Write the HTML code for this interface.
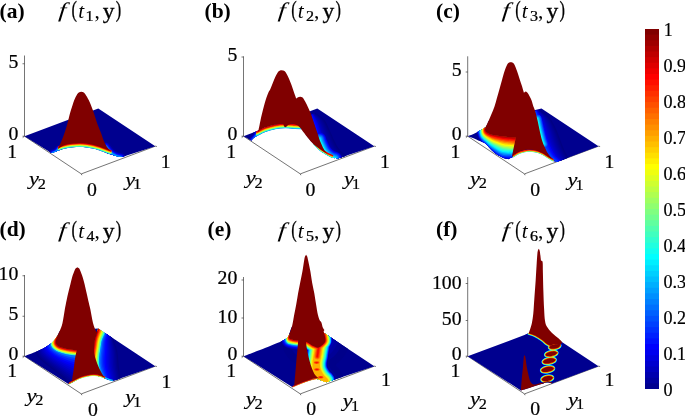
<!DOCTYPE html>
<html><head><meta charset="utf-8"><title>figure</title>
<style>
html,body{margin:0;padding:0;background:#fff;}
svg{display:block;font-family:"Liberation Serif","DejaVu Serif",serif;fill:#000;}
.b{font-weight:bold;}
.i{font-style:italic;}
</style></head><body>
<svg width="685" height="417" viewBox="0 0 685 417">
<rect width="685" height="417" fill="#fff"/>
<rect x="645" y="29.000" width="14" height="360.000" fill="#800000"/>
<rect x="645" y="34.625" width="14" height="354.375" fill="#8f0000"/>
<rect x="645" y="40.250" width="14" height="348.750" fill="#9f0000"/>
<rect x="645" y="45.875" width="14" height="343.125" fill="#af0000"/>
<rect x="645" y="51.500" width="14" height="337.500" fill="#bf0000"/>
<rect x="645" y="57.125" width="14" height="331.875" fill="#cf0000"/>
<rect x="645" y="62.750" width="14" height="326.250" fill="#df0000"/>
<rect x="645" y="68.375" width="14" height="320.625" fill="#ef0000"/>
<rect x="645" y="74.000" width="14" height="315.000" fill="#ff0000"/>
<rect x="645" y="79.625" width="14" height="309.375" fill="#ff1000"/>
<rect x="645" y="85.250" width="14" height="303.750" fill="#ff2000"/>
<rect x="645" y="90.875" width="14" height="298.125" fill="#ff3000"/>
<rect x="645" y="96.500" width="14" height="292.500" fill="#ff4000"/>
<rect x="645" y="102.125" width="14" height="286.875" fill="#ff5000"/>
<rect x="645" y="107.750" width="14" height="281.250" fill="#ff6000"/>
<rect x="645" y="113.375" width="14" height="275.625" fill="#ff7000"/>
<rect x="645" y="119.000" width="14" height="270.000" fill="#ff8000"/>
<rect x="645" y="124.625" width="14" height="264.375" fill="#ff8f00"/>
<rect x="645" y="130.250" width="14" height="258.750" fill="#ff9f00"/>
<rect x="645" y="135.875" width="14" height="253.125" fill="#ffaf00"/>
<rect x="645" y="141.500" width="14" height="247.500" fill="#ffbf00"/>
<rect x="645" y="147.125" width="14" height="241.875" fill="#ffcf00"/>
<rect x="645" y="152.750" width="14" height="236.250" fill="#ffdf00"/>
<rect x="645" y="158.375" width="14" height="230.625" fill="#ffef00"/>
<rect x="645" y="164.000" width="14" height="225.000" fill="#ffff00"/>
<rect x="645" y="169.625" width="14" height="219.375" fill="#efff10"/>
<rect x="645" y="175.250" width="14" height="213.750" fill="#dfff20"/>
<rect x="645" y="180.875" width="14" height="208.125" fill="#cfff30"/>
<rect x="645" y="186.500" width="14" height="202.500" fill="#bfff40"/>
<rect x="645" y="192.125" width="14" height="196.875" fill="#afff50"/>
<rect x="645" y="197.750" width="14" height="191.250" fill="#9fff60"/>
<rect x="645" y="203.375" width="14" height="185.625" fill="#8fff70"/>
<rect x="645" y="209.000" width="14" height="180.000" fill="#80ff80"/>
<rect x="645" y="214.625" width="14" height="174.375" fill="#70ff8f"/>
<rect x="645" y="220.250" width="14" height="168.750" fill="#60ff9f"/>
<rect x="645" y="225.875" width="14" height="163.125" fill="#50ffaf"/>
<rect x="645" y="231.500" width="14" height="157.500" fill="#40ffbf"/>
<rect x="645" y="237.125" width="14" height="151.875" fill="#30ffcf"/>
<rect x="645" y="242.750" width="14" height="146.250" fill="#20ffdf"/>
<rect x="645" y="248.375" width="14" height="140.625" fill="#10ffef"/>
<rect x="645" y="254.000" width="14" height="135.000" fill="#00ffff"/>
<rect x="645" y="259.625" width="14" height="129.375" fill="#00efff"/>
<rect x="645" y="265.250" width="14" height="123.750" fill="#00dfff"/>
<rect x="645" y="270.875" width="14" height="118.125" fill="#00cfff"/>
<rect x="645" y="276.500" width="14" height="112.500" fill="#00bfff"/>
<rect x="645" y="282.125" width="14" height="106.875" fill="#00afff"/>
<rect x="645" y="287.750" width="14" height="101.250" fill="#009fff"/>
<rect x="645" y="293.375" width="14" height="95.625" fill="#008fff"/>
<rect x="645" y="299.000" width="14" height="90.000" fill="#0080ff"/>
<rect x="645" y="304.625" width="14" height="84.375" fill="#0070ff"/>
<rect x="645" y="310.250" width="14" height="78.750" fill="#0060ff"/>
<rect x="645" y="315.875" width="14" height="73.125" fill="#0050ff"/>
<rect x="645" y="321.500" width="14" height="67.500" fill="#0040ff"/>
<rect x="645" y="327.125" width="14" height="61.875" fill="#0030ff"/>
<rect x="645" y="332.750" width="14" height="56.250" fill="#0020ff"/>
<rect x="645" y="338.375" width="14" height="50.625" fill="#0010ff"/>
<rect x="645" y="344.000" width="14" height="45.000" fill="#0000ff"/>
<rect x="645" y="349.625" width="14" height="39.375" fill="#0000ef"/>
<rect x="645" y="355.250" width="14" height="33.750" fill="#0000df"/>
<rect x="645" y="360.875" width="14" height="28.125" fill="#0000cf"/>
<rect x="645" y="366.500" width="14" height="22.500" fill="#0000bf"/>
<rect x="645" y="372.125" width="14" height="16.875" fill="#0000af"/>
<rect x="645" y="377.750" width="14" height="11.250" fill="#00009f"/>
<rect x="645" y="383.375" width="14" height="5.625" fill="#00008f"/>
<text x="663.50" y="396.00" font-size="18.10" text-anchor="start"  stroke="#000" stroke-width="0.2">0</text>
<text x="663.50" y="360.00" font-size="18.10" text-anchor="start"  stroke="#000" stroke-width="0.2">0.1</text>
<text x="663.50" y="324.00" font-size="18.10" text-anchor="start"  stroke="#000" stroke-width="0.2">0.2</text>
<text x="663.50" y="288.00" font-size="18.10" text-anchor="start"  stroke="#000" stroke-width="0.2">0.3</text>
<text x="663.50" y="252.00" font-size="18.10" text-anchor="start"  stroke="#000" stroke-width="0.2">0.4</text>
<text x="663.50" y="216.00" font-size="18.10" text-anchor="start"  stroke="#000" stroke-width="0.2">0.5</text>
<text x="663.50" y="180.00" font-size="18.10" text-anchor="start"  stroke="#000" stroke-width="0.2">0.6</text>
<text x="663.50" y="144.00" font-size="18.10" text-anchor="start"  stroke="#000" stroke-width="0.2">0.7</text>
<text x="663.50" y="108.00" font-size="18.10" text-anchor="start"  stroke="#000" stroke-width="0.2">0.8</text>
<text x="663.50" y="72.00" font-size="18.10" text-anchor="start"  stroke="#000" stroke-width="0.2">0.9</text>
<text x="663.80" y="36.00" font-size="18.10" text-anchor="start"  stroke="#000" stroke-width="0.2">1</text>
<text x="-0.50" y="17.80" font-size="21.50" text-anchor="start" style="font-weight:bold" >(a)</text>
<g font-size="21.3">
<text transform="translate(58.20,17.10) skewX(-5) scale(1.26,0.98)" font-style="italic">f</text>
<text transform="translate(71.60,16.80) scale(0.78,1.11)" font-size="21" stroke="#000" stroke-width="0.25">(</text>
<text x="78.20" y="17.80" font-style="italic">t</text>
<text transform="translate(85.40,20.50) scale(1.15,1)" font-size="14" stroke="#000" stroke-width="0.25">1</text>
<text x="94.50" y="17.80">,</text>
<text transform="translate(102.80,17.80) scale(1.12,0.97)" font-size="21" stroke="#000" stroke-width="0.3">y</text>
<text transform="translate(115.80,16.80) scale(0.78,1.11)" font-size="21" stroke="#000" stroke-width="0.25">)</text>
</g>
<text x="204.50" y="17.80" font-size="21.50" text-anchor="start" style="font-weight:bold" >(b)</text>
<g font-size="21.3">
<text transform="translate(277.80,17.10) skewX(-5) scale(1.26,0.98)" font-style="italic">f</text>
<text transform="translate(291.20,16.80) scale(0.78,1.11)" font-size="21" stroke="#000" stroke-width="0.25">(</text>
<text x="297.80" y="17.80" font-style="italic">t</text>
<text transform="translate(306.00,20.50) scale(1.15,1)" font-size="14" stroke="#000" stroke-width="0.25">2</text>
<text x="314.10" y="17.80">,</text>
<text transform="translate(322.40,17.80) scale(1.12,0.97)" font-size="21" stroke="#000" stroke-width="0.3">y</text>
<text transform="translate(335.40,16.80) scale(0.78,1.11)" font-size="21" stroke="#000" stroke-width="0.25">)</text>
</g>
<text x="436.00" y="17.80" font-size="21.50" text-anchor="start" style="font-weight:bold" >(c)</text>
<g font-size="21.3">
<text transform="translate(501.80,17.10) skewX(-5) scale(1.26,0.98)" font-style="italic">f</text>
<text transform="translate(515.20,16.80) scale(0.78,1.11)" font-size="21" stroke="#000" stroke-width="0.25">(</text>
<text x="521.80" y="17.80" font-style="italic">t</text>
<text transform="translate(530.00,20.50) scale(1.15,1)" font-size="14" stroke="#000" stroke-width="0.25">3</text>
<text x="538.10" y="17.80">,</text>
<text transform="translate(546.40,17.80) scale(1.12,0.97)" font-size="21" stroke="#000" stroke-width="0.3">y</text>
<text transform="translate(559.40,16.80) scale(0.78,1.11)" font-size="21" stroke="#000" stroke-width="0.25">)</text>
</g>
<text x="-0.50" y="236.10" font-size="21.50" text-anchor="start" style="font-weight:bold" >(d)</text>
<g font-size="21.3">
<text transform="translate(58.20,237.10) skewX(-5) scale(1.26,0.98)" font-style="italic">f</text>
<text transform="translate(71.60,236.80) scale(0.78,1.11)" font-size="21" stroke="#000" stroke-width="0.25">(</text>
<text x="78.20" y="237.80" font-style="italic">t</text>
<text transform="translate(86.40,240.50) scale(1.15,1)" font-size="14" stroke="#000" stroke-width="0.25">4</text>
<text x="94.50" y="237.80">,</text>
<text transform="translate(102.80,237.80) scale(1.12,0.97)" font-size="21" stroke="#000" stroke-width="0.3">y</text>
<text transform="translate(115.80,236.80) scale(0.78,1.11)" font-size="21" stroke="#000" stroke-width="0.25">)</text>
</g>
<text x="207.50" y="236.10" font-size="21.50" text-anchor="start" style="font-weight:bold" >(e)</text>
<g font-size="21.3">
<text transform="translate(277.80,237.10) skewX(-5) scale(1.26,0.98)" font-style="italic">f</text>
<text transform="translate(291.20,236.80) scale(0.78,1.11)" font-size="21" stroke="#000" stroke-width="0.25">(</text>
<text x="297.80" y="237.80" font-style="italic">t</text>
<text transform="translate(306.00,240.50) scale(1.15,1)" font-size="14" stroke="#000" stroke-width="0.25">5</text>
<text x="314.10" y="237.80">,</text>
<text transform="translate(322.40,237.80) scale(1.12,0.97)" font-size="21" stroke="#000" stroke-width="0.3">y</text>
<text transform="translate(335.40,236.80) scale(0.78,1.11)" font-size="21" stroke="#000" stroke-width="0.25">)</text>
</g>
<text x="436.00" y="236.10" font-size="21.50" text-anchor="start" style="font-weight:bold" >(f)</text>
<g font-size="21.3">
<text transform="translate(501.80,237.10) skewX(-5) scale(1.26,0.98)" font-style="italic">f</text>
<text transform="translate(515.20,236.80) scale(0.78,1.11)" font-size="21" stroke="#000" stroke-width="0.25">(</text>
<text x="521.80" y="237.80" font-style="italic">t</text>
<text transform="translate(530.00,240.50) scale(1.15,1)" font-size="14" stroke="#000" stroke-width="0.25">6</text>
<text x="538.10" y="237.80">,</text>
<text transform="translate(546.40,237.80) scale(1.12,0.97)" font-size="21" stroke="#000" stroke-width="0.3">y</text>
<text transform="translate(559.40,236.80) scale(0.78,1.11)" font-size="21" stroke="#000" stroke-width="0.25">)</text>
</g>
<g stroke="#3a3a3a" stroke-width="0.7" fill="none">
<path d="M24.50 136.20L81.30 173.90L155.30 146.20"/>
<path d="M24.50 136.20L24.50 55.50"/>
<path d="M24.50 63.75h-2"/>
<path d="M24.50 136.20h-2"/>
<path d="M24.50 136.20l-1.8 1.4"/>
<path d="M81.30 173.90l0.6 1.3"/>
<path d="M155.30 146.20l1.6 0.3"/>
</g>
<text transform="translate(18.30,68.00) scale(1.08,1)" font-size="18.3" text-anchor="end" stroke="#000" stroke-width="0.2">5</text>
<text transform="translate(18.30,140.30) scale(1.08,1)" font-size="18.3" text-anchor="end" stroke="#000" stroke-width="0.2">0</text>
<text transform="translate(17.10,157.60) scale(1.08,1)" font-size="18.3" text-anchor="end" stroke="#000" stroke-width="0.2">1</text>
<text transform="translate(29.10,185.00) scale(1.18,1)" font-size="19" font-style="italic" stroke="#000" stroke-width="0.15">y</text>
<text transform="translate(37.80,188.50) scale(1.08,1)" font-size="15" stroke="#000" stroke-width="0.2">2</text>
<text transform="translate(86.90,196.20) scale(1.08,1)" font-size="18.3" text-anchor="start" stroke="#000" stroke-width="0.2">0</text>
<text transform="translate(125.20,185.80) scale(1.18,1)" font-size="19" font-style="italic" stroke="#000" stroke-width="0.15">y</text>
<text transform="translate(133.30,189.30) scale(1.08,1)" font-size="15" stroke="#000" stroke-width="0.2">1</text>
<text transform="translate(160.80,167.70) scale(1.08,1)" font-size="18.3" text-anchor="start" stroke="#000" stroke-width="0.2">1</text>
<clipPath id="ca"><path d="M24.50 136.20L98.30 108.60L98.30 108.60L155.30 146.20L155.30 146.20L122.00 157.00L122.00 157.00C121.17 156.87 118.77 156.60 117.00 156.20C115.23 155.80 113.38 155.23 111.40 154.60C109.42 153.97 107.33 153.18 105.10 152.40C102.87 151.62 100.08 150.55 98.00 149.90C95.92 149.25 94.60 148.92 92.60 148.50C90.60 148.08 88.10 147.65 86.00 147.40C83.90 147.15 82.33 147.00 80.00 147.00C77.67 147.00 74.67 147.10 72.00 147.40C69.33 147.70 66.33 148.23 64.00 148.80C61.67 149.37 59.67 150.23 58.00 150.80C56.33 151.37 55.10 151.85 54.00 152.20C52.90 152.55 51.83 152.78 51.40 152.90L51.40 152.90L24.50 136.20Z"/></clipPath>
<path d="M24.50 136.20L98.30 108.60L98.30 108.60L155.30 146.20L155.30 146.20L122.00 157.00L122.00 157.00C121.17 156.87 118.77 156.60 117.00 156.20C115.23 155.80 113.38 155.23 111.40 154.60C109.42 153.97 107.33 153.18 105.10 152.40C102.87 151.62 100.08 150.55 98.00 149.90C95.92 149.25 94.60 148.92 92.60 148.50C90.60 148.08 88.10 147.65 86.00 147.40C83.90 147.15 82.33 147.00 80.00 147.00C77.67 147.00 74.67 147.10 72.00 147.40C69.33 147.70 66.33 148.23 64.00 148.80C61.67 149.37 59.67 150.23 58.00 150.80C56.33 151.37 55.10 151.85 54.00 152.20C52.90 152.55 51.83 152.78 51.40 152.90L51.40 152.90L24.50 136.20Z" fill="#00008f"/>
<g fill="none" stroke-linejoin="round" stroke-linecap="round" clip-path="url(#ca)" >
<path d="M58.50 148.50C58.08 148.97 57.00 150.58 56.00 151.30C55.00 152.02 53.08 152.55 52.50 152.80" stroke="#000094" stroke-width="8.00"/>
<path d="M58.50 148.50C58.08 148.97 57.00 150.58 56.00 151.30C55.00 152.02 53.08 152.55 52.50 152.80" stroke="#0000b6" stroke-width="5.67"/>
<path d="M58.50 148.50C58.08 148.97 57.00 150.58 56.00 151.30C55.00 152.02 53.08 152.55 52.50 152.80" stroke="#0000d8" stroke-width="4.42"/>
<path d="M58.50 148.50C58.08 148.97 57.00 150.58 56.00 151.30C55.00 152.02 53.08 152.55 52.50 152.80" stroke="#0000fa" stroke-width="3.54"/>
<path d="M58.50 148.50C58.08 148.97 57.00 150.58 56.00 151.30C55.00 152.02 53.08 152.55 52.50 152.80" stroke="#001dff" stroke-width="2.83"/>
<path d="M58.50 148.50C58.08 148.97 57.00 150.58 56.00 151.30C55.00 152.02 53.08 152.55 52.50 152.80" stroke="#003fff" stroke-width="2.23"/>
<path d="M58.50 148.50C58.08 148.97 57.00 150.58 56.00 151.30C55.00 152.02 53.08 152.55 52.50 152.80" stroke="#0061ff" stroke-width="1.70"/>
<path d="M58.50 148.50C58.08 148.97 57.00 150.58 56.00 151.30C55.00 152.02 53.08 152.55 52.50 152.80" stroke="#0083ff" stroke-width="1.21"/>
<path d="M58.50 148.50C58.08 148.97 57.00 150.58 56.00 151.30C55.00 152.02 53.08 152.55 52.50 152.80" stroke="#00a5ff" stroke-width="0.73"/>
<path d="M58.50 148.50C58.08 148.97 57.00 150.58 56.00 151.30C55.00 152.02 53.08 152.55 52.50 152.80" stroke="#00c7ff" stroke-width="0.21"/>
</g>
<g fill="none" stroke-linejoin="round" stroke-linecap="round" clip-path="url(#ca)" >
<path d="M106.00 146.50C106.80 147.50 109.13 150.95 110.80 152.50C112.47 154.05 114.30 155.02 116.00 155.80C117.70 156.58 120.17 156.97 121.00 157.20" stroke="#000094" stroke-width="11.00"/>
<path d="M106.00 146.50C106.80 147.50 109.13 150.95 110.80 152.50C112.47 154.05 114.30 155.02 116.00 155.80C117.70 156.58 120.17 156.97 121.00 157.20" stroke="#0000b6" stroke-width="7.79"/>
<path d="M106.00 146.50C106.80 147.50 109.13 150.95 110.80 152.50C112.47 154.05 114.30 155.02 116.00 155.80C117.70 156.58 120.17 156.97 121.00 157.20" stroke="#0000d8" stroke-width="6.08"/>
<path d="M106.00 146.50C106.80 147.50 109.13 150.95 110.80 152.50C112.47 154.05 114.30 155.02 116.00 155.80C117.70 156.58 120.17 156.97 121.00 157.20" stroke="#0000fa" stroke-width="4.87"/>
<path d="M106.00 146.50C106.80 147.50 109.13 150.95 110.80 152.50C112.47 154.05 114.30 155.02 116.00 155.80C117.70 156.58 120.17 156.97 121.00 157.20" stroke="#001dff" stroke-width="3.90"/>
<path d="M106.00 146.50C106.80 147.50 109.13 150.95 110.80 152.50C112.47 154.05 114.30 155.02 116.00 155.80C117.70 156.58 120.17 156.97 121.00 157.20" stroke="#003fff" stroke-width="3.07"/>
<path d="M106.00 146.50C106.80 147.50 109.13 150.95 110.80 152.50C112.47 154.05 114.30 155.02 116.00 155.80C117.70 156.58 120.17 156.97 121.00 157.20" stroke="#0061ff" stroke-width="2.34"/>
<path d="M106.00 146.50C106.80 147.50 109.13 150.95 110.80 152.50C112.47 154.05 114.30 155.02 116.00 155.80C117.70 156.58 120.17 156.97 121.00 157.20" stroke="#0083ff" stroke-width="1.66"/>
<path d="M106.00 146.50C106.80 147.50 109.13 150.95 110.80 152.50C112.47 154.05 114.30 155.02 116.00 155.80C117.70 156.58 120.17 156.97 121.00 157.20" stroke="#00a5ff" stroke-width="1.00"/>
<path d="M106.00 146.50C106.80 147.50 109.13 150.95 110.80 152.50C112.47 154.05 114.30 155.02 116.00 155.80C117.70 156.58 120.17 156.97 121.00 157.20" stroke="#00c7ff" stroke-width="0.29"/>
</g>
<g fill="none" clip-path="url(#ca)">
<path d="M111.40 154.60C110.35 154.23 107.33 153.18 105.10 152.40C102.87 151.62 100.08 150.55 98.00 149.90C95.92 149.25 94.60 148.92 92.60 148.50C90.60 148.08 88.10 147.65 86.00 147.40C83.90 147.15 82.33 147.00 80.00 147.00C77.67 147.00 74.67 147.10 72.00 147.40C69.33 147.70 66.33 148.23 64.00 148.80C61.67 149.37 59.00 150.47 58.00 150.80" transform="translate(0,-0.30)" stroke="#00c7ff" stroke-width="1.30"/>
<path d="M111.40 154.60C110.35 154.23 107.33 153.18 105.10 152.40C102.87 151.62 100.08 150.55 98.00 149.90C95.92 149.25 94.60 148.92 92.60 148.50C90.60 148.08 88.10 147.65 86.00 147.40C83.90 147.15 82.33 147.00 80.00 147.00C77.67 147.00 74.67 147.10 72.00 147.40C69.33 147.70 66.33 148.23 64.00 148.80C61.67 149.37 59.00 150.47 58.00 150.80" transform="translate(0,-0.90)" stroke="#2effd1" stroke-width="1.30"/>
<path d="M111.40 154.60C110.35 154.23 107.33 153.18 105.10 152.40C102.87 151.62 100.08 150.55 98.00 149.90C95.92 149.25 94.60 148.92 92.60 148.50C90.60 148.08 88.10 147.65 86.00 147.40C83.90 147.15 82.33 147.00 80.00 147.00C77.67 147.00 74.67 147.10 72.00 147.40C69.33 147.70 66.33 148.23 64.00 148.80C61.67 149.37 59.00 150.47 58.00 150.80" transform="translate(0,-1.50)" stroke="#80ff80" stroke-width="1.30"/>
<path d="M111.40 154.60C110.35 154.23 107.33 153.18 105.10 152.40C102.87 151.62 100.08 150.55 98.00 149.90C95.92 149.25 94.60 148.92 92.60 148.50C90.60 148.08 88.10 147.65 86.00 147.40C83.90 147.15 82.33 147.00 80.00 147.00C77.67 147.00 74.67 147.10 72.00 147.40C69.33 147.70 66.33 148.23 64.00 148.80C61.67 149.37 59.00 150.47 58.00 150.80" transform="translate(0,-2.10)" stroke="#e5ff1a" stroke-width="1.30"/>
<path d="M111.40 154.60C110.35 154.23 107.33 153.18 105.10 152.40C102.87 151.62 100.08 150.55 98.00 149.90C95.92 149.25 94.60 148.92 92.60 148.50C90.60 148.08 88.10 147.65 86.00 147.40C83.90 147.15 82.33 147.00 80.00 147.00C77.67 147.00 74.67 147.10 72.00 147.40C69.33 147.70 66.33 148.23 64.00 148.80C61.67 149.37 59.00 150.47 58.00 150.80" transform="translate(0,-2.70)" stroke="#ffb300" stroke-width="1.30"/>
<path d="M111.40 154.60C110.35 154.23 107.33 153.18 105.10 152.40C102.87 151.62 100.08 150.55 98.00 149.90C95.92 149.25 94.60 148.92 92.60 148.50C90.60 148.08 88.10 147.65 86.00 147.40C83.90 147.15 82.33 147.00 80.00 147.00C77.67 147.00 74.67 147.10 72.00 147.40C69.33 147.70 66.33 148.23 64.00 148.80C61.67 149.37 59.00 150.47 58.00 150.80" transform="translate(0,-3.30)" stroke="#ff3800" stroke-width="1.30"/>
<path d="M111.40 154.60C110.35 154.23 107.33 153.18 105.10 152.40C102.87 151.62 100.08 150.55 98.00 149.90C95.92 149.25 94.60 148.92 92.60 148.50C90.60 148.08 88.10 147.65 86.00 147.40C83.90 147.15 82.33 147.00 80.00 147.00C77.67 147.00 74.67 147.10 72.00 147.40C69.33 147.70 66.33 148.23 64.00 148.80C61.67 149.37 59.00 150.47 58.00 150.80" transform="translate(0,-3.80)" stroke="#e50000" stroke-width="1.30"/>
</g>
<path d="M57.70 149.30C58.32 147.97 60.27 144.02 61.40 141.30C62.53 138.58 63.55 135.77 64.50 133.00C65.45 130.23 66.45 126.90 67.10 124.70C67.75 122.50 67.98 121.45 68.40 119.80C68.82 118.15 69.16 116.47 69.60 114.80C70.04 113.13 70.55 111.45 71.05 109.80C71.55 108.15 72.06 106.55 72.60 104.90C73.14 103.25 73.60 101.57 74.30 99.90C75.00 98.23 76.05 96.12 76.80 94.90C77.55 93.68 78.05 93.13 78.80 92.60C79.55 92.07 80.47 91.70 81.30 91.70C82.13 91.70 83.06 92.07 83.80 92.60C84.54 93.13 84.93 93.68 85.75 94.90C86.57 96.12 87.84 98.23 88.70 99.90C89.56 101.57 90.23 103.25 90.90 104.90C91.57 106.55 92.12 108.15 92.70 109.80C93.28 111.45 93.85 113.13 94.40 114.80C94.95 116.47 95.45 118.15 96.00 119.80C96.55 121.45 96.82 122.37 97.70 124.70C98.58 127.03 100.27 131.03 101.30 133.80C102.33 136.57 102.95 139.10 103.90 141.30C104.85 143.50 105.85 145.32 107.00 147.00C108.15 148.68 110.17 150.67 110.80 151.40L110.80 151.40C109.85 150.97 107.23 149.67 105.10 148.80C102.97 147.93 100.08 146.88 98.00 146.20C95.92 145.52 94.60 145.13 92.60 144.70C90.60 144.27 88.10 143.85 86.00 143.60C83.90 143.35 82.33 143.18 80.00 143.20C77.67 143.22 74.67 143.35 72.00 143.70C69.33 144.05 66.38 144.37 64.00 145.30C61.62 146.23 58.75 148.63 57.70 149.30Z" fill="#800000"/>
<g stroke="#3a3a3a" stroke-width="0.7" fill="none">
<path d="M243.50 136.20L300.30 173.90L374.30 146.20"/>
<path d="M243.50 136.20L243.50 56.30"/>
<path d="M243.50 57.00h-2"/>
<path d="M243.50 136.20h-2"/>
<path d="M243.50 136.20l-1.8 1.4"/>
<path d="M300.30 173.90l0.6 1.3"/>
<path d="M374.30 146.20l1.6 0.3"/>
</g>
<text transform="translate(237.30,60.60) scale(1.08,1)" font-size="18.3" text-anchor="end" stroke="#000" stroke-width="0.2">5</text>
<text transform="translate(237.30,140.30) scale(1.08,1)" font-size="18.3" text-anchor="end" stroke="#000" stroke-width="0.2">0</text>
<text transform="translate(236.10,157.60) scale(1.08,1)" font-size="18.3" text-anchor="end" stroke="#000" stroke-width="0.2">1</text>
<text transform="translate(245.70,184.30) scale(1.18,1)" font-size="19" font-style="italic" stroke="#000" stroke-width="0.15">y</text>
<text transform="translate(254.40,187.80) scale(1.08,1)" font-size="15" stroke="#000" stroke-width="0.2">2</text>
<text transform="translate(305.60,196.00) scale(1.08,1)" font-size="18.3" text-anchor="start" stroke="#000" stroke-width="0.2">0</text>
<text transform="translate(343.90,185.30) scale(1.18,1)" font-size="19" font-style="italic" stroke="#000" stroke-width="0.15">y</text>
<text transform="translate(352.00,188.80) scale(1.08,1)" font-size="15" stroke="#000" stroke-width="0.2">1</text>
<text transform="translate(380.10,167.50) scale(1.08,1)" font-size="18.3" text-anchor="start" stroke="#000" stroke-width="0.2">1</text>
<clipPath id="cb"><path d="M243.50 136.20L317.30 108.60L317.30 108.60L374.30 146.20L374.30 146.20L337.70 158.40L337.70 158.40C336.92 158.30 334.25 158.10 333.00 157.80C331.75 157.50 331.37 157.18 330.20 156.60C329.03 156.02 327.68 155.33 326.00 154.30C324.32 153.27 322.13 152.07 320.10 150.40C318.07 148.73 315.88 146.53 313.80 144.30C311.72 142.07 309.65 139.55 307.60 137.00C305.55 134.45 303.57 130.38 301.50 129.00C299.43 127.62 297.92 128.85 295.20 128.70C292.48 128.55 288.53 128.03 285.20 128.10C281.87 128.17 278.55 128.47 275.20 129.10C271.85 129.73 268.25 130.72 265.10 131.90C261.95 133.08 258.32 135.08 256.30 136.20C254.28 137.32 253.83 137.87 253.00 138.60C252.17 139.33 251.58 140.27 251.30 140.60L251.30 140.60L243.50 136.20Z"/></clipPath>
<path d="M243.50 136.20L317.30 108.60L317.30 108.60L374.30 146.20L374.30 146.20L337.70 158.40L337.70 158.40C336.92 158.30 334.25 158.10 333.00 157.80C331.75 157.50 331.37 157.18 330.20 156.60C329.03 156.02 327.68 155.33 326.00 154.30C324.32 153.27 322.13 152.07 320.10 150.40C318.07 148.73 315.88 146.53 313.80 144.30C311.72 142.07 309.65 139.55 307.60 137.00C305.55 134.45 303.57 130.38 301.50 129.00C299.43 127.62 297.92 128.85 295.20 128.70C292.48 128.55 288.53 128.03 285.20 128.10C281.87 128.17 278.55 128.47 275.20 129.10C271.85 129.73 268.25 130.72 265.10 131.90C261.95 133.08 258.32 135.08 256.30 136.20C254.28 137.32 253.83 137.87 253.00 138.60C252.17 139.33 251.58 140.27 251.30 140.60L251.30 140.60L243.50 136.20Z" fill="#00008f"/>
<g clip-path="url(#cb)">
<path d="M313.00 114.00C313.75 115.25 316.07 118.37 317.50 121.50C318.93 124.63 320.38 129.48 321.60 132.80C322.82 136.12 323.57 138.60 324.80 141.40C326.03 144.20 327.47 147.40 329.00 149.60C330.53 151.80 332.00 153.20 334.00 154.60C336.00 156.00 339.83 157.43 341.00 158.00L349.00 157.00C348.00 156.33 344.83 154.58 343.00 153.00C341.17 151.42 339.50 149.67 338.00 147.50C336.50 145.33 335.33 142.75 334.00 140.00C332.67 137.25 331.67 134.42 330.00 131.00C328.33 127.58 326.50 122.50 324.00 119.50C321.50 116.50 316.50 114.08 315.00 113.00Z" fill="#000082"/>
<path d="M313.00 114.00C313.75 115.25 316.07 118.37 317.50 121.50C318.93 124.63 320.38 129.48 321.60 132.80C322.82 136.12 323.57 138.60 324.80 141.40C326.03 144.20 327.47 147.40 329.00 149.60C330.53 151.80 332.00 153.20 334.00 154.60C336.00 156.00 339.83 157.43 341.00 158.00L348.20 157.10C347.18 156.44 343.95 154.73 342.10 153.16C340.25 151.60 338.60 149.88 337.10 147.71C335.60 145.54 334.40 142.89 333.08 140.14C331.76 137.38 330.78 134.59 329.16 131.18C327.54 127.77 325.74 122.71 323.35 119.70C320.96 116.69 316.23 114.20 314.80 113.10Z" fill="#000087"/>
<path d="M313.00 114.00C313.75 115.25 316.07 118.37 317.50 121.50C318.93 124.63 320.38 129.48 321.60 132.80C322.82 136.12 323.57 138.60 324.80 141.40C326.03 144.20 327.47 147.40 329.00 149.60C330.53 151.80 332.00 153.20 334.00 154.60C336.00 156.00 339.83 157.43 341.00 158.00L347.40 157.20C346.37 156.55 343.07 154.87 341.20 153.32C339.33 151.77 337.71 150.09 336.20 147.92C334.69 145.75 333.47 143.04 332.16 140.28C330.85 137.52 329.90 134.76 328.32 131.36C326.74 127.96 324.99 122.93 322.70 119.90C320.41 116.87 315.95 114.32 314.60 113.20Z" fill="#00008d"/>
<path d="M313.00 114.00C313.75 115.25 316.07 118.37 317.50 121.50C318.93 124.63 320.38 129.48 321.60 132.80C322.82 136.12 323.57 138.60 324.80 141.40C326.03 144.20 327.47 147.40 329.00 149.60C330.53 151.80 332.00 153.20 334.00 154.60C336.00 156.00 339.83 157.43 341.00 158.00L346.60 157.30C345.55 156.66 342.18 155.01 340.30 153.48C338.42 151.95 336.81 150.31 335.30 148.13C333.79 145.95 332.54 143.19 331.24 140.42C329.94 137.66 329.01 134.93 327.48 131.54C325.95 128.15 324.23 123.14 322.05 120.10C319.87 117.06 315.68 114.43 314.40 113.30Z" fill="#000092"/>
<path d="M313.00 114.00C313.75 115.25 316.07 118.37 317.50 121.50C318.93 124.63 320.38 129.48 321.60 132.80C322.82 136.12 323.57 138.60 324.80 141.40C326.03 144.20 327.47 147.40 329.00 149.60C330.53 151.80 332.00 153.20 334.00 154.60C336.00 156.00 339.83 157.43 341.00 158.00L345.80 157.40C344.73 156.77 341.30 155.15 339.40 153.64C337.50 152.13 335.91 150.52 334.40 148.34C332.89 146.16 331.61 143.33 330.32 140.56C329.03 137.79 328.13 135.10 326.64 131.72C325.15 128.34 323.47 123.35 321.40 120.30C319.33 117.25 315.40 114.55 314.20 113.40Z" fill="#000098"/>
<path d="M313.00 114.00C313.75 115.25 316.07 118.37 317.50 121.50C318.93 124.63 320.38 129.48 321.60 132.80C322.82 136.12 323.57 138.60 324.80 141.40C326.03 144.20 327.47 147.40 329.00 149.60C330.53 151.80 332.00 153.20 334.00 154.60C336.00 156.00 339.83 157.43 341.00 158.00L345.00 157.50C343.92 156.88 340.42 155.29 338.50 153.80C336.58 152.31 335.02 150.73 333.50 148.55C331.98 146.37 330.68 143.47 329.40 140.70C328.12 137.92 327.24 135.27 325.80 131.90C324.36 128.53 322.72 123.57 320.75 120.50C318.78 117.43 315.12 114.67 314.00 113.50Z" fill="#00009e"/>
<path d="M313.00 114.00C313.75 115.25 316.07 118.37 317.50 121.50C318.93 124.63 320.38 129.48 321.60 132.80C322.82 136.12 323.57 138.60 324.80 141.40C326.03 144.20 327.47 147.40 329.00 149.60C330.53 151.80 332.00 153.20 334.00 154.60C336.00 156.00 339.83 157.43 341.00 158.00L344.20 157.60C343.10 156.99 339.53 155.43 337.60 153.96C335.67 152.49 334.12 150.95 332.60 148.76C331.08 146.57 329.75 143.62 328.48 140.84C327.21 138.06 326.36 135.44 324.96 132.08C323.56 128.72 321.96 123.78 320.10 120.70C318.24 117.62 314.85 114.78 313.80 113.60Z" fill="#0000a5"/>
<path d="M313.00 114.00C313.75 115.25 316.07 118.37 317.50 121.50C318.93 124.63 320.38 129.48 321.60 132.80C322.82 136.12 323.57 138.60 324.80 141.40C326.03 144.20 327.47 147.40 329.00 149.60C330.53 151.80 332.00 153.20 334.00 154.60C336.00 156.00 339.83 157.43 341.00 158.00L343.40 157.70C342.28 157.10 338.65 155.57 336.70 154.12C334.75 152.66 333.22 151.16 331.70 148.97C330.18 146.78 328.82 143.77 327.56 140.98C326.30 138.20 325.47 135.61 324.12 132.26C322.77 128.91 321.20 123.99 319.45 120.90C317.70 117.81 314.58 114.90 313.60 113.70Z" fill="#0000ac"/>
<path d="M313.00 114.00C313.75 115.25 316.07 118.37 317.50 121.50C318.93 124.63 320.38 129.48 321.60 132.80C322.82 136.12 323.57 138.60 324.80 141.40C326.03 144.20 327.47 147.40 329.00 149.60C330.53 151.80 332.00 153.20 334.00 154.60C336.00 156.00 339.83 157.43 341.00 158.00L342.60 157.80C341.47 157.21 337.77 155.72 335.80 154.28C333.83 152.84 332.33 151.37 330.80 149.18C329.27 146.99 327.89 143.91 326.64 141.12C325.39 138.33 324.59 135.78 323.28 132.44C321.97 129.10 320.45 124.21 318.80 121.10C317.15 117.99 314.30 115.02 313.40 113.80Z" fill="#0000b4"/>
<path d="M313.00 114.00C313.75 115.25 316.07 118.37 317.50 121.50C318.93 124.63 320.38 129.48 321.60 132.80C322.82 136.12 323.57 138.60 324.80 141.40C326.03 144.20 327.47 147.40 329.00 149.60C330.53 151.80 332.00 153.20 334.00 154.60C336.00 156.00 339.83 157.43 341.00 158.00L341.80 157.90C340.65 157.32 336.88 155.86 334.90 154.44C332.92 153.02 331.43 151.59 329.90 149.39C328.37 147.19 326.96 144.05 325.72 141.26C324.48 138.47 323.70 135.95 322.44 132.62C321.18 129.29 319.69 124.42 318.15 121.30C316.61 118.18 314.02 115.13 313.20 113.90Z" fill="#0000be"/>
</g>
<g clip-path="url(#cb)">
<path d="M311.30 115.00C311.72 116.25 312.75 119.37 313.80 122.50C314.85 125.63 316.45 130.45 317.60 133.80C318.75 137.15 319.45 139.67 320.70 142.60C321.95 145.53 323.52 149.10 325.10 151.40C326.68 153.70 328.10 155.20 330.20 156.40C332.30 157.60 336.45 158.23 337.70 158.60L341.00 158.00C339.83 157.43 336.00 156.00 334.00 154.60C332.00 153.20 330.53 151.80 329.00 149.60C327.47 147.40 326.03 144.20 324.80 141.40C323.57 138.60 322.82 136.12 321.60 132.80C320.38 129.48 318.93 124.63 317.50 121.50C316.07 118.37 313.75 115.25 313.00 114.00Z" fill="#0000d1"/>
<path d="M311.30 115.00C311.72 116.25 312.75 119.37 313.80 122.50C314.85 125.63 316.45 130.45 317.60 133.80C318.75 137.15 319.45 139.67 320.70 142.60C321.95 145.53 323.52 149.10 325.10 151.40C326.68 153.70 328.10 155.20 330.20 156.40C332.30 157.60 336.45 158.23 337.70 158.60L340.59 158.07C339.41 157.53 335.54 156.20 333.52 154.83C331.51 153.45 330.05 152.04 328.51 149.83C326.97 147.61 325.52 144.37 324.29 141.55C323.05 138.73 322.31 136.25 321.10 132.93C319.89 129.60 318.42 124.76 317.04 121.62C315.65 118.49 313.50 115.38 312.79 114.12Z" fill="#0000da"/>
<path d="M311.30 115.00C311.72 116.25 312.75 119.37 313.80 122.50C314.85 125.63 316.45 130.45 317.60 133.80C318.75 137.15 319.45 139.67 320.70 142.60C321.95 145.53 323.52 149.10 325.10 151.40C326.68 153.70 328.10 155.20 330.20 156.40C332.30 157.60 336.45 158.23 337.70 158.60L340.18 158.15C338.99 157.63 335.08 156.40 333.05 155.05C331.02 153.70 329.57 152.27 328.02 150.05C326.48 147.82 325.01 144.53 323.78 141.70C322.54 138.87 321.80 136.38 320.60 133.05C319.40 129.73 317.91 124.88 316.57 121.75C315.24 118.62 313.24 115.50 312.57 114.25Z" fill="#0000e4"/>
<path d="M311.30 115.00C311.72 116.25 312.75 119.37 313.80 122.50C314.85 125.63 316.45 130.45 317.60 133.80C318.75 137.15 319.45 139.67 320.70 142.60C321.95 145.53 323.52 149.10 325.10 151.40C326.68 153.70 328.10 155.20 330.20 156.40C332.30 157.60 336.45 158.23 337.70 158.60L339.76 158.22C338.56 157.73 334.61 156.60 332.57 155.28C330.54 153.95 329.09 152.51 327.54 150.28C325.99 148.04 324.50 144.70 323.26 141.85C322.02 139.00 321.29 136.50 320.10 133.18C318.91 129.85 317.40 125.01 316.11 121.88C314.82 118.74 312.99 115.62 312.36 114.38Z" fill="#0000ed"/>
<path d="M311.30 115.00C311.72 116.25 312.75 119.37 313.80 122.50C314.85 125.63 316.45 130.45 317.60 133.80C318.75 137.15 319.45 139.67 320.70 142.60C321.95 145.53 323.52 149.10 325.10 151.40C326.68 153.70 328.10 155.20 330.20 156.40C332.30 157.60 336.45 158.23 337.70 158.60L339.35 158.30C338.14 157.83 334.15 156.80 332.10 155.50C330.05 154.20 328.61 152.75 327.05 150.50C325.49 148.25 323.99 144.87 322.75 142.00C321.51 139.13 320.78 136.63 319.60 133.30C318.42 129.97 316.89 125.13 315.65 122.00C314.41 118.87 312.73 115.75 312.15 114.50Z" fill="#0000f7"/>
<path d="M311.30 115.00C311.72 116.25 312.75 119.37 313.80 122.50C314.85 125.63 316.45 130.45 317.60 133.80C318.75 137.15 319.45 139.67 320.70 142.60C321.95 145.53 323.52 149.10 325.10 151.40C326.68 153.70 328.10 155.20 330.20 156.40C332.30 157.60 336.45 158.23 337.70 158.60L338.94 158.38C337.72 157.93 333.69 157.00 331.62 155.72C329.56 154.45 328.13 152.99 326.56 150.72C325.00 148.46 323.48 145.03 322.24 142.15C320.99 139.27 320.28 136.76 319.10 133.43C317.93 130.09 316.38 125.26 315.19 122.12C313.99 118.99 312.48 115.88 311.94 114.62Z" fill="#0002ff"/>
<path d="M311.30 115.00C311.72 116.25 312.75 119.37 313.80 122.50C314.85 125.63 316.45 130.45 317.60 133.80C318.75 137.15 319.45 139.67 320.70 142.60C321.95 145.53 323.52 149.10 325.10 151.40C326.68 153.70 328.10 155.20 330.20 156.40C332.30 157.60 336.45 158.23 337.70 158.60L338.52 158.45C337.30 158.03 333.22 157.20 331.15 155.95C329.07 154.70 327.65 153.23 326.08 150.95C324.50 148.68 322.97 145.20 321.72 142.30C320.48 139.40 319.77 136.89 318.60 133.55C317.43 130.21 315.87 125.38 314.73 122.25C313.58 119.12 312.23 116.00 311.73 114.75Z" fill="#000bff"/>
<path d="M311.30 115.00C311.72 116.25 312.75 119.37 313.80 122.50C314.85 125.63 316.45 130.45 317.60 133.80C318.75 137.15 319.45 139.67 320.70 142.60C321.95 145.53 323.52 149.10 325.10 151.40C326.68 153.70 328.10 155.20 330.20 156.40C332.30 157.60 336.45 158.23 337.70 158.60L338.11 158.53C336.87 158.13 332.76 157.40 330.68 156.17C328.59 154.95 327.16 153.46 325.59 151.17C324.01 148.89 322.46 145.37 321.21 142.45C319.96 139.53 319.26 137.02 318.10 133.68C316.94 130.33 315.36 125.51 314.26 122.38C313.16 119.24 311.97 116.12 311.51 114.88Z" fill="#0015ff"/>
</g>
<g fill="none" stroke-linejoin="round" stroke-linecap="round" clip-path="url(#cb)" >
<path d="M319.50 139.00C319.70 139.60 319.77 140.53 320.70 142.60C321.63 144.67 323.52 149.10 325.10 151.40C326.68 153.70 328.55 155.25 330.20 156.40C331.85 157.55 334.20 157.98 335.00 158.30" stroke="#0000e6" stroke-width="13.00"/>
<path d="M319.50 139.00C319.70 139.60 319.77 140.53 320.70 142.60C321.63 144.67 323.52 149.10 325.10 151.40C326.68 153.70 328.55 155.25 330.20 156.40C331.85 157.55 334.20 157.98 335.00 158.30" stroke="#0009ff" stroke-width="11.60"/>
<path d="M319.50 139.00C319.70 139.60 319.77 140.53 320.70 142.60C321.63 144.67 323.52 149.10 325.10 151.40C326.68 153.70 328.55 155.25 330.20 156.40C331.85 157.55 334.20 157.98 335.00 158.30" stroke="#002bff" stroke-width="10.20"/>
<path d="M319.50 139.00C319.70 139.60 319.77 140.53 320.70 142.60C321.63 144.67 323.52 149.10 325.10 151.40C326.68 153.70 328.55 155.25 330.20 156.40C331.85 157.55 334.20 157.98 335.00 158.30" stroke="#004dff" stroke-width="8.80"/>
<path d="M319.50 139.00C319.70 139.60 319.77 140.53 320.70 142.60C321.63 144.67 323.52 149.10 325.10 151.40C326.68 153.70 328.55 155.25 330.20 156.40C331.85 157.55 334.20 157.98 335.00 158.30" stroke="#006fff" stroke-width="7.40"/>
<path d="M319.50 139.00C319.70 139.60 319.77 140.53 320.70 142.60C321.63 144.67 323.52 149.10 325.10 151.40C326.68 153.70 328.55 155.25 330.20 156.40C331.85 157.55 334.20 157.98 335.00 158.30" stroke="#0091ff" stroke-width="5.99"/>
<path d="M319.50 139.00C319.70 139.60 319.77 140.53 320.70 142.60C321.63 144.67 323.52 149.10 325.10 151.40C326.68 153.70 328.55 155.25 330.20 156.40C331.85 157.55 334.20 157.98 335.00 158.30" stroke="#00b3ff" stroke-width="4.59"/>
<path d="M319.50 139.00C319.70 139.60 319.77 140.53 320.70 142.60C321.63 144.67 323.52 149.10 325.10 151.40C326.68 153.70 328.55 155.25 330.20 156.40C331.85 157.55 334.20 157.98 335.00 158.30" stroke="#00d5ff" stroke-width="3.19"/>
<path d="M319.50 139.00C319.70 139.60 319.77 140.53 320.70 142.60C321.63 144.67 323.52 149.10 325.10 151.40C326.68 153.70 328.55 155.25 330.20 156.40C331.85 157.55 334.20 157.98 335.00 158.30" stroke="#00f7ff" stroke-width="1.79"/>
<path d="M319.50 139.00C319.70 139.60 319.77 140.53 320.70 142.60C321.63 144.67 323.52 149.10 325.10 151.40C326.68 153.70 328.55 155.25 330.20 156.40C331.85 157.55 334.20 157.98 335.00 158.30" stroke="#1affe5" stroke-width="0.39"/>
</g>
<g fill="none" stroke-linejoin="round" stroke-linecap="round" clip-path="url(#cb)" >
<path d="M257.50 132.50C257.17 133.12 256.33 135.02 255.50 136.20C254.67 137.38 253.00 139.03 252.50 139.60" stroke="#000094" stroke-width="8.00"/>
<path d="M257.50 132.50C257.17 133.12 256.33 135.02 255.50 136.20C254.67 137.38 253.00 139.03 252.50 139.60" stroke="#0000bd" stroke-width="5.31"/>
<path d="M257.50 132.50C257.17 133.12 256.33 135.02 255.50 136.20C254.67 137.38 253.00 139.03 252.50 139.60" stroke="#0000e5" stroke-width="3.94"/>
<path d="M257.50 132.50C257.17 133.12 256.33 135.02 255.50 136.20C254.67 137.38 253.00 139.03 252.50 139.60" stroke="#000fff" stroke-width="2.97"/>
<path d="M257.50 132.50C257.17 133.12 256.33 135.02 255.50 136.20C254.67 137.38 253.00 139.03 252.50 139.60" stroke="#0038ff" stroke-width="2.19"/>
<path d="M257.50 132.50C257.17 133.12 256.33 135.02 255.50 136.20C254.67 137.38 253.00 139.03 252.50 139.60" stroke="#0061ff" stroke-width="1.51"/>
<path d="M257.50 132.50C257.17 133.12 256.33 135.02 255.50 136.20C254.67 137.38 253.00 139.03 252.50 139.60" stroke="#008aff" stroke-width="0.88"/>
<path d="M257.50 132.50C257.17 133.12 256.33 135.02 255.50 136.20C254.67 137.38 253.00 139.03 252.50 139.60" stroke="#00b2ff" stroke-width="0.22"/>
</g>
<g fill="none">
<path d="M301.50 129.00C300.45 128.95 297.92 128.85 295.20 128.70C292.48 128.55 288.53 128.03 285.20 128.10C281.87 128.17 278.55 128.47 275.20 129.10C271.85 129.73 268.25 130.72 265.10 131.90C261.95 133.08 257.77 135.48 256.30 136.20" transform="translate(0,-0.40)" stroke="#00b2ff" stroke-width="1.30"/>
<path d="M301.50 129.00C300.45 128.95 297.92 128.85 295.20 128.70C292.48 128.55 288.53 128.03 285.20 128.10C281.87 128.17 278.55 128.47 275.20 129.10C271.85 129.73 268.25 130.72 265.10 131.90C261.95 133.08 257.77 135.48 256.30 136.20" transform="translate(0,-1.00)" stroke="#1affe5" stroke-width="1.30"/>
<path d="M301.50 129.00C300.45 128.95 297.92 128.85 295.20 128.70C292.48 128.55 288.53 128.03 285.20 128.10C281.87 128.17 278.55 128.47 275.20 129.10C271.85 129.73 268.25 130.72 265.10 131.90C261.95 133.08 257.77 135.48 256.30 136.20" transform="translate(0,-1.60)" stroke="#80ff80" stroke-width="1.30"/>
<path d="M301.50 129.00C300.45 128.95 297.92 128.85 295.20 128.70C292.48 128.55 288.53 128.03 285.20 128.10C281.87 128.17 278.55 128.47 275.20 129.10C271.85 129.73 268.25 130.72 265.10 131.90C261.95 133.08 257.77 135.48 256.30 136.20" transform="translate(0,-2.20)" stroke="#e5ff1a" stroke-width="1.30"/>
<path d="M301.50 129.00C300.45 128.95 297.92 128.85 295.20 128.70C292.48 128.55 288.53 128.03 285.20 128.10C281.87 128.17 278.55 128.47 275.20 129.10C271.85 129.73 268.25 130.72 265.10 131.90C261.95 133.08 257.77 135.48 256.30 136.20" transform="translate(0,-2.80)" stroke="#ffb300" stroke-width="1.30"/>
<path d="M301.50 129.00C300.45 128.95 297.92 128.85 295.20 128.70C292.48 128.55 288.53 128.03 285.20 128.10C281.87 128.17 278.55 128.47 275.20 129.10C271.85 129.73 268.25 130.72 265.10 131.90C261.95 133.08 257.77 135.48 256.30 136.20" transform="translate(0,-3.40)" stroke="#ff4c00" stroke-width="1.30"/>
<path d="M301.50 129.00C300.45 128.95 297.92 128.85 295.20 128.70C292.48 128.55 288.53 128.03 285.20 128.10C281.87 128.17 278.55 128.47 275.20 129.10C271.85 129.73 268.25 130.72 265.10 131.90C261.95 133.08 257.77 135.48 256.30 136.20" transform="translate(0,-4.00)" stroke="#e50000" stroke-width="1.30"/>
</g>
<g fill="none">
<path d="M333.00 157.80C332.53 157.60 331.37 157.18 330.20 156.60C329.03 156.02 327.68 155.33 326.00 154.30C324.32 153.27 322.13 152.07 320.10 150.40C318.07 148.73 314.85 145.32 313.80 144.30" transform="translate(0,-0.20)" stroke="#00e5ff" stroke-width="1.20"/>
<path d="M333.00 157.80C332.53 157.60 331.37 157.18 330.20 156.60C329.03 156.02 327.68 155.33 326.00 154.30C324.32 153.27 322.13 152.07 320.10 150.40C318.07 148.73 314.85 145.32 313.80 144.30" transform="translate(0,-0.70)" stroke="#80ff80" stroke-width="1.20"/>
<path d="M333.00 157.80C332.53 157.60 331.37 157.18 330.20 156.60C329.03 156.02 327.68 155.33 326.00 154.30C324.32 153.27 322.13 152.07 320.10 150.40C318.07 148.73 314.85 145.32 313.80 144.30" transform="translate(0,-1.20)" stroke="#ffe500" stroke-width="1.20"/>
<path d="M333.00 157.80C332.53 157.60 331.37 157.18 330.20 156.60C329.03 156.02 327.68 155.33 326.00 154.30C324.32 153.27 322.13 152.07 320.10 150.40C318.07 148.73 314.85 145.32 313.80 144.30" transform="translate(0,-1.70)" stroke="#ff4c00" stroke-width="1.20"/>
<path d="M333.00 157.80C332.53 157.60 331.37 157.18 330.20 156.60C329.03 156.02 327.68 155.33 326.00 154.30C324.32 153.27 322.13 152.07 320.10 150.40C318.07 148.73 314.85 145.32 313.80 144.30" transform="translate(0,-2.10)" stroke="#e50000" stroke-width="1.20"/>
</g>
<path d="M258.00 131.80C258.08 131.50 258.22 131.25 258.50 130.00C258.78 128.75 259.25 126.47 259.70 124.30C260.15 122.13 260.68 119.30 261.20 117.00C261.72 114.70 262.25 112.68 262.80 110.50C263.35 108.32 263.90 106.03 264.50 103.90C265.10 101.77 265.78 99.53 266.40 97.70C267.02 95.87 267.62 94.17 268.20 92.90C268.78 91.63 269.62 90.57 269.90 90.10L269.90 90.10C270.25 89.27 271.23 86.98 272.00 85.10C272.77 83.22 273.55 80.88 274.50 78.80C275.45 76.72 276.85 73.93 277.70 72.60C278.55 71.27 278.93 71.20 279.60 70.80C280.27 70.40 281.35 70.30 281.70 70.20L281.70 70.20C282.07 70.30 283.22 70.40 283.90 70.80C284.58 71.20 284.95 71.27 285.80 72.60C286.65 73.93 288.05 76.72 289.00 78.80C289.95 80.88 290.72 83.00 291.50 85.10C292.28 87.20 292.97 89.30 293.70 91.40C294.43 93.50 295.50 96.50 295.90 97.70C296.30 98.90 296.07 98.45 296.10 98.60L296.10 98.60C296.35 98.40 296.90 97.72 297.60 97.40C298.30 97.08 299.48 96.67 300.30 96.70C301.12 96.73 301.88 97.13 302.50 97.60C303.12 98.07 303.33 98.45 304.00 99.50C304.67 100.55 305.70 102.32 306.50 103.90C307.30 105.48 308.00 107.15 308.80 109.00C309.60 110.85 310.47 112.75 311.30 115.00C312.13 117.25 312.75 119.37 313.80 122.50C314.85 125.63 316.45 130.45 317.60 133.80C318.75 137.15 319.45 139.67 320.70 142.60C321.95 145.53 323.52 149.10 325.10 151.40C326.68 153.70 329.35 155.57 330.20 156.40L330.20 156.40C329.35 155.78 326.78 153.95 325.10 152.70C323.42 151.45 321.98 150.27 320.10 148.90C318.22 147.53 315.88 146.38 313.80 144.50C311.72 142.62 309.58 140.00 307.60 137.60C305.62 135.20 302.92 131.48 301.90 130.10C300.88 128.72 301.57 129.43 301.50 129.30L301.50 129.30C300.88 128.68 299.27 126.53 297.80 125.60C296.33 124.67 294.28 123.82 292.70 123.70C291.12 123.58 289.45 124.33 288.30 124.90C287.15 125.47 286.48 126.82 285.80 127.10C285.12 127.38 284.62 127.07 284.20 126.60C283.78 126.13 283.77 124.78 283.30 124.30C282.83 123.82 282.97 123.60 281.40 123.70C279.83 123.80 276.62 124.27 273.90 124.90C271.18 125.53 267.33 126.70 265.10 127.50C262.87 128.30 261.68 128.98 260.50 129.70C259.32 130.42 258.42 131.45 258.00 131.80Z" fill="#800000"/>
<g stroke="#3a3a3a" stroke-width="0.7" fill="none">
<path d="M467.70 136.20L524.50 173.90L598.50 146.20"/>
<path d="M467.70 136.20L467.70 56.30"/>
<path d="M467.70 72.00h-2"/>
<path d="M467.70 136.20h-2"/>
<path d="M467.70 136.20l-1.8 1.4"/>
<path d="M524.50 173.90l0.6 1.3"/>
<path d="M598.50 146.20l1.6 0.3"/>
</g>
<text transform="translate(461.50,76.20) scale(1.08,1)" font-size="18.3" text-anchor="end" stroke="#000" stroke-width="0.2">5</text>
<text transform="translate(461.50,140.30) scale(1.08,1)" font-size="18.3" text-anchor="end" stroke="#000" stroke-width="0.2">0</text>
<text transform="translate(460.30,157.60) scale(1.08,1)" font-size="18.3" text-anchor="end" stroke="#000" stroke-width="0.2">1</text>
<text transform="translate(470.10,184.80) scale(1.18,1)" font-size="19" font-style="italic" stroke="#000" stroke-width="0.15">y</text>
<text transform="translate(478.80,188.30) scale(1.08,1)" font-size="15" stroke="#000" stroke-width="0.2">2</text>
<text transform="translate(530.20,196.00) scale(1.08,1)" font-size="18.3" text-anchor="start" stroke="#000" stroke-width="0.2">0</text>
<text transform="translate(567.50,186.10) scale(1.18,1)" font-size="19" font-style="italic" stroke="#000" stroke-width="0.15">y</text>
<text transform="translate(575.60,189.60) scale(1.08,1)" font-size="15" stroke="#000" stroke-width="0.2">1</text>
<text transform="translate(604.40,167.60) scale(1.08,1)" font-size="18.3" text-anchor="start" stroke="#000" stroke-width="0.2">1</text>
<clipPath id="cc"><path d="M467.70 136.20C468.67 135.83 471.53 134.90 473.50 134.00C475.47 133.10 477.47 131.97 479.50 130.80C481.53 129.63 484.20 128.63 485.70 127.00C487.20 125.37 488.03 122.00 488.50 121.00L488.50 121.00L541.50 108.60L541.50 108.60L598.50 146.20L598.50 146.20L556.50 161.90L556.50 161.90C556.00 161.78 554.50 161.58 553.50 161.20C552.50 160.82 551.62 160.25 550.50 159.60C549.38 158.95 548.18 158.15 546.80 157.30C545.42 156.45 544.05 155.35 542.20 154.50C540.35 153.65 538.12 152.70 535.70 152.20C533.28 151.70 530.38 151.28 527.70 151.50C525.02 151.72 522.05 152.55 519.60 153.50C517.15 154.45 514.38 156.52 513.00 157.20C511.62 157.88 511.58 157.53 511.30 157.60L511.30 157.60L508.30 159.20L508.30 159.20C507.75 159.10 506.15 158.97 505.00 158.60C503.85 158.23 502.90 157.77 501.40 157.00C499.90 156.23 497.67 155.17 496.00 154.00C494.33 152.83 492.73 151.30 491.40 150.00C490.07 148.70 489.07 147.33 488.00 146.20C486.93 145.07 486.53 144.12 485.00 143.20C483.47 142.28 480.80 141.55 478.80 140.70C476.80 139.85 474.85 138.85 473.00 138.10C471.15 137.35 468.58 136.52 467.70 136.20Z"/></clipPath>
<path d="M467.70 136.20C468.67 135.83 471.53 134.90 473.50 134.00C475.47 133.10 477.47 131.97 479.50 130.80C481.53 129.63 484.20 128.63 485.70 127.00C487.20 125.37 488.03 122.00 488.50 121.00L488.50 121.00L541.50 108.60L541.50 108.60L598.50 146.20L598.50 146.20L556.50 161.90L556.50 161.90C556.00 161.78 554.50 161.58 553.50 161.20C552.50 160.82 551.62 160.25 550.50 159.60C549.38 158.95 548.18 158.15 546.80 157.30C545.42 156.45 544.05 155.35 542.20 154.50C540.35 153.65 538.12 152.70 535.70 152.20C533.28 151.70 530.38 151.28 527.70 151.50C525.02 151.72 522.05 152.55 519.60 153.50C517.15 154.45 514.38 156.52 513.00 157.20C511.62 157.88 511.58 157.53 511.30 157.60L511.30 157.60L508.30 159.20L508.30 159.20C507.75 159.10 506.15 158.97 505.00 158.60C503.85 158.23 502.90 157.77 501.40 157.00C499.90 156.23 497.67 155.17 496.00 154.00C494.33 152.83 492.73 151.30 491.40 150.00C490.07 148.70 489.07 147.33 488.00 146.20C486.93 145.07 486.53 144.12 485.00 143.20C483.47 142.28 480.80 141.55 478.80 140.70C476.80 139.85 474.85 138.85 473.00 138.10C471.15 137.35 468.58 136.52 467.70 136.20Z" fill="#00008f"/>
<g clip-path="url(#cc)">
<path d="M485.70 127.00C485.58 127.50 484.87 129.12 485.00 130.00C485.13 130.88 485.83 131.67 486.50 132.30C487.17 132.93 487.92 133.35 489.00 133.80C490.08 134.25 491.55 134.68 493.00 135.00C494.45 135.32 495.53 135.42 497.70 135.70C499.87 135.98 502.98 136.38 506.00 136.70C509.02 137.02 514.17 137.45 515.80 137.60L511.30 160.50C509.58 160.33 503.97 160.58 501.00 159.50C498.03 158.42 495.58 155.67 493.50 154.00C491.42 152.33 490.00 151.03 488.50 149.50C487.00 147.97 485.65 146.05 484.50 144.80C483.35 143.55 482.55 143.08 481.60 142.00C480.65 140.92 479.65 140.08 478.80 138.30C477.95 136.52 476.88 132.47 476.50 131.30Z" fill="#0000af"/>
<path d="M485.70 127.00C485.58 127.50 484.87 129.12 485.00 130.00C485.13 130.88 485.83 131.67 486.50 132.30C487.17 132.93 487.92 133.35 489.00 133.80C490.08 134.25 491.55 134.68 493.00 135.00C494.45 135.32 495.53 135.42 497.70 135.70C499.87 135.98 502.98 136.38 506.00 136.70C509.02 137.02 514.17 137.45 515.80 137.60L511.55 159.23C509.84 159.06 504.25 159.27 501.28 158.23C498.31 157.19 495.82 154.57 493.73 152.98C491.65 151.39 490.25 150.16 488.75 148.69C487.25 147.23 485.90 145.39 484.75 144.19C483.60 142.98 482.81 142.52 481.87 141.46C480.94 140.40 479.95 139.57 479.14 137.84C478.33 136.11 477.37 132.19 477.01 131.06Z" fill="#0000e5"/>
<path d="M485.70 127.00C485.58 127.50 484.87 129.12 485.00 130.00C485.13 130.88 485.83 131.67 486.50 132.30C487.17 132.93 487.92 133.35 489.00 133.80C490.08 134.25 491.55 134.68 493.00 135.00C494.45 135.32 495.53 135.42 497.70 135.70C499.87 135.98 502.98 136.38 506.00 136.70C509.02 137.02 514.17 137.45 515.80 137.60L511.80 157.96C510.09 157.79 504.53 157.96 501.56 156.97C498.58 155.97 496.06 153.48 493.97 151.97C491.87 150.45 490.49 149.29 489.00 147.89C487.51 146.49 486.14 144.74 485.00 143.58C483.86 142.42 483.06 141.96 482.14 140.92C481.23 139.89 480.26 139.06 479.49 137.38C478.72 135.69 477.85 131.91 477.52 130.82Z" fill="#001bff"/>
<path d="M485.70 127.00C485.58 127.50 484.87 129.12 485.00 130.00C485.13 130.88 485.83 131.67 486.50 132.30C487.17 132.93 487.92 133.35 489.00 133.80C490.08 134.25 491.55 134.68 493.00 135.00C494.45 135.32 495.53 135.42 497.70 135.70C499.87 135.98 502.98 136.38 506.00 136.70C509.02 137.02 514.17 137.45 515.80 137.60L512.05 156.68C510.35 156.52 504.81 156.66 501.83 155.70C498.86 154.74 496.30 152.39 494.20 150.95C492.10 149.51 490.74 148.41 489.25 147.08C487.76 145.75 486.39 144.08 485.25 142.97C484.11 141.85 483.32 141.39 482.42 140.38C481.51 139.38 480.56 138.55 479.83 136.92C479.10 135.28 478.33 131.64 478.03 130.58Z" fill="#0051ff"/>
<path d="M485.70 127.00C485.58 127.50 484.87 129.12 485.00 130.00C485.13 130.88 485.83 131.67 486.50 132.30C487.17 132.93 487.92 133.35 489.00 133.80C490.08 134.25 491.55 134.68 493.00 135.00C494.45 135.32 495.53 135.42 497.70 135.70C499.87 135.98 502.98 136.38 506.00 136.70C509.02 137.02 514.17 137.45 515.80 137.60L512.30 155.41C510.60 155.25 505.09 155.35 502.11 154.43C499.13 153.52 496.54 151.29 494.43 149.93C492.33 148.57 490.99 147.54 489.50 146.28C488.01 145.01 486.64 143.43 485.50 142.36C484.36 141.28 483.58 140.83 482.69 139.84C481.80 138.86 480.87 138.04 480.18 136.46C479.49 134.87 478.82 131.36 478.54 130.34Z" fill="#0087ff"/>
<path d="M485.70 127.00C485.58 127.50 484.87 129.12 485.00 130.00C485.13 130.88 485.83 131.67 486.50 132.30C487.17 132.93 487.92 133.35 489.00 133.80C490.08 134.25 491.55 134.68 493.00 135.00C494.45 135.32 495.53 135.42 497.70 135.70C499.87 135.98 502.98 136.38 506.00 136.70C509.02 137.02 514.17 137.45 515.80 137.60L512.55 154.14C510.86 153.98 505.37 154.04 502.39 153.17C499.41 152.30 496.77 150.20 494.67 148.92C492.56 147.63 491.24 146.67 489.75 145.47C488.26 144.28 486.88 142.77 485.75 141.74C484.62 140.72 483.83 140.26 482.96 139.31C482.09 138.35 481.17 137.53 480.52 135.99C479.87 134.46 479.30 131.09 479.06 130.11Z" fill="#00bdff"/>
<path d="M485.70 127.00C485.58 127.50 484.87 129.12 485.00 130.00C485.13 130.88 485.83 131.67 486.50 132.30C487.17 132.93 487.92 133.35 489.00 133.80C490.08 134.25 491.55 134.68 493.00 135.00C494.45 135.32 495.53 135.42 497.70 135.70C499.87 135.98 502.98 136.38 506.00 136.70C509.02 137.02 514.17 137.45 515.80 137.60L512.80 152.87C511.11 152.71 505.65 152.73 502.67 151.90C499.68 151.07 497.01 149.11 494.90 147.90C492.79 146.69 491.48 145.79 490.00 144.67C488.52 143.54 487.13 142.12 486.00 141.13C484.87 140.15 484.09 139.70 483.23 138.77C482.38 137.83 481.48 137.02 480.87 135.53C480.26 134.05 479.78 130.81 479.57 129.87Z" fill="#00f3ff"/>
<path d="M485.70 127.00C485.58 127.50 484.87 129.12 485.00 130.00C485.13 130.88 485.83 131.67 486.50 132.30C487.17 132.93 487.92 133.35 489.00 133.80C490.08 134.25 491.55 134.68 493.00 135.00C494.45 135.32 495.53 135.42 497.70 135.70C499.87 135.98 502.98 136.38 506.00 136.70C509.02 137.02 514.17 137.45 515.80 137.60L513.05 151.59C511.37 151.43 505.93 151.42 502.94 150.63C499.96 149.85 497.25 148.01 495.13 146.88C493.02 145.75 491.73 144.92 490.25 143.86C488.77 142.80 487.37 141.46 486.25 140.52C485.13 139.58 484.35 139.14 483.51 138.23C482.67 137.32 481.78 136.51 481.21 135.07C480.64 133.64 480.27 130.54 480.08 129.63Z" fill="#2affd5"/>
<path d="M485.70 127.00C485.58 127.50 484.87 129.12 485.00 130.00C485.13 130.88 485.83 131.67 486.50 132.30C487.17 132.93 487.92 133.35 489.00 133.80C490.08 134.25 491.55 134.68 493.00 135.00C494.45 135.32 495.53 135.42 497.70 135.70C499.87 135.98 502.98 136.38 506.00 136.70C509.02 137.02 514.17 137.45 515.80 137.60L513.30 150.32C511.62 150.16 506.21 150.11 503.22 149.37C500.23 148.62 497.49 146.92 495.37 145.87C493.25 144.81 491.98 144.05 490.50 143.06C489.02 142.06 487.62 140.81 486.50 139.91C485.38 139.02 484.60 138.57 483.78 137.69C482.95 136.81 482.09 135.99 481.56 134.61C481.02 133.23 480.75 130.26 480.59 129.39Z" fill="#5fffa0"/>
<path d="M485.70 127.00C485.58 127.50 484.87 129.12 485.00 130.00C485.13 130.88 485.83 131.67 486.50 132.30C487.17 132.93 487.92 133.35 489.00 133.80C490.08 134.25 491.55 134.68 493.00 135.00C494.45 135.32 495.53 135.42 497.70 135.70C499.87 135.98 502.98 136.38 506.00 136.70C509.02 137.02 514.17 137.45 515.80 137.60L513.55 149.05C511.87 148.89 506.49 148.80 503.50 148.10C500.51 147.40 497.73 145.82 495.60 144.85C493.48 143.88 492.23 143.18 490.75 142.25C489.27 141.32 487.87 140.15 486.75 139.30C485.63 138.45 484.86 138.01 484.05 137.15C483.24 136.29 482.39 135.48 481.90 134.15C481.41 132.82 481.23 129.98 481.10 129.15Z" fill="#95ff6a"/>
<path d="M485.70 127.00C485.58 127.50 484.87 129.12 485.00 130.00C485.13 130.88 485.83 131.67 486.50 132.30C487.17 132.93 487.92 133.35 489.00 133.80C490.08 134.25 491.55 134.68 493.00 135.00C494.45 135.32 495.53 135.42 497.70 135.70C499.87 135.98 502.98 136.38 506.00 136.70C509.02 137.02 514.17 137.45 515.80 137.60L513.80 147.78C512.13 147.62 506.77 147.49 503.78 146.83C500.78 146.18 497.96 144.73 495.83 143.83C493.70 142.94 492.47 142.30 491.00 141.44C489.53 140.59 488.11 139.49 487.00 138.69C485.89 137.88 485.11 137.44 484.32 136.61C483.53 135.78 482.70 134.97 482.24 133.69C481.79 132.41 481.72 129.71 481.61 128.91Z" fill="#cbff34"/>
<path d="M485.70 127.00C485.58 127.50 484.87 129.12 485.00 130.00C485.13 130.88 485.83 131.67 486.50 132.30C487.17 132.93 487.92 133.35 489.00 133.80C490.08 134.25 491.55 134.68 493.00 135.00C494.45 135.32 495.53 135.42 497.70 135.70C499.87 135.98 502.98 136.38 506.00 136.70C509.02 137.02 514.17 137.45 515.80 137.60L514.05 146.51C512.38 146.35 507.05 146.18 504.06 145.57C501.06 144.95 498.20 143.64 496.07 142.82C493.93 142.00 492.72 141.43 491.25 140.64C489.78 139.85 488.36 138.84 487.25 138.08C486.14 137.32 485.37 136.88 484.59 136.07C483.82 135.26 483.00 134.46 482.59 133.23C482.18 131.99 482.20 129.43 482.12 128.67Z" fill="#fffd00"/>
<path d="M485.70 127.00C485.58 127.50 484.87 129.12 485.00 130.00C485.13 130.88 485.83 131.67 486.50 132.30C487.17 132.93 487.92 133.35 489.00 133.80C490.08 134.25 491.55 134.68 493.00 135.00C494.45 135.32 495.53 135.42 497.70 135.70C499.87 135.98 502.98 136.38 506.00 136.70C509.02 137.02 514.17 137.45 515.80 137.60L514.30 145.23C512.64 145.08 507.33 144.87 504.33 144.30C501.33 143.73 498.44 142.54 496.30 141.80C494.16 141.06 492.97 140.56 491.50 139.83C490.03 139.11 488.61 138.18 487.50 137.47C486.39 136.75 485.63 136.32 484.87 135.53C484.11 134.75 483.31 133.95 482.93 132.77C482.56 131.58 482.68 129.16 482.63 128.43Z" fill="#ffc700"/>
<path d="M485.70 127.00C485.58 127.50 484.87 129.12 485.00 130.00C485.13 130.88 485.83 131.67 486.50 132.30C487.17 132.93 487.92 133.35 489.00 133.80C490.08 134.25 491.55 134.68 493.00 135.00C494.45 135.32 495.53 135.42 497.70 135.70C499.87 135.98 502.98 136.38 506.00 136.70C509.02 137.02 514.17 137.45 515.80 137.60L514.55 143.96C512.89 143.81 507.61 143.56 504.61 143.03C501.61 142.50 498.68 141.45 496.53 140.78C494.39 140.12 493.21 139.68 491.75 139.03C490.29 138.37 488.85 137.53 487.75 136.86C486.65 136.18 485.88 135.75 485.14 134.99C484.39 134.24 483.61 133.44 483.28 132.31C482.95 131.17 483.17 128.88 483.14 128.19Z" fill="#ff9100"/>
<path d="M485.70 127.00C485.58 127.50 484.87 129.12 485.00 130.00C485.13 130.88 485.83 131.67 486.50 132.30C487.17 132.93 487.92 133.35 489.00 133.80C490.08 134.25 491.55 134.68 493.00 135.00C494.45 135.32 495.53 135.42 497.70 135.70C499.87 135.98 502.98 136.38 506.00 136.70C509.02 137.02 514.17 137.45 515.80 137.60L514.80 142.69C513.15 142.54 507.89 142.25 504.89 141.77C501.88 141.28 498.91 140.36 496.77 139.77C494.62 139.18 493.46 138.81 492.00 138.22C490.54 137.64 489.10 136.87 488.00 136.24C486.90 135.62 486.14 135.19 485.41 134.46C484.68 133.72 483.91 132.93 483.62 131.84C483.33 130.76 483.65 128.60 483.66 127.96Z" fill="#ff5c00"/>
<path d="M485.70 127.00C485.58 127.50 484.87 129.12 485.00 130.00C485.13 130.88 485.83 131.67 486.50 132.30C487.17 132.93 487.92 133.35 489.00 133.80C490.08 134.25 491.55 134.68 493.00 135.00C494.45 135.32 495.53 135.42 497.70 135.70C499.87 135.98 502.98 136.38 506.00 136.70C509.02 137.02 514.17 137.45 515.80 137.60L515.05 141.42C513.40 141.26 508.18 140.94 505.17 140.50C502.16 140.06 499.15 139.26 497.00 138.75C494.85 138.24 493.71 137.94 492.25 137.42C490.79 136.90 489.34 136.22 488.25 135.63C487.16 135.05 486.40 134.63 485.68 133.92C484.97 133.21 484.22 132.42 483.97 131.38C483.71 130.35 484.13 128.33 484.17 127.72Z" fill="#ff2600"/>
<path d="M485.70 127.00C485.58 127.50 484.87 129.12 485.00 130.00C485.13 130.88 485.83 131.67 486.50 132.30C487.17 132.93 487.92 133.35 489.00 133.80C490.08 134.25 491.55 134.68 493.00 135.00C494.45 135.32 495.53 135.42 497.70 135.70C499.87 135.98 502.98 136.38 506.00 136.70C509.02 137.02 514.17 137.45 515.80 137.60L515.30 140.14C513.66 139.99 508.46 139.64 505.44 139.23C502.43 138.83 499.39 138.17 497.23 137.73C495.08 137.30 493.96 137.06 492.50 136.61C491.04 136.16 489.59 135.56 488.50 135.02C487.41 134.48 486.65 134.06 485.96 133.38C485.26 132.69 484.52 131.91 484.31 130.92C484.10 129.94 484.62 128.05 484.68 127.48Z" fill="#ef0000"/>
<path d="M485.70 127.00C485.58 127.50 484.87 129.12 485.00 130.00C485.13 130.88 485.83 131.67 486.50 132.30C487.17 132.93 487.92 133.35 489.00 133.80C490.08 134.25 491.55 134.68 493.00 135.00C494.45 135.32 495.53 135.42 497.70 135.70C499.87 135.98 502.98 136.38 506.00 136.70C509.02 137.02 514.17 137.45 515.80 137.60L515.55 138.87C513.91 138.72 508.74 138.33 505.72 137.97C502.71 137.61 499.63 137.08 497.47 136.72C495.30 136.36 494.20 136.19 492.75 135.81C491.30 135.42 489.84 134.91 488.75 134.41C487.66 133.92 486.91 133.50 486.23 132.84C485.55 132.18 484.83 131.39 484.66 130.46C484.48 129.53 485.10 127.78 485.19 127.24Z" fill="#b90000"/>
</g>
<g clip-path="url(#cc)">
<path d="M537.00 110.50C537.83 111.92 540.58 115.75 542.00 119.00C543.42 122.25 544.50 126.58 545.50 130.00C546.50 133.42 547.17 136.83 548.00 139.50C548.83 142.17 549.58 143.92 550.50 146.00C551.42 148.08 552.50 150.25 553.50 152.00C554.50 153.75 555.50 155.25 556.50 156.50C557.50 157.75 558.58 158.62 559.50 159.50C560.42 160.38 561.58 161.42 562.00 161.80L572.00 163.00C571.75 162.67 571.08 161.83 570.50 161.00C569.92 160.17 569.25 159.25 568.50 158.00C567.75 156.75 566.92 155.33 566.00 153.50C565.08 151.67 564.00 149.42 563.00 147.00C562.00 144.58 561.17 142.00 560.00 139.00C558.83 136.00 557.83 132.67 556.00 129.00C554.17 125.33 551.83 120.17 549.00 117.00C546.17 113.83 540.67 111.17 539.00 110.00Z" fill="#000083"/>
<path d="M537.00 110.50C537.83 111.92 540.58 115.75 542.00 119.00C543.42 122.25 544.50 126.58 545.50 130.00C546.50 133.42 547.17 136.83 548.00 139.50C548.83 142.17 549.58 143.92 550.50 146.00C551.42 148.08 552.50 150.25 553.50 152.00C554.50 153.75 555.50 155.25 556.50 156.50C557.50 157.75 558.58 158.62 559.50 159.50C560.42 160.38 561.58 161.42 562.00 161.80L571.00 162.88C570.73 162.54 570.02 161.69 569.40 160.85C568.78 160.01 568.08 159.10 567.30 157.85C566.53 156.60 565.67 155.18 564.75 153.35C563.83 151.52 562.74 149.28 561.75 146.90C560.76 144.52 559.93 142.02 558.80 139.05C557.67 136.08 556.70 132.74 554.95 129.10C553.20 125.46 550.99 120.37 548.30 117.20C545.61 114.02 540.38 111.24 538.80 110.05Z" fill="#00008a"/>
<path d="M537.00 110.50C537.83 111.92 540.58 115.75 542.00 119.00C543.42 122.25 544.50 126.58 545.50 130.00C546.50 133.42 547.17 136.83 548.00 139.50C548.83 142.17 549.58 143.92 550.50 146.00C551.42 148.08 552.50 150.25 553.50 152.00C554.50 153.75 555.50 155.25 556.50 156.50C557.50 157.75 558.58 158.62 559.50 159.50C560.42 160.38 561.58 161.42 562.00 161.80L570.00 162.76C569.72 162.42 568.95 161.54 568.30 160.70C567.65 159.86 566.90 158.95 566.10 157.70C565.30 156.45 564.43 155.02 563.50 153.20C562.57 151.38 561.48 149.15 560.50 146.80C559.52 144.45 558.70 142.03 557.60 139.10C556.50 136.17 555.57 132.82 553.90 129.20C552.23 125.58 550.15 120.58 547.60 117.40C545.05 114.22 540.10 111.32 538.60 110.10Z" fill="#000092"/>
<path d="M537.00 110.50C537.83 111.92 540.58 115.75 542.00 119.00C543.42 122.25 544.50 126.58 545.50 130.00C546.50 133.42 547.17 136.83 548.00 139.50C548.83 142.17 549.58 143.92 550.50 146.00C551.42 148.08 552.50 150.25 553.50 152.00C554.50 153.75 555.50 155.25 556.50 156.50C557.50 157.75 558.58 158.62 559.50 159.50C560.42 160.38 561.58 161.42 562.00 161.80L569.00 162.64C568.70 162.29 567.88 161.40 567.20 160.55C566.52 159.70 565.73 158.80 564.90 157.55C564.07 156.30 563.19 154.86 562.25 153.05C561.31 151.24 560.23 149.02 559.25 146.70C558.27 144.38 557.47 142.05 556.40 139.15C555.33 136.25 554.43 132.89 552.85 129.30C551.27 125.71 549.31 120.79 546.90 117.60C544.49 114.41 539.82 111.39 538.40 110.15Z" fill="#00009a"/>
<path d="M537.00 110.50C537.83 111.92 540.58 115.75 542.00 119.00C543.42 122.25 544.50 126.58 545.50 130.00C546.50 133.42 547.17 136.83 548.00 139.50C548.83 142.17 549.58 143.92 550.50 146.00C551.42 148.08 552.50 150.25 553.50 152.00C554.50 153.75 555.50 155.25 556.50 156.50C557.50 157.75 558.58 158.62 559.50 159.50C560.42 160.38 561.58 161.42 562.00 161.80L568.00 162.52C567.68 162.17 566.82 161.25 566.10 160.40C565.38 159.55 564.55 158.65 563.70 157.40C562.85 156.15 561.95 154.70 561.00 152.90C560.05 151.10 558.97 148.88 558.00 146.60C557.03 144.32 556.23 142.07 555.20 139.20C554.17 136.33 553.30 132.97 551.80 129.40C550.30 125.83 548.47 121.00 546.20 117.80C543.93 114.60 539.53 111.47 538.20 110.20Z" fill="#0000a2"/>
<path d="M537.00 110.50C537.83 111.92 540.58 115.75 542.00 119.00C543.42 122.25 544.50 126.58 545.50 130.00C546.50 133.42 547.17 136.83 548.00 139.50C548.83 142.17 549.58 143.92 550.50 146.00C551.42 148.08 552.50 150.25 553.50 152.00C554.50 153.75 555.50 155.25 556.50 156.50C557.50 157.75 558.58 158.62 559.50 159.50C560.42 160.38 561.58 161.42 562.00 161.80L567.00 162.40C566.67 162.04 565.75 161.11 565.00 160.25C564.25 159.39 563.38 158.50 562.50 157.25C561.62 156.00 560.71 154.54 559.75 152.75C558.79 150.96 557.71 148.75 556.75 146.50C555.79 144.25 555.00 142.08 554.00 139.25C553.00 136.42 552.17 133.04 550.75 129.50C549.33 125.96 547.62 121.21 545.50 118.00C543.38 114.79 539.25 111.54 538.00 110.25Z" fill="#0000ab"/>
<path d="M537.00 110.50C537.83 111.92 540.58 115.75 542.00 119.00C543.42 122.25 544.50 126.58 545.50 130.00C546.50 133.42 547.17 136.83 548.00 139.50C548.83 142.17 549.58 143.92 550.50 146.00C551.42 148.08 552.50 150.25 553.50 152.00C554.50 153.75 555.50 155.25 556.50 156.50C557.50 157.75 558.58 158.62 559.50 159.50C560.42 160.38 561.58 161.42 562.00 161.80L566.00 162.28C565.65 161.92 564.68 160.96 563.90 160.10C563.12 159.24 562.20 158.35 561.30 157.10C560.40 155.85 559.47 154.38 558.50 152.60C557.53 150.82 556.45 148.62 555.50 146.40C554.55 144.18 553.77 142.10 552.80 139.30C551.83 136.50 551.03 133.12 549.70 129.60C548.37 126.08 546.78 121.42 544.80 118.20C542.82 114.98 538.97 111.62 537.80 110.30Z" fill="#0000b5"/>
<path d="M537.00 110.50C537.83 111.92 540.58 115.75 542.00 119.00C543.42 122.25 544.50 126.58 545.50 130.00C546.50 133.42 547.17 136.83 548.00 139.50C548.83 142.17 549.58 143.92 550.50 146.00C551.42 148.08 552.50 150.25 553.50 152.00C554.50 153.75 555.50 155.25 556.50 156.50C557.50 157.75 558.58 158.62 559.50 159.50C560.42 160.38 561.58 161.42 562.00 161.80L565.00 162.16C564.63 161.79 563.62 160.82 562.80 159.95C561.98 159.08 561.02 158.20 560.10 156.95C559.17 155.70 558.23 154.22 557.25 152.45C556.27 150.67 555.19 148.48 554.25 146.30C553.31 144.12 552.53 142.12 551.60 139.35C550.67 136.58 549.90 133.19 548.65 129.70C547.40 126.21 545.94 121.62 544.10 118.40C542.26 115.18 538.68 111.69 537.60 110.35Z" fill="#0000bf"/>
<path d="M537.00 110.50C537.83 111.92 540.58 115.75 542.00 119.00C543.42 122.25 544.50 126.58 545.50 130.00C546.50 133.42 547.17 136.83 548.00 139.50C548.83 142.17 549.58 143.92 550.50 146.00C551.42 148.08 552.50 150.25 553.50 152.00C554.50 153.75 555.50 155.25 556.50 156.50C557.50 157.75 558.58 158.62 559.50 159.50C560.42 160.38 561.58 161.42 562.00 161.80L564.00 162.04C563.62 161.67 562.55 160.67 561.70 159.80C560.85 158.93 559.85 158.05 558.90 156.80C557.95 155.55 556.98 154.07 556.00 152.30C555.02 150.53 553.93 148.35 553.00 146.20C552.07 144.05 551.30 142.13 550.40 139.40C549.50 136.67 548.77 133.27 547.60 129.80C546.43 126.33 545.10 121.83 543.40 118.60C541.70 115.37 538.40 111.77 537.40 110.40Z" fill="#0000ca"/>
<path d="M537.00 110.50C537.83 111.92 540.58 115.75 542.00 119.00C543.42 122.25 544.50 126.58 545.50 130.00C546.50 133.42 547.17 136.83 548.00 139.50C548.83 142.17 549.58 143.92 550.50 146.00C551.42 148.08 552.50 150.25 553.50 152.00C554.50 153.75 555.50 155.25 556.50 156.50C557.50 157.75 558.58 158.62 559.50 159.50C560.42 160.38 561.58 161.42 562.00 161.80L563.00 161.92C562.60 161.54 561.48 160.53 560.60 159.65C559.72 158.77 558.68 157.90 557.70 156.65C556.73 155.40 555.74 153.91 554.75 152.15C553.76 150.39 552.67 148.22 551.75 146.10C550.83 143.98 550.07 142.15 549.20 139.45C548.33 136.75 547.63 133.34 546.55 129.90C545.47 126.46 544.26 122.04 542.70 118.80C541.14 115.56 538.12 111.84 537.20 110.45Z" fill="#0000d9"/>
</g>
<g clip-path="url(#cc)">
<path d="M535.10 110.90C535.50 112.45 536.72 116.82 537.50 120.20C538.28 123.58 539.03 127.82 539.80 131.20C540.57 134.58 541.32 137.92 542.10 140.50C542.88 143.08 543.58 144.62 544.50 146.70C545.42 148.78 546.57 151.30 547.60 153.00C548.63 154.70 549.67 155.83 550.70 156.90C551.73 157.97 552.83 158.57 553.80 159.40C554.77 160.23 556.05 161.48 556.50 161.90L562.00 161.80C561.58 161.42 560.42 160.38 559.50 159.50C558.58 158.62 557.50 157.75 556.50 156.50C555.50 155.25 554.50 153.75 553.50 152.00C552.50 150.25 551.42 148.08 550.50 146.00C549.58 143.92 548.83 142.17 548.00 139.50C547.17 136.83 546.50 133.42 545.50 130.00C544.50 126.58 543.42 122.25 542.00 119.00C540.58 115.75 537.83 111.92 537.00 110.50Z" fill="#0000f1"/>
<path d="M535.10 110.90C535.50 112.45 536.72 116.82 537.50 120.20C538.28 123.58 539.03 127.82 539.80 131.20C540.57 134.58 541.32 137.92 542.10 140.50C542.88 143.08 543.58 144.62 544.50 146.70C545.42 148.78 546.57 151.30 547.60 153.00C548.63 154.70 549.67 155.83 550.70 156.90C551.73 157.97 552.83 158.57 553.80 159.40C554.77 160.23 556.05 161.48 556.50 161.90L561.31 161.81C560.89 161.43 559.71 160.36 558.79 159.49C557.86 158.61 556.78 157.78 555.77 156.55C554.77 155.32 553.77 153.87 552.76 152.12C551.76 150.38 550.67 148.17 549.75 146.09C548.83 144.00 548.09 142.28 547.26 139.62C546.44 136.97 545.76 133.56 544.79 130.15C543.82 126.74 542.77 122.42 541.44 119.15C540.10 115.88 537.54 111.98 536.76 110.55Z" fill="#0000fd"/>
<path d="M535.10 110.90C535.50 112.45 536.72 116.82 537.50 120.20C538.28 123.58 539.03 127.82 539.80 131.20C540.57 134.58 541.32 137.92 542.10 140.50C542.88 143.08 543.58 144.62 544.50 146.70C545.42 148.78 546.57 151.30 547.60 153.00C548.63 154.70 549.67 155.83 550.70 156.90C551.73 157.97 552.83 158.57 553.80 159.40C554.77 160.23 556.05 161.48 556.50 161.90L560.62 161.83C560.20 161.43 559.00 160.35 558.08 159.47C557.15 158.60 556.06 157.80 555.05 156.60C554.04 155.40 553.03 153.99 552.02 152.25C551.02 150.51 549.92 148.26 549.00 146.18C548.08 144.09 547.35 142.40 546.52 139.75C545.70 137.10 545.02 133.71 544.08 130.30C543.13 126.89 542.13 122.58 540.88 119.30C539.62 116.02 537.25 112.05 536.52 110.60Z" fill="#000aff"/>
<path d="M535.10 110.90C535.50 112.45 536.72 116.82 537.50 120.20C538.28 123.58 539.03 127.82 539.80 131.20C540.57 134.58 541.32 137.92 542.10 140.50C542.88 143.08 543.58 144.62 544.50 146.70C545.42 148.78 546.57 151.30 547.60 153.00C548.63 154.70 549.67 155.83 550.70 156.90C551.73 157.97 552.83 158.57 553.80 159.40C554.77 160.23 556.05 161.48 556.50 161.90L559.94 161.84C559.51 161.44 558.30 160.33 557.36 159.46C556.43 158.60 555.34 157.83 554.33 156.65C553.31 155.47 552.30 154.11 551.29 152.38C550.27 150.64 549.17 148.35 548.25 146.26C547.33 144.18 546.60 142.51 545.79 139.88C544.97 137.24 544.27 133.85 543.36 130.45C542.45 127.05 541.49 122.75 540.31 119.45C539.13 116.15 536.96 112.12 536.29 110.65Z" fill="#0016ff"/>
<path d="M535.10 110.90C535.50 112.45 536.72 116.82 537.50 120.20C538.28 123.58 539.03 127.82 539.80 131.20C540.57 134.58 541.32 137.92 542.10 140.50C542.88 143.08 543.58 144.62 544.50 146.70C545.42 148.78 546.57 151.30 547.60 153.00C548.63 154.70 549.67 155.83 550.70 156.90C551.73 157.97 552.83 158.57 553.80 159.40C554.77 160.23 556.05 161.48 556.50 161.90L559.25 161.85C558.82 161.45 557.59 160.31 556.65 159.45C555.71 158.59 554.62 157.86 553.60 156.70C552.58 155.54 551.57 154.22 550.55 152.50C549.53 150.78 548.42 148.43 547.50 146.35C546.58 144.27 545.86 142.62 545.05 140.00C544.24 137.38 543.53 134.00 542.65 130.60C541.77 127.20 540.85 122.92 539.75 119.60C538.65 116.28 536.67 112.18 536.05 110.70Z" fill="#0022ff"/>
<path d="M535.10 110.90C535.50 112.45 536.72 116.82 537.50 120.20C538.28 123.58 539.03 127.82 539.80 131.20C540.57 134.58 541.32 137.92 542.10 140.50C542.88 143.08 543.58 144.62 544.50 146.70C545.42 148.78 546.57 151.30 547.60 153.00C548.63 154.70 549.67 155.83 550.70 156.90C551.73 157.97 552.83 158.57 553.80 159.40C554.77 160.23 556.05 161.48 556.50 161.90L558.56 161.86C558.12 161.46 556.89 160.29 555.94 159.44C554.99 158.59 553.90 157.89 552.88 156.75C551.85 155.61 550.83 154.34 549.81 152.62C548.79 150.91 547.67 148.52 546.75 146.44C545.83 144.35 545.11 142.74 544.31 140.12C543.51 137.51 542.79 134.15 541.94 130.75C541.08 127.35 540.21 123.08 539.19 119.75C538.17 116.42 536.38 112.25 535.81 110.75Z" fill="#002eff"/>
<path d="M535.10 110.90C535.50 112.45 536.72 116.82 537.50 120.20C538.28 123.58 539.03 127.82 539.80 131.20C540.57 134.58 541.32 137.92 542.10 140.50C542.88 143.08 543.58 144.62 544.50 146.70C545.42 148.78 546.57 151.30 547.60 153.00C548.63 154.70 549.67 155.83 550.70 156.90C551.73 157.97 552.83 158.57 553.80 159.40C554.77 160.23 556.05 161.48 556.50 161.90L557.88 161.88C557.43 161.47 556.18 160.27 555.22 159.43C554.27 158.58 553.18 157.91 552.15 156.80C551.13 155.69 550.10 154.46 549.08 152.75C548.05 151.04 546.92 148.61 546.00 146.52C545.08 144.44 544.37 142.85 543.58 140.25C542.78 137.65 542.05 134.29 541.22 130.90C540.40 127.51 539.57 123.25 538.62 119.90C537.68 116.55 536.08 112.32 535.58 110.80Z" fill="#003aff"/>
<path d="M535.10 110.90C535.50 112.45 536.72 116.82 537.50 120.20C538.28 123.58 539.03 127.82 539.80 131.20C540.57 134.58 541.32 137.92 542.10 140.50C542.88 143.08 543.58 144.62 544.50 146.70C545.42 148.78 546.57 151.30 547.60 153.00C548.63 154.70 549.67 155.83 550.70 156.90C551.73 157.97 552.83 158.57 553.80 159.40C554.77 160.23 556.05 161.48 556.50 161.90L557.19 161.89C556.74 161.47 555.47 160.25 554.51 159.41C553.55 158.57 552.45 157.94 551.43 156.85C550.40 155.76 549.37 154.58 548.34 152.88C547.31 151.17 546.17 148.70 545.25 146.61C544.33 144.53 543.63 142.97 542.84 140.38C542.05 137.78 541.31 134.44 540.51 131.05C539.72 127.66 538.92 123.42 538.06 120.05C537.20 116.68 535.79 112.38 535.34 110.85Z" fill="#0046ff"/>
</g>
<g fill="none" stroke-linejoin="round" stroke-linecap="round" clip-path="url(#cc)" >
<path d="M537.20 119.00C537.63 121.03 538.98 127.62 539.80 131.20C540.62 134.78 541.52 138.37 542.10 140.50C542.68 142.63 543.10 143.42 543.30 144.00" stroke="#002eff" stroke-width="9.00"/>
<path d="M537.20 119.00C537.63 121.03 538.98 127.62 539.80 131.20C540.62 134.78 541.52 138.37 542.10 140.50C542.68 142.63 543.10 143.42 543.30 144.00" stroke="#0052ff" stroke-width="7.75"/>
<path d="M537.20 119.00C537.63 121.03 538.98 127.62 539.80 131.20C540.62 134.78 541.52 138.37 542.10 140.50C542.68 142.63 543.10 143.42 543.30 144.00" stroke="#0077ff" stroke-width="6.51"/>
<path d="M537.20 119.00C537.63 121.03 538.98 127.62 539.80 131.20C540.62 134.78 541.52 138.37 542.10 140.50C542.68 142.63 543.10 143.42 543.30 144.00" stroke="#009bff" stroke-width="5.26"/>
<path d="M537.20 119.00C537.63 121.03 538.98 127.62 539.80 131.20C540.62 134.78 541.52 138.37 542.10 140.50C542.68 142.63 543.10 143.42 543.30 144.00" stroke="#00c0ff" stroke-width="4.01"/>
<path d="M537.20 119.00C537.63 121.03 538.98 127.62 539.80 131.20C540.62 134.78 541.52 138.37 542.10 140.50C542.68 142.63 543.10 143.42 543.30 144.00" stroke="#00e4ff" stroke-width="2.76"/>
<path d="M537.20 119.00C537.63 121.03 538.98 127.62 539.80 131.20C540.62 134.78 541.52 138.37 542.10 140.50C542.68 142.63 543.10 143.42 543.30 144.00" stroke="#09fff6" stroke-width="1.52"/>
<path d="M537.20 119.00C537.63 121.03 538.98 127.62 539.80 131.20C540.62 134.78 541.52 138.37 542.10 140.50C542.68 142.63 543.10 143.42 543.30 144.00" stroke="#2effd1" stroke-width="0.27"/>
</g>
<g fill="none">
<path d="M513.00 157.20C514.10 156.58 517.15 154.45 519.60 153.50C522.05 152.55 525.02 151.72 527.70 151.50C530.38 151.28 533.28 151.70 535.70 152.20C538.12 152.70 540.35 153.65 542.20 154.50C544.05 155.35 545.42 156.45 546.80 157.30C548.18 158.15 549.38 158.95 550.50 159.60C551.62 160.25 553.00 160.93 553.50 161.20" transform="translate(0,-0.20)" stroke="#1affe5" stroke-width="1.10"/>
<path d="M513.00 157.20C514.10 156.58 517.15 154.45 519.60 153.50C522.05 152.55 525.02 151.72 527.70 151.50C530.38 151.28 533.28 151.70 535.70 152.20C538.12 152.70 540.35 153.65 542.20 154.50C544.05 155.35 545.42 156.45 546.80 157.30C548.18 158.15 549.38 158.95 550.50 159.60C551.62 160.25 553.00 160.93 553.50 161.20" transform="translate(0,-0.60)" stroke="#b3ff4c" stroke-width="1.10"/>
<path d="M513.00 157.20C514.10 156.58 517.15 154.45 519.60 153.50C522.05 152.55 525.02 151.72 527.70 151.50C530.38 151.28 533.28 151.70 535.70 152.20C538.12 152.70 540.35 153.65 542.20 154.50C544.05 155.35 545.42 156.45 546.80 157.30C548.18 158.15 549.38 158.95 550.50 159.60C551.62 160.25 553.00 160.93 553.50 161.20" transform="translate(0,-1.00)" stroke="#ffb300" stroke-width="1.10"/>
<path d="M513.00 157.20C514.10 156.58 517.15 154.45 519.60 153.50C522.05 152.55 525.02 151.72 527.70 151.50C530.38 151.28 533.28 151.70 535.70 152.20C538.12 152.70 540.35 153.65 542.20 154.50C544.05 155.35 545.42 156.45 546.80 157.30C548.18 158.15 549.38 158.95 550.50 159.60C551.62 160.25 553.00 160.93 553.50 161.20" transform="translate(0,-1.40)" stroke="#ff1a00" stroke-width="1.10"/>
</g>
<path d="M485.70 127.00C486.21 125.92 487.78 122.67 488.75 120.50C489.72 118.33 490.54 116.33 491.50 114.00C492.46 111.67 493.58 109.22 494.50 106.50C495.42 103.78 496.17 100.63 497.00 97.70C497.83 94.77 498.67 91.83 499.50 88.90C500.33 85.97 501.17 83.03 502.00 80.10C502.83 77.17 503.67 73.82 504.50 71.30C505.33 68.78 506.28 66.42 507.00 65.00C507.72 63.58 508.17 63.32 508.80 62.80C509.43 62.28 510.47 62.05 510.80 61.90L510.80 61.90C511.13 62.05 512.17 62.28 512.80 62.80C513.43 63.32 513.88 63.58 514.60 65.00C515.32 66.42 516.27 68.98 517.10 71.30C517.93 73.62 518.77 76.38 519.60 78.90C520.43 81.42 521.42 84.22 522.10 86.40C522.78 88.58 523.40 90.93 523.70 92.00C524.00 93.07 523.87 92.67 523.90 92.80L523.90 92.80C524.05 92.67 524.47 92.20 524.80 92.00C525.13 91.80 525.45 91.47 525.90 91.60C526.35 91.73 526.98 92.20 527.50 92.80C528.02 93.40 528.33 93.97 529.00 95.20C529.67 96.43 530.77 98.32 531.50 100.20C532.23 102.08 532.80 104.72 533.40 106.50C534.00 108.28 534.42 108.62 535.10 110.90C535.78 113.18 536.72 116.82 537.50 120.20C538.28 123.58 539.03 127.82 539.80 131.20C540.57 134.58 541.32 137.92 542.10 140.50C542.88 143.08 543.58 144.62 544.50 146.70C545.42 148.78 546.57 151.30 547.60 153.00C548.63 154.70 549.67 155.83 550.70 156.90C551.73 157.97 553.28 158.98 553.80 159.40L553.80 159.40C553.17 159.17 551.17 158.58 550.00 158.00C548.83 157.42 548.10 156.73 546.80 155.90C545.50 155.07 544.05 153.92 542.20 153.00C540.35 152.08 538.12 150.97 535.70 150.40C533.28 149.83 530.38 149.42 527.70 149.60C525.02 149.78 522.02 150.52 519.60 151.50C517.18 152.48 514.50 154.58 513.20 155.50C511.90 156.42 512.03 156.75 511.80 157.00L511.80 157.00L515.80 137.60L515.80 137.60C514.17 137.45 509.02 137.02 506.00 136.70C502.98 136.38 499.87 135.98 497.70 135.70C495.53 135.42 494.45 135.32 493.00 135.00C491.55 134.68 490.08 134.25 489.00 133.80C487.92 133.35 487.17 132.93 486.50 132.30C485.83 131.67 485.13 130.88 485.00 130.00C484.87 129.12 485.58 127.50 485.70 127.00Z" fill="#800000"/>
<g stroke="#3a3a3a" stroke-width="0.7" fill="none">
<path d="M24.50 356.20L81.30 393.90L155.30 366.20"/>
<path d="M24.50 356.20L24.50 275.00"/>
<path d="M24.50 275.75h-2"/>
<path d="M24.50 316.25h-2"/>
<path d="M24.50 356.20h-2"/>
<path d="M24.50 356.20l-1.8 1.4"/>
<path d="M81.30 393.90l0.6 1.3"/>
<path d="M155.30 366.20l1.6 0.3"/>
</g>
<text transform="translate(18.30,279.70) scale(1.08,1)" font-size="18.3" text-anchor="end" stroke="#000" stroke-width="0.2">10</text>
<text transform="translate(18.30,320.20) scale(1.08,1)" font-size="18.3" text-anchor="end" stroke="#000" stroke-width="0.2">5</text>
<text transform="translate(18.30,360.00) scale(1.08,1)" font-size="18.3" text-anchor="end" stroke="#000" stroke-width="0.2">0</text>
<text transform="translate(17.10,376.60) scale(1.08,1)" font-size="18.3" text-anchor="end" stroke="#000" stroke-width="0.2">1</text>
<text transform="translate(26.50,401.90) scale(1.18,1)" font-size="19" font-style="italic" stroke="#000" stroke-width="0.15">y</text>
<text transform="translate(35.20,405.40) scale(1.08,1)" font-size="15" stroke="#000" stroke-width="0.2">2</text>
<text transform="translate(87.90,415.50) scale(1.08,1)" font-size="18.3" text-anchor="start" stroke="#000" stroke-width="0.2">0</text>
<text transform="translate(125.20,403.30) scale(1.18,1)" font-size="19" font-style="italic" stroke="#000" stroke-width="0.15">y</text>
<text transform="translate(133.30,406.80) scale(1.08,1)" font-size="15" stroke="#000" stroke-width="0.2">1</text>
<text transform="translate(161.40,387.50) scale(1.08,1)" font-size="18.3" text-anchor="start" stroke="#000" stroke-width="0.2">1</text>
<clipPath id="cd"><path d="M24.50 356.20C27.02 355.22 36.00 351.85 39.60 350.30C43.20 348.75 44.22 348.00 46.10 346.90C47.98 345.80 49.57 344.77 50.90 343.70C52.23 342.63 53.17 341.57 54.10 340.50C55.03 339.43 55.57 338.90 56.50 337.30C57.43 335.70 59.17 331.97 59.70 330.90L59.70 330.90L98.30 328.60L98.30 328.60L155.30 366.20L155.30 366.20L112.80 380.90L112.80 380.90C112.38 380.80 111.57 380.72 110.30 380.30C109.03 379.88 106.88 379.03 105.20 378.40C103.52 377.77 102.08 376.98 100.20 376.50C98.32 376.02 95.98 375.53 93.90 375.50C91.82 375.47 90.00 375.82 87.70 376.30C85.40 376.78 82.62 377.42 80.10 378.40C77.58 379.38 74.48 381.22 72.60 382.20C70.72 383.18 69.43 383.95 68.80 384.30L68.80 384.30L24.50 356.20Z"/></clipPath>
<path d="M24.50 356.20C27.02 355.22 36.00 351.85 39.60 350.30C43.20 348.75 44.22 348.00 46.10 346.90C47.98 345.80 49.57 344.77 50.90 343.70C52.23 342.63 53.17 341.57 54.10 340.50C55.03 339.43 55.57 338.90 56.50 337.30C57.43 335.70 59.17 331.97 59.70 330.90L59.70 330.90L98.30 328.60L98.30 328.60L155.30 366.20L155.30 366.20L112.80 380.90L112.80 380.90C112.38 380.80 111.57 380.72 110.30 380.30C109.03 379.88 106.88 379.03 105.20 378.40C103.52 377.77 102.08 376.98 100.20 376.50C98.32 376.02 95.98 375.53 93.90 375.50C91.82 375.47 90.00 375.82 87.70 376.30C85.40 376.78 82.62 377.42 80.10 378.40C77.58 379.38 74.48 381.22 72.60 382.20C70.72 383.18 69.43 383.95 68.80 384.30L68.80 384.30L24.50 356.20Z" fill="#00008f"/>
<g clip-path="url(#cd)">
<path d="M51.00 339.40C51.00 340.40 50.33 343.63 51.00 345.40C51.67 347.17 53.20 348.73 55.00 350.00C56.80 351.27 59.42 352.20 61.80 353.00C64.18 353.80 66.80 354.33 69.30 354.80C71.80 355.27 75.55 355.63 76.80 355.80L73.00 387.00C71.83 386.00 68.67 383.33 66.00 381.00C63.33 378.67 60.17 375.67 57.00 373.00C53.83 370.33 50.17 367.67 47.00 365.00C43.83 362.33 40.17 359.83 38.00 357.00C35.83 354.17 34.67 349.50 34.00 348.00Z" fill="#000084"/>
<path d="M51.00 339.40C51.00 340.40 50.33 343.63 51.00 345.40C51.67 347.17 53.20 348.73 55.00 350.00C56.80 351.27 59.42 352.20 61.80 353.00C64.18 353.80 66.80 354.33 69.30 354.80C71.80 355.27 75.55 355.63 76.80 355.80L73.27 384.77C72.10 383.83 68.89 381.33 66.24 379.13C63.58 376.93 60.45 374.10 57.34 371.57C54.23 369.04 50.64 366.50 47.57 363.93C44.50 361.36 40.99 358.93 38.93 356.17C36.87 353.41 35.83 348.85 35.21 347.39Z" fill="#00008e"/>
<path d="M51.00 339.40C51.00 340.40 50.33 343.63 51.00 345.40C51.67 347.17 53.20 348.73 55.00 350.00C56.80 351.27 59.42 352.20 61.80 353.00C64.18 353.80 66.80 354.33 69.30 354.80C71.80 355.27 75.55 355.63 76.80 355.80L73.54 382.54C72.36 381.66 69.11 379.32 66.47 377.26C63.83 375.19 60.74 372.54 57.69 370.14C54.63 367.74 51.11 365.32 48.14 362.86C45.17 360.39 41.81 358.02 39.86 355.34C37.90 352.66 37.00 348.20 36.43 346.77Z" fill="#000098"/>
<path d="M51.00 339.40C51.00 340.40 50.33 343.63 51.00 345.40C51.67 347.17 53.20 348.73 55.00 350.00C56.80 351.27 59.42 352.20 61.80 353.00C64.18 353.80 66.80 354.33 69.30 354.80C71.80 355.27 75.55 355.63 76.80 355.80L73.81 380.31C72.63 379.49 69.34 377.32 66.71 375.39C64.08 373.45 61.03 370.98 58.03 368.71C55.03 366.45 51.59 364.15 48.71 361.79C45.84 359.42 42.63 357.12 40.79 354.51C38.94 351.91 38.17 347.55 37.64 346.16Z" fill="#0000a2"/>
<path d="M51.00 339.40C51.00 340.40 50.33 343.63 51.00 345.40C51.67 347.17 53.20 348.73 55.00 350.00C56.80 351.27 59.42 352.20 61.80 353.00C64.18 353.80 66.80 354.33 69.30 354.80C71.80 355.27 75.55 355.63 76.80 355.80L74.09 378.09C72.90 377.32 69.56 375.31 66.94 373.51C64.32 371.71 61.31 369.42 58.37 367.29C55.43 365.15 52.06 362.98 49.29 360.71C46.51 358.45 43.45 356.21 41.71 353.69C39.98 351.16 39.33 346.90 38.86 345.54Z" fill="#0000ae"/>
<path d="M51.00 339.40C51.00 340.40 50.33 343.63 51.00 345.40C51.67 347.17 53.20 348.73 55.00 350.00C56.80 351.27 59.42 352.20 61.80 353.00C64.18 353.80 66.80 354.33 69.30 354.80C71.80 355.27 75.55 355.63 76.80 355.80L74.36 375.86C73.16 375.15 69.79 373.31 67.18 371.64C64.57 369.98 61.60 367.86 58.71 365.86C55.83 363.86 52.54 361.81 49.86 359.64C47.18 357.48 44.27 355.31 42.64 352.86C41.01 350.40 40.50 346.25 40.07 344.93Z" fill="#0000ba"/>
<path d="M51.00 339.40C51.00 340.40 50.33 343.63 51.00 345.40C51.67 347.17 53.20 348.73 55.00 350.00C56.80 351.27 59.42 352.20 61.80 353.00C64.18 353.80 66.80 354.33 69.30 354.80C71.80 355.27 75.55 355.63 76.80 355.80L74.63 373.63C73.43 372.99 70.01 371.30 67.41 369.77C64.82 368.24 61.89 366.30 59.06 364.43C56.23 362.56 53.01 360.64 50.43 358.57C47.85 356.50 45.10 354.40 43.57 352.03C42.05 349.65 41.67 345.60 41.29 344.31Z" fill="#0000c7"/>
<path d="M51.00 339.40C51.00 340.40 50.33 343.63 51.00 345.40C51.67 347.17 53.20 348.73 55.00 350.00C56.80 351.27 59.42 352.20 61.80 353.00C64.18 353.80 66.80 354.33 69.30 354.80C71.80 355.27 75.55 355.63 76.80 355.80L74.90 371.40C73.69 370.82 70.23 369.30 67.65 367.90C65.07 366.50 62.17 364.73 59.40 363.00C56.62 361.27 53.48 359.47 51.00 357.50C48.52 355.53 45.92 353.50 44.50 351.20C43.08 348.90 42.83 344.95 42.50 343.70Z" fill="#0000d5"/>
<path d="M51.00 339.40C51.00 340.40 50.33 343.63 51.00 345.40C51.67 347.17 53.20 348.73 55.00 350.00C56.80 351.27 59.42 352.20 61.80 353.00C64.18 353.80 66.80 354.33 69.30 354.80C71.80 355.27 75.55 355.63 76.80 355.80L75.17 369.17C73.96 368.65 70.46 367.30 67.89 366.03C65.31 364.76 62.46 363.17 59.74 361.57C57.02 359.97 53.96 358.30 51.57 356.43C49.19 354.56 46.74 352.60 45.43 350.37C44.12 348.15 44.00 344.30 43.71 343.09Z" fill="#0000e4"/>
<path d="M51.00 339.40C51.00 340.40 50.33 343.63 51.00 345.40C51.67 347.17 53.20 348.73 55.00 350.00C56.80 351.27 59.42 352.20 61.80 353.00C64.18 353.80 66.80 354.33 69.30 354.80C71.80 355.27 75.55 355.63 76.80 355.80L75.44 366.94C74.22 366.48 70.68 365.29 68.12 364.16C65.56 363.02 62.75 361.61 60.09 360.14C57.42 358.68 54.43 357.12 52.14 355.36C49.85 353.59 47.56 351.69 46.36 349.54C45.15 347.40 45.17 343.65 44.93 342.47Z" fill="#0000f5"/>
<path d="M51.00 339.40C51.00 340.40 50.33 343.63 51.00 345.40C51.67 347.17 53.20 348.73 55.00 350.00C56.80 351.27 59.42 352.20 61.80 353.00C64.18 353.80 66.80 354.33 69.30 354.80C71.80 355.27 75.55 355.63 76.80 355.80L75.71 364.71C74.49 364.31 70.90 363.29 68.36 362.29C65.81 361.29 63.04 360.05 60.43 358.71C57.82 357.38 54.90 355.95 52.71 354.29C50.52 352.62 48.38 350.79 47.29 348.71C46.19 346.64 46.33 343.00 46.14 341.86Z" fill="#000aff"/>
<path d="M51.00 339.40C51.00 340.40 50.33 343.63 51.00 345.40C51.67 347.17 53.20 348.73 55.00 350.00C56.80 351.27 59.42 352.20 61.80 353.00C64.18 353.80 66.80 354.33 69.30 354.80C71.80 355.27 75.55 355.63 76.80 355.80L75.99 362.49C74.75 362.14 71.13 361.28 68.59 360.41C66.06 359.55 63.32 358.49 60.77 357.29C58.22 356.09 55.38 354.78 53.29 353.21C51.19 351.65 49.20 349.88 48.21 347.89C47.23 345.89 47.50 342.35 47.36 341.24Z" fill="#0022ff"/>
<path d="M51.00 339.40C51.00 340.40 50.33 343.63 51.00 345.40C51.67 347.17 53.20 348.73 55.00 350.00C56.80 351.27 59.42 352.20 61.80 353.00C64.18 353.80 66.80 354.33 69.30 354.80C71.80 355.27 75.55 355.63 76.80 355.80L76.26 360.26C75.02 359.97 71.35 359.28 68.83 358.54C66.30 357.81 63.61 356.92 61.11 355.86C58.62 354.79 55.85 353.61 53.86 352.14C51.86 350.68 50.02 348.98 49.14 347.06C48.26 345.14 48.67 341.70 48.57 340.63Z" fill="#0041ff"/>
<path d="M51.00 339.40C51.00 340.40 50.33 343.63 51.00 345.40C51.67 347.17 53.20 348.73 55.00 350.00C56.80 351.27 59.42 352.20 61.80 353.00C64.18 353.80 66.80 354.33 69.30 354.80C71.80 355.27 75.55 355.63 76.80 355.80L76.53 358.03C75.28 357.80 71.58 357.27 69.06 356.67C66.55 356.07 63.90 355.36 61.46 354.43C59.02 353.50 56.33 352.44 54.43 351.07C52.53 349.70 50.85 348.07 50.07 346.23C49.30 344.39 49.83 341.05 49.79 340.01Z" fill="#0072ff"/>
</g>
<g clip-path="url(#cd)">
<path d="M57.50 335.50C57.20 336.60 55.60 340.33 55.70 342.10C55.80 343.87 56.75 345.08 58.10 346.10C59.45 347.12 61.78 347.65 63.80 348.20C65.82 348.75 68.03 349.07 70.20 349.40C72.37 349.73 75.70 350.07 76.80 350.20L76.80 355.80C75.55 355.63 71.80 355.27 69.30 354.80C66.80 354.33 64.18 353.80 61.80 353.00C59.42 352.20 56.80 351.27 55.00 350.00C53.20 348.73 51.67 347.17 51.00 345.40C50.33 343.63 51.00 340.40 51.00 339.40Z" fill="#1effe1"/>
<path d="M57.50 335.50C57.20 336.60 55.60 340.33 55.70 342.10C55.80 343.87 56.75 345.08 58.10 346.10C59.45 347.12 61.78 347.65 63.80 348.20C65.82 348.75 68.03 349.07 70.20 349.40C72.37 349.73 75.70 350.07 76.80 350.20L76.80 355.33C75.56 355.17 71.85 354.81 69.38 354.35C66.90 353.89 64.32 353.38 61.97 352.60C59.61 351.82 57.02 350.92 55.26 349.68C53.50 348.43 52.01 346.89 51.39 345.12C50.77 343.36 51.52 340.08 51.54 339.07Z" fill="#50ffaf"/>
<path d="M57.50 335.50C57.20 336.60 55.60 340.33 55.70 342.10C55.80 343.87 56.75 345.08 58.10 346.10C59.45 347.12 61.78 347.65 63.80 348.20C65.82 348.75 68.03 349.07 70.20 349.40C72.37 349.73 75.70 350.07 76.80 350.20L76.80 354.87C75.58 354.71 71.89 354.34 69.45 353.90C67.01 353.46 64.46 352.96 62.13 352.20C59.81 351.44 57.24 350.58 55.52 349.35C53.79 348.12 52.36 346.62 51.78 344.85C51.21 343.08 52.03 339.77 52.08 338.75Z" fill="#82ff7d"/>
<path d="M57.50 335.50C57.20 336.60 55.60 340.33 55.70 342.10C55.80 343.87 56.75 345.08 58.10 346.10C59.45 347.12 61.78 347.65 63.80 348.20C65.82 348.75 68.03 349.07 70.20 349.40C72.37 349.73 75.70 350.07 76.80 350.20L76.80 354.40C75.59 354.24 71.94 353.88 69.52 353.45C67.11 353.02 64.59 352.54 62.30 351.80C60.01 351.06 57.46 350.23 55.77 349.02C54.09 347.82 52.70 346.34 52.17 344.57C51.65 342.81 52.55 339.45 52.62 338.42Z" fill="#b5ff4a"/>
<path d="M57.50 335.50C57.20 336.60 55.60 340.33 55.70 342.10C55.80 343.87 56.75 345.08 58.10 346.10C59.45 347.12 61.78 347.65 63.80 348.20C65.82 348.75 68.03 349.07 70.20 349.40C72.37 349.73 75.70 350.07 76.80 350.20L76.80 353.93C75.60 353.78 71.99 353.42 69.60 353.00C67.21 352.58 64.73 352.12 62.47 351.40C60.21 350.68 57.68 349.88 56.03 348.70C54.38 347.52 53.04 346.07 52.57 344.30C52.09 342.53 53.07 339.13 53.17 338.10Z" fill="#e7ff18"/>
<path d="M57.50 335.50C57.20 336.60 55.60 340.33 55.70 342.10C55.80 343.87 56.75 345.08 58.10 346.10C59.45 347.12 61.78 347.65 63.80 348.20C65.82 348.75 68.03 349.07 70.20 349.40C72.37 349.73 75.70 350.07 76.80 350.20L76.80 353.47C75.61 353.31 72.04 352.96 69.68 352.55C67.31 352.14 64.86 351.70 62.63 351.00C60.40 350.30 57.90 349.54 56.29 348.38C54.68 347.21 53.39 345.79 52.96 344.02C52.53 342.26 53.58 338.82 53.71 337.77Z" fill="#ffe500"/>
<path d="M57.50 335.50C57.20 336.60 55.60 340.33 55.70 342.10C55.80 343.87 56.75 345.08 58.10 346.10C59.45 347.12 61.78 347.65 63.80 348.20C65.82 348.75 68.03 349.07 70.20 349.40C72.37 349.73 75.70 350.07 76.80 350.20L76.80 353.00C75.62 352.85 72.08 352.50 69.75 352.10C67.42 351.70 65.00 351.28 62.80 350.60C60.60 349.93 58.12 349.19 56.55 348.05C54.97 346.91 53.73 345.52 53.35 343.75C52.97 341.98 54.10 338.50 54.25 337.45Z" fill="#ffb300"/>
<path d="M57.50 335.50C57.20 336.60 55.60 340.33 55.70 342.10C55.80 343.87 56.75 345.08 58.10 346.10C59.45 347.12 61.78 347.65 63.80 348.20C65.82 348.75 68.03 349.07 70.20 349.40C72.37 349.73 75.70 350.07 76.80 350.20L76.80 352.53C75.64 352.39 72.13 352.04 69.82 351.65C67.52 351.26 65.14 350.85 62.97 350.20C60.80 349.55 58.35 348.85 56.81 347.73C55.27 346.60 54.08 345.24 53.74 343.47C53.41 341.71 54.62 338.18 54.79 337.12Z" fill="#ff8100"/>
<path d="M57.50 335.50C57.20 336.60 55.60 340.33 55.70 342.10C55.80 343.87 56.75 345.08 58.10 346.10C59.45 347.12 61.78 347.65 63.80 348.20C65.82 348.75 68.03 349.07 70.20 349.40C72.37 349.73 75.70 350.07 76.80 350.20L76.80 352.07C75.65 351.92 72.18 351.58 69.90 351.20C67.62 350.82 65.27 350.43 63.13 349.80C60.99 349.17 58.57 348.50 57.07 347.40C55.57 346.30 54.42 344.97 54.13 343.20C53.84 341.43 55.13 337.87 55.33 336.80Z" fill="#ff4f00"/>
<path d="M57.50 335.50C57.20 336.60 55.60 340.33 55.70 342.10C55.80 343.87 56.75 345.08 58.10 346.10C59.45 347.12 61.78 347.65 63.80 348.20C65.82 348.75 68.03 349.07 70.20 349.40C72.37 349.73 75.70 350.07 76.80 350.20L76.80 351.60C75.66 351.46 72.23 351.12 69.98 350.75C67.73 350.38 65.41 350.01 63.30 349.40C61.19 348.79 58.79 348.15 57.33 347.08C55.86 346.00 54.77 344.69 54.53 342.93C54.28 341.16 55.65 337.55 55.88 336.48Z" fill="#ff1c00"/>
<path d="M57.50 335.50C57.20 336.60 55.60 340.33 55.70 342.10C55.80 343.87 56.75 345.08 58.10 346.10C59.45 347.12 61.78 347.65 63.80 348.20C65.82 348.75 68.03 349.07 70.20 349.40C72.37 349.73 75.70 350.07 76.80 350.20L76.80 351.13C75.67 350.99 72.27 350.66 70.05 350.30C67.83 349.94 65.54 349.59 63.47 349.00C61.39 348.41 59.01 347.81 57.58 346.75C56.16 345.69 55.11 344.42 54.92 342.65C54.72 340.88 56.17 337.23 56.42 336.15Z" fill="#e90000"/>
<path d="M57.50 335.50C57.20 336.60 55.60 340.33 55.70 342.10C55.80 343.87 56.75 345.08 58.10 346.10C59.45 347.12 61.78 347.65 63.80 348.20C65.82 348.75 68.03 349.07 70.20 349.40C72.37 349.73 75.70 350.07 76.80 350.20L76.80 350.67C75.69 350.53 72.32 350.19 70.12 349.85C67.93 349.51 65.68 349.17 63.63 348.60C61.59 348.03 59.23 347.46 57.84 346.43C56.45 345.39 55.46 344.14 55.31 342.38C55.16 340.61 56.68 336.92 56.96 335.82Z" fill="#b70000"/>
</g>
<g clip-path="url(#cd)">
<path d="M105.00 333.00C104.47 334.25 102.53 338.08 101.80 340.50C101.07 342.92 100.97 345.28 100.60 347.50C100.23 349.72 99.87 351.72 99.60 353.80C99.33 355.88 99.05 357.97 99.00 360.00C98.95 362.03 98.97 363.95 99.30 366.00C99.63 368.05 100.25 370.13 101.00 372.30C101.75 374.47 103.33 377.88 103.80 379.00L121.00 381.00C120.83 379.83 120.33 376.17 120.00 374.00C119.67 371.83 119.25 370.00 119.00 368.00C118.75 366.00 118.67 364.00 118.50 362.00C118.33 360.00 118.25 358.00 118.00 356.00C117.75 354.00 117.50 352.00 117.00 350.00C116.50 348.00 115.67 346.00 115.00 344.00C114.33 342.00 113.33 339.00 113.00 338.00Z" fill="#000085"/>
<path d="M105.00 333.00C104.47 334.25 102.53 338.08 101.80 340.50C101.07 342.92 100.97 345.28 100.60 347.50C100.23 349.72 99.87 351.72 99.60 353.80C99.33 355.88 99.05 357.97 99.00 360.00C98.95 362.03 98.97 363.95 99.30 366.00C99.63 368.05 100.25 370.13 101.00 372.30C101.75 374.47 103.33 377.88 103.80 379.00L119.77 380.86C119.58 379.69 119.01 376.05 118.64 373.88C118.28 371.71 117.85 369.86 117.59 367.86C117.34 365.85 117.26 363.86 117.11 361.86C116.96 359.85 116.90 357.85 116.69 355.84C116.47 353.84 116.27 351.84 115.83 349.82C115.39 347.81 114.62 345.78 114.06 343.75C113.49 341.72 112.70 338.66 112.43 337.64Z" fill="#00008f"/>
<path d="M105.00 333.00C104.47 334.25 102.53 338.08 101.80 340.50C101.07 342.92 100.97 345.28 100.60 347.50C100.23 349.72 99.87 351.72 99.60 353.80C99.33 355.88 99.05 357.97 99.00 360.00C98.95 362.03 98.97 363.95 99.30 366.00C99.63 368.05 100.25 370.13 101.00 372.30C101.75 374.47 103.33 377.88 103.80 379.00L118.54 380.71C118.33 379.55 117.68 375.92 117.29 373.76C116.89 371.59 116.45 369.72 116.19 367.71C115.92 365.71 115.85 363.72 115.71 361.71C115.58 359.71 115.55 357.70 115.37 355.69C115.20 353.67 115.03 351.67 114.66 349.64C114.28 347.61 113.58 345.56 113.11 343.50C112.65 341.44 112.07 338.32 111.86 337.29Z" fill="#00009a"/>
<path d="M105.00 333.00C104.47 334.25 102.53 338.08 101.80 340.50C101.07 342.92 100.97 345.28 100.60 347.50C100.23 349.72 99.87 351.72 99.60 353.80C99.33 355.88 99.05 357.97 99.00 360.00C98.95 362.03 98.97 363.95 99.30 366.00C99.63 368.05 100.25 370.13 101.00 372.30C101.75 374.47 103.33 377.88 103.80 379.00L117.31 380.57C117.08 379.42 116.35 375.80 115.93 373.64C115.51 371.47 115.05 369.58 114.78 367.57C114.51 365.56 114.44 363.58 114.32 361.57C114.20 359.56 114.20 357.55 114.06 355.53C113.92 353.51 113.80 351.51 113.49 349.46C113.17 347.42 112.54 345.34 112.17 343.25C111.80 341.16 111.43 337.98 111.29 336.93Z" fill="#0000a6"/>
<path d="M105.00 333.00C104.47 334.25 102.53 338.08 101.80 340.50C101.07 342.92 100.97 345.28 100.60 347.50C100.23 349.72 99.87 351.72 99.60 353.80C99.33 355.88 99.05 357.97 99.00 360.00C98.95 362.03 98.97 363.95 99.30 366.00C99.63 368.05 100.25 370.13 101.00 372.30C101.75 374.47 103.33 377.88 103.80 379.00L116.09 380.43C115.83 379.28 115.02 375.68 114.57 373.51C114.12 371.35 113.65 369.44 113.37 367.43C113.10 365.41 113.03 363.44 112.93 361.43C112.82 359.42 112.85 357.40 112.74 355.37C112.64 353.35 112.57 351.35 112.31 349.29C112.06 347.22 111.50 345.12 111.23 343.00C110.96 340.88 110.80 337.64 110.71 336.57Z" fill="#0000b2"/>
<path d="M105.00 333.00C104.47 334.25 102.53 338.08 101.80 340.50C101.07 342.92 100.97 345.28 100.60 347.50C100.23 349.72 99.87 351.72 99.60 353.80C99.33 355.88 99.05 357.97 99.00 360.00C98.95 362.03 98.97 363.95 99.30 366.00C99.63 368.05 100.25 370.13 101.00 372.30C101.75 374.47 103.33 377.88 103.80 379.00L114.86 380.29C114.58 379.14 113.70 375.56 113.21 373.39C112.73 371.23 112.24 369.30 111.96 367.29C111.68 365.27 111.62 363.30 111.54 361.29C111.45 359.27 111.49 357.24 111.43 355.21C111.36 353.18 111.33 351.18 111.14 349.11C110.95 347.03 110.45 344.90 110.29 342.75C110.12 340.60 110.17 337.30 110.14 336.21Z" fill="#0000bf"/>
<path d="M105.00 333.00C104.47 334.25 102.53 338.08 101.80 340.50C101.07 342.92 100.97 345.28 100.60 347.50C100.23 349.72 99.87 351.72 99.60 353.80C99.33 355.88 99.05 357.97 99.00 360.00C98.95 362.03 98.97 363.95 99.30 366.00C99.63 368.05 100.25 370.13 101.00 372.30C101.75 374.47 103.33 377.88 103.80 379.00L113.63 380.14C113.33 379.00 112.37 375.44 111.86 373.27C111.35 371.10 110.84 369.16 110.56 367.14C110.27 365.12 110.22 363.16 110.14 361.14C110.07 359.13 110.14 357.09 110.11 355.06C110.09 353.02 110.10 351.02 109.97 348.93C109.84 346.84 109.41 344.68 109.34 342.50C109.28 340.32 109.53 336.96 109.57 335.86Z" fill="#0000cd"/>
<path d="M105.00 333.00C104.47 334.25 102.53 338.08 101.80 340.50C101.07 342.92 100.97 345.28 100.60 347.50C100.23 349.72 99.87 351.72 99.60 353.80C99.33 355.88 99.05 357.97 99.00 360.00C98.95 362.03 98.97 363.95 99.30 366.00C99.63 368.05 100.25 370.13 101.00 372.30C101.75 374.47 103.33 377.88 103.80 379.00L112.40 380.00C112.08 378.86 111.04 375.32 110.50 373.15C109.96 370.98 109.44 369.02 109.15 367.00C108.86 364.98 108.81 363.02 108.75 361.00C108.69 358.98 108.79 356.94 108.80 354.90C108.81 352.86 108.87 350.86 108.80 348.75C108.73 346.64 108.37 344.46 108.40 342.25C108.43 340.04 108.90 336.62 109.00 335.50Z" fill="#0000dc"/>
<path d="M105.00 333.00C104.47 334.25 102.53 338.08 101.80 340.50C101.07 342.92 100.97 345.28 100.60 347.50C100.23 349.72 99.87 351.72 99.60 353.80C99.33 355.88 99.05 357.97 99.00 360.00C98.95 362.03 98.97 363.95 99.30 366.00C99.63 368.05 100.25 370.13 101.00 372.30C101.75 374.47 103.33 377.88 103.80 379.00L111.17 379.86C110.83 378.72 109.71 375.20 109.14 373.03C108.57 370.86 108.04 368.89 107.74 366.86C107.45 364.83 107.40 362.88 107.36 360.86C107.31 358.84 107.44 356.79 107.49 354.74C107.53 352.70 107.63 350.70 107.63 348.57C107.62 346.45 107.32 344.24 107.46 342.00C107.59 339.76 108.27 336.29 108.43 335.14Z" fill="#0000ed"/>
<path d="M105.00 333.00C104.47 334.25 102.53 338.08 101.80 340.50C101.07 342.92 100.97 345.28 100.60 347.50C100.23 349.72 99.87 351.72 99.60 353.80C99.33 355.88 99.05 357.97 99.00 360.00C98.95 362.03 98.97 363.95 99.30 366.00C99.63 368.05 100.25 370.13 101.00 372.30C101.75 374.47 103.33 377.88 103.80 379.00L109.94 379.71C109.58 378.58 108.39 375.07 107.79 372.91C107.18 370.74 106.64 368.75 106.34 366.71C106.03 364.68 105.99 362.74 105.96 360.71C105.94 358.69 106.09 356.64 106.17 354.59C106.25 352.53 106.40 350.53 106.46 348.39C106.51 346.25 106.28 344.02 106.51 341.75C106.75 339.48 107.63 335.95 107.86 334.79Z" fill="#0000ff"/>
<path d="M105.00 333.00C104.47 334.25 102.53 338.08 101.80 340.50C101.07 342.92 100.97 345.28 100.60 347.50C100.23 349.72 99.87 351.72 99.60 353.80C99.33 355.88 99.05 357.97 99.00 360.00C98.95 362.03 98.97 363.95 99.30 366.00C99.63 368.05 100.25 370.13 101.00 372.30C101.75 374.47 103.33 377.88 103.80 379.00L108.71 379.57C108.33 378.44 107.06 374.95 106.43 372.79C105.80 370.62 105.24 368.61 104.93 366.57C104.62 364.54 104.58 362.60 104.57 360.57C104.56 358.55 104.74 356.49 104.86 354.43C104.98 352.37 105.17 350.37 105.29 348.21C105.40 346.06 105.24 343.80 105.57 341.50C105.90 339.20 107.00 335.61 107.29 334.43Z" fill="#0015ff"/>
<path d="M105.00 333.00C104.47 334.25 102.53 338.08 101.80 340.50C101.07 342.92 100.97 345.28 100.60 347.50C100.23 349.72 99.87 351.72 99.60 353.80C99.33 355.88 99.05 357.97 99.00 360.00C98.95 362.03 98.97 363.95 99.30 366.00C99.63 368.05 100.25 370.13 101.00 372.30C101.75 374.47 103.33 377.88 103.80 379.00L107.49 379.43C107.08 378.30 105.73 374.83 105.07 372.66C104.41 370.50 103.84 368.47 103.52 366.43C103.21 364.39 103.17 362.45 103.18 360.43C103.18 358.40 103.39 356.34 103.54 354.27C103.70 352.21 103.93 350.21 104.11 348.04C104.30 345.87 104.20 343.58 104.63 341.25C105.06 338.92 106.37 335.27 106.71 334.07Z" fill="#002eff"/>
<path d="M105.00 333.00C104.47 334.25 102.53 338.08 101.80 340.50C101.07 342.92 100.97 345.28 100.60 347.50C100.23 349.72 99.87 351.72 99.60 353.80C99.33 355.88 99.05 357.97 99.00 360.00C98.95 362.03 98.97 363.95 99.30 366.00C99.63 368.05 100.25 370.13 101.00 372.30C101.75 374.47 103.33 377.88 103.80 379.00L106.26 379.29C105.83 378.16 104.40 374.71 103.71 372.54C103.02 370.38 102.44 368.33 102.11 366.29C101.79 364.24 101.77 362.31 101.79 360.29C101.80 358.26 102.04 356.19 102.23 354.11C102.42 352.04 102.70 350.04 102.94 347.86C103.19 345.67 103.15 343.36 103.69 341.00C104.22 338.64 105.73 334.93 106.14 333.71Z" fill="#004dff"/>
<path d="M105.00 333.00C104.47 334.25 102.53 338.08 101.80 340.50C101.07 342.92 100.97 345.28 100.60 347.50C100.23 349.72 99.87 351.72 99.60 353.80C99.33 355.88 99.05 357.97 99.00 360.00C98.95 362.03 98.97 363.95 99.30 366.00C99.63 368.05 100.25 370.13 101.00 372.30C101.75 374.47 103.33 377.88 103.80 379.00L105.03 379.14C104.58 378.02 103.08 374.59 102.36 372.42C101.64 370.25 101.03 368.19 100.71 366.14C100.38 364.10 100.36 362.17 100.39 360.14C100.43 358.11 100.68 356.03 100.91 353.96C101.14 351.88 101.47 349.88 101.77 347.68C102.08 345.48 102.11 343.14 102.74 340.75C103.38 338.36 105.10 334.59 105.57 333.36Z" fill="#007eff"/>
</g>
<g clip-path="url(#cd)">
<path d="M98.30 328.50C97.77 330.23 95.85 335.83 95.10 338.90C94.35 341.97 94.18 344.48 93.80 346.90C93.42 349.32 93.10 351.25 92.80 353.40C92.50 355.55 92.08 357.67 92.00 359.80C91.92 361.93 91.88 364.05 92.30 366.20C92.72 368.35 93.63 370.77 94.50 372.70C95.37 374.63 97.00 376.95 97.50 377.80L103.80 379.00C103.33 377.88 101.75 374.47 101.00 372.30C100.25 370.13 99.63 368.05 99.30 366.00C98.97 363.95 98.95 362.03 99.00 360.00C99.05 357.97 99.33 355.88 99.60 353.80C99.87 351.72 100.23 349.72 100.60 347.50C100.97 345.28 101.07 342.92 101.80 340.50C102.53 338.08 104.47 334.25 105.00 333.00Z" fill="#0bfff4"/>
<path d="M98.30 328.50C97.77 330.23 95.85 335.83 95.10 338.90C94.35 341.97 94.18 344.48 93.80 346.90C93.42 349.32 93.10 351.25 92.80 353.40C92.50 355.55 92.08 357.67 92.00 359.80C91.92 361.93 91.88 364.05 92.30 366.20C92.72 368.35 93.63 370.77 94.50 372.70C95.37 374.63 97.00 376.95 97.50 377.80L103.27 378.90C102.81 377.81 101.22 374.48 100.46 372.33C99.70 370.19 99.06 368.07 98.72 366.02C98.38 363.96 98.36 362.03 98.42 359.98C98.47 357.94 98.76 355.86 99.03 353.77C99.30 351.68 99.67 349.68 100.03 347.45C100.40 345.22 100.51 342.84 101.24 340.37C101.98 337.90 103.91 333.92 104.44 332.62Z" fill="#3effc1"/>
<path d="M98.30 328.50C97.77 330.23 95.85 335.83 95.10 338.90C94.35 341.97 94.18 344.48 93.80 346.90C93.42 349.32 93.10 351.25 92.80 353.40C92.50 355.55 92.08 357.67 92.00 359.80C91.92 361.93 91.88 364.05 92.30 366.20C92.72 368.35 93.63 370.77 94.50 372.70C95.37 374.63 97.00 376.95 97.50 377.80L102.75 378.80C102.28 377.73 100.69 374.49 99.92 372.37C99.15 370.24 98.48 368.10 98.13 366.03C97.79 363.97 97.78 362.02 97.83 359.97C97.89 357.92 98.19 355.83 98.47 353.73C98.74 351.64 99.10 349.65 99.47 347.40C99.84 345.15 99.95 342.76 100.68 340.23C101.42 337.71 103.35 333.58 103.88 332.25Z" fill="#72ff8d"/>
<path d="M98.30 328.50C97.77 330.23 95.85 335.83 95.10 338.90C94.35 341.97 94.18 344.48 93.80 346.90C93.42 349.32 93.10 351.25 92.80 353.40C92.50 355.55 92.08 357.67 92.00 359.80C91.92 361.93 91.88 364.05 92.30 366.20C92.72 368.35 93.63 370.77 94.50 372.70C95.37 374.63 97.00 376.95 97.50 377.80L102.22 378.70C101.75 377.65 100.15 374.51 99.38 372.40C98.60 370.29 97.90 368.12 97.55 366.05C97.20 363.98 97.19 362.01 97.25 359.95C97.31 357.89 97.62 355.80 97.90 353.70C98.17 351.60 98.53 349.62 98.90 347.35C99.27 345.08 99.39 342.68 100.12 340.10C100.86 337.52 102.79 333.25 103.33 331.88Z" fill="#a6ff59"/>
<path d="M98.30 328.50C97.77 330.23 95.85 335.83 95.10 338.90C94.35 341.97 94.18 344.48 93.80 346.90C93.42 349.32 93.10 351.25 92.80 353.40C92.50 355.55 92.08 357.67 92.00 359.80C91.92 361.93 91.88 364.05 92.30 366.20C92.72 368.35 93.63 370.77 94.50 372.70C95.37 374.63 97.00 376.95 97.50 377.80L101.70 378.60C101.22 377.57 99.62 374.52 98.83 372.43C98.04 370.34 97.33 368.15 96.97 366.07C96.61 363.98 96.61 362.00 96.67 359.93C96.73 357.87 97.06 355.77 97.33 353.67C97.61 351.56 97.96 349.58 98.33 347.30C98.71 345.02 98.83 342.60 99.57 339.97C100.31 337.33 102.23 332.91 102.77 331.50Z" fill="#daff25"/>
<path d="M98.30 328.50C97.77 330.23 95.85 335.83 95.10 338.90C94.35 341.97 94.18 344.48 93.80 346.90C93.42 349.32 93.10 351.25 92.80 353.40C92.50 355.55 92.08 357.67 92.00 359.80C91.92 361.93 91.88 364.05 92.30 366.20C92.72 368.35 93.63 370.77 94.50 372.70C95.37 374.63 97.00 376.95 97.50 377.80L101.17 378.50C100.69 377.49 99.09 374.54 98.29 372.47C97.49 370.40 96.75 368.18 96.38 366.08C96.02 363.99 96.02 361.99 96.08 359.92C96.15 357.84 96.49 355.74 96.77 353.63C97.05 351.52 97.39 349.55 97.77 347.25C98.14 344.95 98.27 342.52 99.01 339.83C99.75 337.15 101.68 332.58 102.21 331.12Z" fill="#fff000"/>
<path d="M98.30 328.50C97.77 330.23 95.85 335.83 95.10 338.90C94.35 341.97 94.18 344.48 93.80 346.90C93.42 349.32 93.10 351.25 92.80 353.40C92.50 355.55 92.08 357.67 92.00 359.80C91.92 361.93 91.88 364.05 92.30 366.20C92.72 368.35 93.63 370.77 94.50 372.70C95.37 374.63 97.00 376.95 97.50 377.80L100.65 378.40C100.17 377.42 98.56 374.55 97.75 372.50C96.94 370.45 96.17 368.20 95.80 366.10C95.42 364.00 95.43 361.98 95.50 359.90C95.57 357.82 95.92 355.72 96.20 353.60C96.48 351.48 96.82 349.52 97.20 347.20C97.57 344.88 97.71 342.44 98.45 339.70C99.19 336.96 101.12 332.24 101.65 330.75Z" fill="#ffbc00"/>
<path d="M98.30 328.50C97.77 330.23 95.85 335.83 95.10 338.90C94.35 341.97 94.18 344.48 93.80 346.90C93.42 349.32 93.10 351.25 92.80 353.40C92.50 355.55 92.08 357.67 92.00 359.80C91.92 361.93 91.88 364.05 92.30 366.20C92.72 368.35 93.63 370.77 94.50 372.70C95.37 374.63 97.00 376.95 97.50 377.80L100.12 378.30C99.64 377.34 98.03 374.56 97.21 372.53C96.39 370.50 95.60 368.23 95.22 366.12C94.83 364.01 94.85 361.98 94.92 359.88C94.99 357.79 95.35 355.69 95.63 353.57C95.92 351.44 96.26 349.48 96.63 347.15C97.01 344.82 97.15 342.36 97.89 339.57C98.63 336.77 100.56 331.91 101.09 330.38Z" fill="#ff8800"/>
<path d="M98.30 328.50C97.77 330.23 95.85 335.83 95.10 338.90C94.35 341.97 94.18 344.48 93.80 346.90C93.42 349.32 93.10 351.25 92.80 353.40C92.50 355.55 92.08 357.67 92.00 359.80C91.92 361.93 91.88 364.05 92.30 366.20C92.72 368.35 93.63 370.77 94.50 372.70C95.37 374.63 97.00 376.95 97.50 377.80L99.60 378.20C99.11 377.26 97.49 374.58 96.67 372.57C95.84 370.56 95.02 368.25 94.63 366.13C94.24 364.02 94.26 361.97 94.33 359.87C94.41 357.77 94.78 355.66 95.07 353.53C95.36 351.41 95.69 349.45 96.07 347.10C96.44 344.75 96.59 342.28 97.33 339.43C98.08 336.58 100.00 331.57 100.53 330.00Z" fill="#ff5500"/>
<path d="M98.30 328.50C97.77 330.23 95.85 335.83 95.10 338.90C94.35 341.97 94.18 344.48 93.80 346.90C93.42 349.32 93.10 351.25 92.80 353.40C92.50 355.55 92.08 357.67 92.00 359.80C91.92 361.93 91.88 364.05 92.30 366.20C92.72 368.35 93.63 370.77 94.50 372.70C95.37 374.63 97.00 376.95 97.50 377.80L99.08 378.10C98.58 377.18 96.96 374.59 96.12 372.60C95.29 370.61 94.45 368.27 94.05 366.15C93.65 364.02 93.67 361.96 93.75 359.85C93.83 357.74 94.21 355.63 94.50 353.50C94.79 351.37 95.12 349.42 95.50 347.05C95.88 344.68 96.03 342.20 96.77 339.30C97.52 336.40 99.44 331.24 99.97 329.62Z" fill="#ff2100"/>
<path d="M98.30 328.50C97.77 330.23 95.85 335.83 95.10 338.90C94.35 341.97 94.18 344.48 93.80 346.90C93.42 349.32 93.10 351.25 92.80 353.40C92.50 355.55 92.08 357.67 92.00 359.80C91.92 361.93 91.88 364.05 92.30 366.20C92.72 368.35 93.63 370.77 94.50 372.70C95.37 374.63 97.00 376.95 97.50 377.80L98.55 378.00C98.06 377.11 96.43 374.61 95.58 372.63C94.74 370.66 93.87 368.30 93.47 366.17C93.06 364.03 93.09 361.95 93.17 359.83C93.24 357.72 93.64 355.61 93.93 353.47C94.23 351.33 94.55 349.38 94.93 347.00C95.31 344.62 95.47 342.12 96.22 339.17C96.96 336.21 98.88 330.90 99.42 329.25Z" fill="#ec0000"/>
<path d="M98.30 328.50C97.77 330.23 95.85 335.83 95.10 338.90C94.35 341.97 94.18 344.48 93.80 346.90C93.42 349.32 93.10 351.25 92.80 353.40C92.50 355.55 92.08 357.67 92.00 359.80C91.92 361.93 91.88 364.05 92.30 366.20C92.72 368.35 93.63 370.77 94.50 372.70C95.37 374.63 97.00 376.95 97.50 377.80L98.03 377.90C97.53 377.03 95.90 374.62 95.04 372.67C94.18 370.71 93.29 368.32 92.88 366.18C92.47 364.04 92.50 361.94 92.58 359.82C92.66 357.69 93.07 355.58 93.37 353.43C93.66 351.29 93.98 349.35 94.37 346.95C94.75 344.55 94.91 342.05 95.66 339.03C96.41 336.02 98.32 330.57 98.86 328.88Z" fill="#b80000"/>
</g>
<g fill="none">
<path d="M68.80 384.30C69.43 383.95 70.72 383.18 72.60 382.20C74.48 381.22 77.58 379.38 80.10 378.40C82.62 377.42 85.40 376.78 87.70 376.30C90.00 375.82 91.82 375.47 93.90 375.50C95.98 375.53 98.32 376.02 100.20 376.50C102.08 376.98 104.37 378.08 105.20 378.40" transform="translate(0,-0.10)" stroke="#80ff80" stroke-width="1.00"/>
<path d="M68.80 384.30C69.43 383.95 70.72 383.18 72.60 382.20C74.48 381.22 77.58 379.38 80.10 378.40C82.62 377.42 85.40 376.78 87.70 376.30C90.00 375.82 91.82 375.47 93.90 375.50C95.98 375.53 98.32 376.02 100.20 376.50C102.08 376.98 104.37 378.08 105.20 378.40" transform="translate(0,-0.50)" stroke="#ffe500" stroke-width="1.00"/>
<path d="M68.80 384.30C69.43 383.95 70.72 383.18 72.60 382.20C74.48 381.22 77.58 379.38 80.10 378.40C82.62 377.42 85.40 376.78 87.70 376.30C90.00 375.82 91.82 375.47 93.90 375.50C95.98 375.53 98.32 376.02 100.20 376.50C102.08 376.98 104.37 378.08 105.20 378.40" transform="translate(0,-0.90)" stroke="#ff4c00" stroke-width="1.00"/>
<path d="M68.80 384.30C69.43 383.95 70.72 383.18 72.60 382.20C74.48 381.22 77.58 379.38 80.10 378.40C82.62 377.42 85.40 376.78 87.70 376.30C90.00 375.82 91.82 375.47 93.90 375.50C95.98 375.53 98.32 376.02 100.20 376.50C102.08 376.98 104.37 378.08 105.20 378.40" transform="translate(0,-1.20)" stroke="#e50000" stroke-width="1.00"/>
</g>
<g fill="none">
<path d="M105.20 378.40C106.05 378.72 109.03 379.88 110.30 380.30C111.57 380.72 112.38 380.80 112.80 380.90" transform="translate(0,-0.10)" stroke="#0080ff" stroke-width="1.00"/>
<path d="M105.20 378.40C106.05 378.72 109.03 379.88 110.30 380.30C111.57 380.72 112.38 380.80 112.80 380.90" transform="translate(0,-0.60)" stroke="#00e5ff" stroke-width="1.00"/>
</g>
<path d="M56.50 337.30C57.03 336.23 58.70 333.28 59.70 330.90C60.70 328.52 61.65 326.55 62.50 323.00C63.35 319.45 64.13 313.32 64.80 309.60C65.47 305.88 65.88 303.67 66.50 300.70C67.12 297.73 67.85 294.53 68.50 291.80C69.15 289.07 69.78 286.78 70.40 284.30C71.02 281.82 71.53 279.13 72.20 276.90C72.87 274.67 73.80 272.33 74.40 270.90C75.00 269.47 75.30 268.92 75.80 268.30C76.30 267.68 77.13 267.38 77.40 267.20L77.40 267.20C77.67 267.38 78.50 267.68 79.00 268.30C79.50 268.92 79.80 269.47 80.40 270.90C81.00 272.33 81.90 274.67 82.60 276.90C83.30 279.13 83.98 281.82 84.60 284.30C85.22 286.78 85.68 289.07 86.30 291.80C86.92 294.53 87.62 297.73 88.30 300.70C88.98 303.67 89.62 305.88 90.40 309.60C91.18 313.32 92.08 319.45 93.00 323.00C93.92 326.55 95.13 329.48 95.90 330.90C96.67 332.32 97.32 331.40 97.60 331.50L97.60 331.50L95.10 338.90L95.10 338.90C94.92 340.23 94.13 344.48 94.00 346.90C93.87 349.32 93.98 351.25 94.30 353.40C94.62 355.55 95.23 357.67 95.90 359.80C96.57 361.93 97.37 364.05 98.30 366.20C99.23 368.35 100.42 370.77 101.50 372.70C102.58 374.63 104.25 376.95 104.80 377.80L104.80 377.80C104.03 377.40 102.02 375.98 100.20 375.40C98.38 374.82 95.98 374.35 93.90 374.30C91.82 374.25 90.00 374.62 87.70 375.10C85.40 375.58 82.62 376.22 80.10 377.20C77.58 378.18 74.12 380.15 72.60 381.00C71.08 381.85 71.27 382.08 71.00 382.30L71.00 382.30C71.17 381.93 71.52 382.55 72.00 380.10C72.48 377.65 73.38 371.28 73.90 367.60C74.42 363.92 74.62 360.90 75.10 358.00C75.58 355.10 76.52 351.50 76.80 350.20L76.80 350.20C75.70 350.07 72.37 349.73 70.20 349.40C68.03 349.07 65.82 348.75 63.80 348.20C61.78 347.65 59.45 347.12 58.10 346.10C56.75 345.08 55.80 343.87 55.70 342.10C55.60 340.33 57.20 336.60 57.50 335.50L57.50 335.50L56.50 337.30Z" fill="#800000"/>
<g stroke="#3a3a3a" stroke-width="0.7" fill="none">
<path d="M243.50 356.20L300.30 393.90L374.30 366.20"/>
<path d="M243.50 356.20L243.50 277.00"/>
<path d="M243.50 280.00h-2"/>
<path d="M243.50 318.00h-2"/>
<path d="M243.50 356.20h-2"/>
<path d="M243.50 356.20l-1.8 1.4"/>
<path d="M300.30 393.90l0.6 1.3"/>
<path d="M374.30 366.20l1.6 0.3"/>
</g>
<text transform="translate(237.30,283.90) scale(1.08,1)" font-size="18.3" text-anchor="end" stroke="#000" stroke-width="0.2">20</text>
<text transform="translate(237.30,323.00) scale(1.08,1)" font-size="18.3" text-anchor="end" stroke="#000" stroke-width="0.2">10</text>
<text transform="translate(237.30,360.00) scale(1.08,1)" font-size="18.3" text-anchor="end" stroke="#000" stroke-width="0.2">0</text>
<text transform="translate(236.10,376.60) scale(1.08,1)" font-size="18.3" text-anchor="end" stroke="#000" stroke-width="0.2">1</text>
<text transform="translate(245.70,405.20) scale(1.18,1)" font-size="19" font-style="italic" stroke="#000" stroke-width="0.15">y</text>
<text transform="translate(254.40,408.70) scale(1.08,1)" font-size="15" stroke="#000" stroke-width="0.2">2</text>
<text transform="translate(306.30,415.30) scale(1.08,1)" font-size="18.3" text-anchor="start" stroke="#000" stroke-width="0.2">0</text>
<text transform="translate(342.80,407.00) scale(1.18,1)" font-size="19" font-style="italic" stroke="#000" stroke-width="0.15">y</text>
<text transform="translate(350.90,410.50) scale(1.08,1)" font-size="15" stroke="#000" stroke-width="0.2">1</text>
<text transform="translate(381.00,386.40) scale(1.08,1)" font-size="18.3" text-anchor="start" stroke="#000" stroke-width="0.2">1</text>
<clipPath id="ce"><path d="M243.50 356.20C247.08 354.83 259.27 350.23 265.00 348.00C270.73 345.77 274.68 344.18 277.90 342.80C281.12 341.42 282.57 340.75 284.30 339.70C286.03 338.65 287.10 338.52 288.30 336.50C289.50 334.48 290.97 329.08 291.50 327.60L291.50 327.60L317.30 328.60L317.30 328.60L374.30 366.20L374.30 366.20L326.50 382.20L326.50 382.20C325.87 382.00 324.37 381.52 322.70 381.00C321.03 380.48 318.58 379.22 316.50 379.10C314.42 378.98 312.72 379.57 310.20 380.30C307.68 381.03 304.33 382.35 301.40 383.50C298.47 384.65 294.07 386.58 292.60 387.20L292.60 387.20L243.50 356.20Z"/></clipPath>
<path d="M243.50 356.20C247.08 354.83 259.27 350.23 265.00 348.00C270.73 345.77 274.68 344.18 277.90 342.80C281.12 341.42 282.57 340.75 284.30 339.70C286.03 338.65 287.10 338.52 288.30 336.50C289.50 334.48 290.97 329.08 291.50 327.60L291.50 327.60L317.30 328.60L317.30 328.60L374.30 366.20L374.30 366.20L326.50 382.20L326.50 382.20C325.87 382.00 324.37 381.52 322.70 381.00C321.03 380.48 318.58 379.22 316.50 379.10C314.42 378.98 312.72 379.57 310.20 380.30C307.68 381.03 304.33 382.35 301.40 383.50C298.47 384.65 294.07 386.58 292.60 387.20L292.60 387.20L243.50 356.20Z" fill="#00008f"/>
<g fill="none" stroke-linejoin="round" stroke-linecap="round" clip-path="url(#ce)" >
<path d="M306.00 342.10C306.40 342.23 307.20 342.23 308.40 342.90C309.60 343.57 311.58 345.30 313.20 346.10C314.82 346.90 316.62 347.83 318.10 347.70C319.58 347.57 320.90 346.37 322.10 345.30C323.30 344.23 324.85 342.90 325.30 341.30C325.75 339.70 325.07 337.30 324.80 335.70C324.53 334.10 323.75 332.65 323.70 331.70C323.65 330.75 324.37 330.28 324.50 330.00" stroke="#00008a" stroke-width="47.50"/>
<path d="M319.00 346.00C318.87 346.75 318.48 348.75 318.20 350.50C317.92 352.25 317.62 354.50 317.30 356.50C316.98 358.50 316.42 360.50 316.30 362.50C316.18 364.50 316.23 366.67 316.60 368.50C316.97 370.33 317.68 371.92 318.50 373.50C319.32 375.08 320.50 376.75 321.50 378.00C322.50 379.25 324.00 380.50 324.50 381.00" stroke="#00008a" stroke-width="38.00"/>
<path d="M306.00 342.10C306.40 342.23 307.20 342.23 308.40 342.90C309.60 343.57 311.58 345.30 313.20 346.10C314.82 346.90 316.62 347.83 318.10 347.70C319.58 347.57 320.90 346.37 322.10 345.30C323.30 344.23 324.85 342.90 325.30 341.30C325.75 339.70 325.07 337.30 324.80 335.70C324.53 334.10 323.75 332.65 323.70 331.70C323.65 330.75 324.37 330.28 324.50 330.00" stroke="#000097" stroke-width="32.04"/>
<path d="M319.00 346.00C318.87 346.75 318.48 348.75 318.20 350.50C317.92 352.25 317.62 354.50 317.30 356.50C316.98 358.50 316.42 360.50 316.30 362.50C316.18 364.50 316.23 366.67 316.60 368.50C316.97 370.33 317.68 371.92 318.50 373.50C319.32 375.08 320.50 376.75 321.50 378.00C322.50 379.25 324.00 380.50 324.50 381.00" stroke="#000097" stroke-width="25.63"/>
<path d="M306.00 342.10C306.40 342.23 307.20 342.23 308.40 342.90C309.60 343.57 311.58 345.30 313.20 346.10C314.82 346.90 316.62 347.83 318.10 347.70C319.58 347.57 320.90 346.37 322.10 345.30C323.30 344.23 324.85 342.90 325.30 341.30C325.75 339.70 325.07 337.30 324.80 335.70C324.53 334.10 323.75 332.65 323.70 331.70C323.65 330.75 324.37 330.28 324.50 330.00" stroke="#0000a4" stroke-width="23.35"/>
<path d="M319.00 346.00C318.87 346.75 318.48 348.75 318.20 350.50C317.92 352.25 317.62 354.50 317.30 356.50C316.98 358.50 316.42 360.50 316.30 362.50C316.18 364.50 316.23 366.67 316.60 368.50C316.97 370.33 317.68 371.92 318.50 373.50C319.32 375.08 320.50 376.75 321.50 378.00C322.50 379.25 324.00 380.50 324.50 381.00" stroke="#0000a4" stroke-width="18.68"/>
<path d="M306.00 342.10C306.40 342.23 307.20 342.23 308.40 342.90C309.60 343.57 311.58 345.30 313.20 346.10C314.82 346.90 316.62 347.83 318.10 347.70C319.58 347.57 320.90 346.37 322.10 345.30C323.30 344.23 324.85 342.90 325.30 341.30C325.75 339.70 325.07 337.30 324.80 335.70C324.53 334.10 323.75 332.65 323.70 331.70C323.65 330.75 324.37 330.28 324.50 330.00" stroke="#0000b1" stroke-width="17.15"/>
<path d="M319.00 346.00C318.87 346.75 318.48 348.75 318.20 350.50C317.92 352.25 317.62 354.50 317.30 356.50C316.98 358.50 316.42 360.50 316.30 362.50C316.18 364.50 316.23 366.67 316.60 368.50C316.97 370.33 317.68 371.92 318.50 373.50C319.32 375.08 320.50 376.75 321.50 378.00C322.50 379.25 324.00 380.50 324.50 381.00" stroke="#0000b1" stroke-width="13.72"/>
<path d="M306.00 342.10C306.40 342.23 307.20 342.23 308.40 342.90C309.60 343.57 311.58 345.30 313.20 346.10C314.82 346.90 316.62 347.83 318.10 347.70C319.58 347.57 320.90 346.37 322.10 345.30C323.30 344.23 324.85 342.90 325.30 341.30C325.75 339.70 325.07 337.30 324.80 335.70C324.53 334.10 323.75 332.65 323.70 331.70C323.65 330.75 324.37 330.28 324.50 330.00" stroke="#0000be" stroke-width="12.25"/>
<path d="M319.00 346.00C318.87 346.75 318.48 348.75 318.20 350.50C317.92 352.25 317.62 354.50 317.30 356.50C316.98 358.50 316.42 360.50 316.30 362.50C316.18 364.50 316.23 366.67 316.60 368.50C316.97 370.33 317.68 371.92 318.50 373.50C319.32 375.08 320.50 376.75 321.50 378.00C322.50 379.25 324.00 380.50 324.50 381.00" stroke="#0000be" stroke-width="9.80"/>
<path d="M306.00 342.10C306.40 342.23 307.20 342.23 308.40 342.90C309.60 343.57 311.58 345.30 313.20 346.10C314.82 346.90 316.62 347.83 318.10 347.70C319.58 347.57 320.90 346.37 322.10 345.30C323.30 344.23 324.85 342.90 325.30 341.30C325.75 339.70 325.07 337.30 324.80 335.70C324.53 334.10 323.75 332.65 323.70 331.70C323.65 330.75 324.37 330.28 324.50 330.00" stroke="#0000cb" stroke-width="8.11"/>
<path d="M319.00 346.00C318.87 346.75 318.48 348.75 318.20 350.50C317.92 352.25 317.62 354.50 317.30 356.50C316.98 358.50 316.42 360.50 316.30 362.50C316.18 364.50 316.23 366.67 316.60 368.50C316.97 370.33 317.68 371.92 318.50 373.50C319.32 375.08 320.50 376.75 321.50 378.00C322.50 379.25 324.00 380.50 324.50 381.00" stroke="#0000cb" stroke-width="6.49"/>
<path d="M306.00 342.10C306.40 342.23 307.20 342.23 308.40 342.90C309.60 343.57 311.58 345.30 313.20 346.10C314.82 346.90 316.62 347.83 318.10 347.70C319.58 347.57 320.90 346.37 322.10 345.30C323.30 344.23 324.85 342.90 325.30 341.30C325.75 339.70 325.07 337.30 324.80 335.70C324.53 334.10 323.75 332.65 323.70 331.70C323.65 330.75 324.37 330.28 324.50 330.00" stroke="#0000d8" stroke-width="4.44"/>
<path d="M319.00 346.00C318.87 346.75 318.48 348.75 318.20 350.50C317.92 352.25 317.62 354.50 317.30 356.50C316.98 358.50 316.42 360.50 316.30 362.50C316.18 364.50 316.23 366.67 316.60 368.50C316.97 370.33 317.68 371.92 318.50 373.50C319.32 375.08 320.50 376.75 321.50 378.00C322.50 379.25 324.00 380.50 324.50 381.00" stroke="#0000d8" stroke-width="3.55"/>
<path d="M306.00 342.10C306.40 342.23 307.20 342.23 308.40 342.90C309.60 343.57 311.58 345.30 313.20 346.10C314.82 346.90 316.62 347.83 318.10 347.70C319.58 347.57 320.90 346.37 322.10 345.30C323.30 344.23 324.85 342.90 325.30 341.30C325.75 339.70 325.07 337.30 324.80 335.70C324.53 334.10 323.75 332.65 323.70 331.70C323.65 330.75 324.37 330.28 324.50 330.00" stroke="#0000e6" stroke-width="0.94"/>
<path d="M319.00 346.00C318.87 346.75 318.48 348.75 318.20 350.50C317.92 352.25 317.62 354.50 317.30 356.50C316.98 358.50 316.42 360.50 316.30 362.50C316.18 364.50 316.23 366.67 316.60 368.50C316.97 370.33 317.68 371.92 318.50 373.50C319.32 375.08 320.50 376.75 321.50 378.00C322.50 379.25 324.00 380.50 324.50 381.00" stroke="#0000e6" stroke-width="0.76"/>
</g>
<g clip-path="url(#ce)">
<path d="M285.10 338.50C285.42 339.23 285.85 341.87 287.00 342.90C288.15 343.93 290.13 344.27 292.00 344.70C293.87 345.13 297.17 345.37 298.20 345.50L298.20 350.50C297.00 350.33 293.45 350.17 291.00 349.50C288.55 348.83 285.33 348.00 283.50 346.50C281.67 345.00 280.58 341.50 280.00 340.50Z" fill="#00008c"/>
<path d="M285.10 338.50C285.42 339.23 285.85 341.87 287.00 342.90C288.15 343.93 290.13 344.27 292.00 344.70C293.87 345.13 297.17 345.37 298.20 345.50L298.20 349.88C297.02 349.71 293.50 349.54 291.12 348.90C288.75 348.26 285.69 347.49 283.94 346.05C282.19 344.61 281.19 341.22 280.64 340.25Z" fill="#0000a7"/>
<path d="M285.10 338.50C285.42 339.23 285.85 341.87 287.00 342.90C288.15 343.93 290.13 344.27 292.00 344.70C293.87 345.13 297.17 345.37 298.20 345.50L298.20 349.25C297.04 349.09 293.55 348.91 291.25 348.30C288.95 347.69 286.04 346.98 284.38 345.60C282.71 344.22 281.79 340.93 281.27 340.00Z" fill="#0000c3"/>
<path d="M285.10 338.50C285.42 339.23 285.85 341.87 287.00 342.90C288.15 343.93 290.13 344.27 292.00 344.70C293.87 345.13 297.17 345.37 298.20 345.50L298.20 348.62C297.06 348.47 293.61 348.28 291.38 347.70C289.14 347.12 286.39 346.47 284.81 345.15C283.24 343.82 282.40 340.65 281.91 339.75Z" fill="#0000e2"/>
<path d="M285.10 338.50C285.42 339.23 285.85 341.87 287.00 342.90C288.15 343.93 290.13 344.27 292.00 344.70C293.87 345.13 297.17 345.37 298.20 345.50L298.20 348.00C297.08 347.85 293.66 347.65 291.50 347.10C289.34 346.55 286.74 345.97 285.25 344.70C283.76 343.43 283.00 340.37 282.55 339.50Z" fill="#0004ff"/>
<path d="M285.10 338.50C285.42 339.23 285.85 341.87 287.00 342.90C288.15 343.93 290.13 344.27 292.00 344.70C293.87 345.13 297.17 345.37 298.20 345.50L298.20 347.38C297.10 347.23 293.71 347.02 291.62 346.50C289.54 345.98 287.09 345.46 285.69 344.25C284.28 343.04 283.60 340.08 283.19 339.25Z" fill="#002aff"/>
<path d="M285.10 338.50C285.42 339.23 285.85 341.87 287.00 342.90C288.15 343.93 290.13 344.27 292.00 344.70C293.87 345.13 297.17 345.37 298.20 345.50L298.20 346.75C297.12 346.61 293.76 346.39 291.75 345.90C289.74 345.41 287.45 344.95 286.12 343.80C284.80 342.65 284.21 339.80 283.83 339.00Z" fill="#0056ff"/>
<path d="M285.10 338.50C285.42 339.23 285.85 341.87 287.00 342.90C288.15 343.93 290.13 344.27 292.00 344.70C293.87 345.13 297.17 345.37 298.20 345.50L298.20 346.12C297.15 345.99 293.81 345.76 291.88 345.30C289.94 344.84 287.80 344.44 286.56 343.35C285.33 342.26 284.81 339.52 284.46 338.75Z" fill="#0091ff"/>
</g>
<g clip-path="url(#ce)">
<path d="M289.60 334.50C289.52 335.10 288.65 337.23 289.10 338.10C289.55 338.97 290.78 339.30 292.30 339.70C293.82 340.10 297.22 340.37 298.20 340.50L298.20 345.50C297.17 345.37 293.87 345.13 292.00 344.70C290.13 344.27 288.15 343.93 287.00 342.90C285.85 341.87 285.42 339.23 285.10 338.50Z" fill="#10ffef"/>
<path d="M289.60 334.50C289.52 335.10 288.65 337.23 289.10 338.10C289.55 338.97 290.78 339.30 292.30 339.70C293.82 340.10 297.22 340.37 298.20 340.50L298.20 345.00C297.17 344.87 293.86 344.63 292.03 344.20C290.20 343.77 288.29 343.44 287.21 342.42C286.13 341.40 285.83 338.82 285.55 338.10Z" fill="#4effb1"/>
<path d="M289.60 334.50C289.52 335.10 288.65 337.23 289.10 338.10C289.55 338.97 290.78 339.30 292.30 339.70C293.82 340.10 297.22 340.37 298.20 340.50L298.20 344.50C297.18 344.37 293.86 344.13 292.06 343.70C290.26 343.27 288.43 342.94 287.42 341.94C286.41 340.94 286.24 338.41 286.00 337.70Z" fill="#8cff73"/>
<path d="M289.60 334.50C289.52 335.10 288.65 337.23 289.10 338.10C289.55 338.97 290.78 339.30 292.30 339.70C293.82 340.10 297.22 340.37 298.20 340.50L298.20 344.00C297.18 343.87 293.85 343.62 292.09 343.20C290.33 342.78 288.57 342.44 287.63 341.46C286.69 340.48 286.65 337.99 286.45 337.30Z" fill="#caff35"/>
<path d="M289.60 334.50C289.52 335.10 288.65 337.23 289.10 338.10C289.55 338.97 290.78 339.30 292.30 339.70C293.82 340.10 297.22 340.37 298.20 340.50L298.20 343.50C297.19 343.37 293.85 343.12 292.12 342.70C290.39 342.28 288.71 341.95 287.84 340.98C286.97 340.01 287.06 337.58 286.90 336.90Z" fill="#fff500"/>
<path d="M289.60 334.50C289.52 335.10 288.65 337.23 289.10 338.10C289.55 338.97 290.78 339.30 292.30 339.70C293.82 340.10 297.22 340.37 298.20 340.50L298.20 343.00C297.19 342.87 293.84 342.62 292.15 342.20C290.46 341.78 288.85 341.45 288.05 340.50C287.25 339.55 287.47 337.17 287.35 336.50Z" fill="#ffb700"/>
<path d="M289.60 334.50C289.52 335.10 288.65 337.23 289.10 338.10C289.55 338.97 290.78 339.30 292.30 339.70C293.82 340.10 297.22 340.37 298.20 340.50L298.20 342.50C297.20 342.37 293.84 342.11 292.18 341.70C290.52 341.29 288.99 340.95 288.26 340.02C287.53 339.09 287.88 336.75 287.80 336.10Z" fill="#ff7900"/>
<path d="M289.60 334.50C289.52 335.10 288.65 337.23 289.10 338.10C289.55 338.97 290.78 339.30 292.30 339.70C293.82 340.10 297.22 340.37 298.20 340.50L298.20 342.00C297.20 341.87 293.83 341.61 292.21 341.20C290.59 340.79 289.13 340.46 288.47 339.54C287.81 338.62 288.29 336.34 288.25 335.70Z" fill="#ff3b00"/>
<path d="M289.60 334.50C289.52 335.10 288.65 337.23 289.10 338.10C289.55 338.97 290.78 339.30 292.30 339.70C293.82 340.10 297.22 340.37 298.20 340.50L298.20 341.50C297.21 341.37 293.83 341.11 292.24 340.70C290.65 340.29 289.27 339.96 288.68 339.06C288.09 338.16 288.70 335.93 288.70 335.30Z" fill="#fb0000"/>
<path d="M289.60 334.50C289.52 335.10 288.65 337.23 289.10 338.10C289.55 338.97 290.78 339.30 292.30 339.70C293.82 340.10 297.22 340.37 298.20 340.50L298.20 341.00C297.21 340.87 293.82 340.60 292.27 340.20C290.72 339.80 289.41 339.46 288.89 338.58C288.37 337.70 289.11 335.51 289.15 334.90Z" fill="#bd0000"/>
</g>
<g fill="none" stroke-linejoin="round" stroke-linecap="round" clip-path="url(#ce)" >
<path d="M306.00 342.10C306.40 342.23 307.20 342.23 308.40 342.90C309.60 343.57 311.58 345.30 313.20 346.10C314.82 346.90 316.62 347.83 318.10 347.70C319.58 347.57 320.90 346.37 322.10 345.30C323.30 344.23 324.85 342.90 325.30 341.30C325.75 339.70 325.07 337.30 324.80 335.70C324.53 334.10 323.75 332.65 323.70 331.70C323.65 330.75 324.37 330.28 324.50 330.00" stroke="#0000bd" stroke-width="12.60"/>
<path d="M319.00 346.00C318.87 346.75 318.48 348.75 318.20 350.50C317.92 352.25 317.62 354.50 317.30 356.50C316.98 358.50 316.42 360.50 316.30 362.50C316.18 364.50 316.23 366.67 316.60 368.50C316.97 370.33 317.68 371.92 318.50 373.50C319.32 375.08 320.50 376.75 321.50 378.00C322.50 379.25 324.00 380.50 324.50 381.00" stroke="#0000bd" stroke-width="21.00"/>
<path d="M319.00 346.00C318.87 346.75 318.48 348.75 318.20 350.50C317.92 352.25 317.45 355.50 317.30 356.50" stroke="#0000bd" stroke-width="21.00"/>
<path d="M306.00 342.10C306.40 342.23 307.20 342.23 308.40 342.90C309.60 343.57 311.58 345.30 313.20 346.10C314.82 346.90 316.62 347.83 318.10 347.70C319.58 347.57 320.90 346.37 322.10 345.30C323.30 344.23 324.85 342.90 325.30 341.30C325.75 339.70 325.07 337.30 324.80 335.70C324.53 334.10 323.75 332.65 323.70 331.70C323.65 330.75 324.37 330.28 324.50 330.00" stroke="#0000ef" stroke-width="12.43"/>
<path d="M319.00 346.00C318.87 346.75 318.48 348.75 318.20 350.50C317.92 352.25 317.62 354.50 317.30 356.50C316.98 358.50 316.42 360.50 316.30 362.50C316.18 364.50 316.23 366.67 316.60 368.50C316.97 370.33 317.68 371.92 318.50 373.50C319.32 375.08 320.50 376.75 321.50 378.00C322.50 379.25 324.00 380.50 324.50 381.00" stroke="#0000ef" stroke-width="20.71"/>
<path d="M319.00 346.00C318.87 346.75 318.48 348.75 318.20 350.50C317.92 352.25 317.45 355.50 317.30 356.50" stroke="#0000ef" stroke-width="20.71"/>
<path d="M306.00 342.10C306.40 342.23 307.20 342.23 308.40 342.90C309.60 343.57 311.58 345.30 313.20 346.10C314.82 346.90 316.62 347.83 318.10 347.70C319.58 347.57 320.90 346.37 322.10 345.30C323.30 344.23 324.85 342.90 325.30 341.30C325.75 339.70 325.07 337.30 324.80 335.70C324.53 334.10 323.75 332.65 323.70 331.70C323.65 330.75 324.37 330.28 324.50 330.00" stroke="#0022ff" stroke-width="12.11"/>
<path d="M319.00 346.00C318.87 346.75 318.48 348.75 318.20 350.50C317.92 352.25 317.62 354.50 317.30 356.50C316.98 358.50 316.42 360.50 316.30 362.50C316.18 364.50 316.23 366.67 316.60 368.50C316.97 370.33 317.68 371.92 318.50 373.50C319.32 375.08 320.50 376.75 321.50 378.00C322.50 379.25 324.00 380.50 324.50 381.00" stroke="#0022ff" stroke-width="20.18"/>
<path d="M319.00 346.00C318.87 346.75 318.48 348.75 318.20 350.50C317.92 352.25 317.45 355.50 317.30 356.50" stroke="#0022ff" stroke-width="20.18"/>
<path d="M306.00 342.10C306.40 342.23 307.20 342.23 308.40 342.90C309.60 343.57 311.58 345.30 313.20 346.10C314.82 346.90 316.62 347.83 318.10 347.70C319.58 347.57 320.90 346.37 322.10 345.30C323.30 344.23 324.85 342.90 325.30 341.30C325.75 339.70 325.07 337.30 324.80 335.70C324.53 334.10 323.75 332.65 323.70 331.70C323.65 330.75 324.37 330.28 324.50 330.00" stroke="#0055ff" stroke-width="11.69"/>
<path d="M319.00 346.00C318.87 346.75 318.48 348.75 318.20 350.50C317.92 352.25 317.62 354.50 317.30 356.50C316.98 358.50 316.42 360.50 316.30 362.50C316.18 364.50 316.23 366.67 316.60 368.50C316.97 370.33 317.68 371.92 318.50 373.50C319.32 375.08 320.50 376.75 321.50 378.00C322.50 379.25 324.00 380.50 324.50 381.00" stroke="#0055ff" stroke-width="19.49"/>
<path d="M319.00 346.00C318.87 346.75 318.48 348.75 318.20 350.50C317.92 352.25 317.45 355.50 317.30 356.50" stroke="#0055ff" stroke-width="19.49"/>
<path d="M306.00 342.10C306.40 342.23 307.20 342.23 308.40 342.90C309.60 343.57 311.58 345.30 313.20 346.10C314.82 346.90 316.62 347.83 318.10 347.70C319.58 347.57 320.90 346.37 322.10 345.30C323.30 344.23 324.85 342.90 325.30 341.30C325.75 339.70 325.07 337.30 324.80 335.70C324.53 334.10 323.75 332.65 323.70 331.70C323.65 330.75 324.37 330.28 324.50 330.00" stroke="#0087ff" stroke-width="11.21"/>
<path d="M319.00 346.00C318.87 346.75 318.48 348.75 318.20 350.50C317.92 352.25 317.62 354.50 317.30 356.50C316.98 358.50 316.42 360.50 316.30 362.50C316.18 364.50 316.23 366.67 316.60 368.50C316.97 370.33 317.68 371.92 318.50 373.50C319.32 375.08 320.50 376.75 321.50 378.00C322.50 379.25 324.00 380.50 324.50 381.00" stroke="#0087ff" stroke-width="18.68"/>
<path d="M319.00 346.00C318.87 346.75 318.48 348.75 318.20 350.50C317.92 352.25 317.45 355.50 317.30 356.50" stroke="#0087ff" stroke-width="18.68"/>
<path d="M306.00 342.10C306.40 342.23 307.20 342.23 308.40 342.90C309.60 343.57 311.58 345.30 313.20 346.10C314.82 346.90 316.62 347.83 318.10 347.70C319.58 347.57 320.90 346.37 322.10 345.30C323.30 344.23 324.85 342.90 325.30 341.30C325.75 339.70 325.07 337.30 324.80 335.70C324.53 334.10 323.75 332.65 323.70 331.70C323.65 330.75 324.37 330.28 324.50 330.00" stroke="#00baff" stroke-width="10.65"/>
<path d="M319.00 346.00C318.87 346.75 318.48 348.75 318.20 350.50C317.92 352.25 317.62 354.50 317.30 356.50C316.98 358.50 316.42 360.50 316.30 362.50C316.18 364.50 316.23 366.67 316.60 368.50C316.97 370.33 317.68 371.92 318.50 373.50C319.32 375.08 320.50 376.75 321.50 378.00C322.50 379.25 324.00 380.50 324.50 381.00" stroke="#00baff" stroke-width="17.75"/>
<path d="M319.00 346.00C318.87 346.75 318.48 348.75 318.20 350.50C317.92 352.25 317.45 355.50 317.30 356.50" stroke="#00baff" stroke-width="17.75"/>
<path d="M306.00 342.10C306.40 342.23 307.20 342.23 308.40 342.90C309.60 343.57 311.58 345.30 313.20 346.10C314.82 346.90 316.62 347.83 318.10 347.70C319.58 347.57 320.90 346.37 322.10 345.30C323.30 344.23 324.85 342.90 325.30 341.30C325.75 339.70 325.07 337.30 324.80 335.70C324.53 334.10 323.75 332.65 323.70 331.70C323.65 330.75 324.37 330.28 324.50 330.00" stroke="#00ecff" stroke-width="10.04"/>
<path d="M319.00 346.00C318.87 346.75 318.48 348.75 318.20 350.50C317.92 352.25 317.62 354.50 317.30 356.50C316.98 358.50 316.42 360.50 316.30 362.50C316.18 364.50 316.23 366.67 316.60 368.50C316.97 370.33 317.68 371.92 318.50 373.50C319.32 375.08 320.50 376.75 321.50 378.00C322.50 379.25 324.00 380.50 324.50 381.00" stroke="#00ecff" stroke-width="16.73"/>
<path d="M319.00 346.00C318.87 346.75 318.48 348.75 318.20 350.50C317.92 352.25 317.45 355.50 317.30 356.50" stroke="#00ecff" stroke-width="16.73"/>
<path d="M306.00 342.10C306.40 342.23 307.20 342.23 308.40 342.90C309.60 343.57 311.58 345.30 313.20 346.10C314.82 346.90 316.62 347.83 318.10 347.70C319.58 347.57 320.90 346.37 322.10 345.30C323.30 344.23 324.85 342.90 325.30 341.30C325.75 339.70 325.07 337.30 324.80 335.70C324.53 334.10 323.75 332.65 323.70 331.70C323.65 330.75 324.37 330.28 324.50 330.00" stroke="#20ffdf" stroke-width="9.37"/>
<path d="M319.00 346.00C318.87 346.75 318.48 348.75 318.20 350.50C317.92 352.25 317.62 354.50 317.30 356.50C316.98 358.50 316.42 360.50 316.30 362.50C316.18 364.50 316.23 366.67 316.60 368.50C316.97 370.33 317.68 371.92 318.50 373.50C319.32 375.08 320.50 376.75 321.50 378.00C322.50 379.25 324.00 380.50 324.50 381.00" stroke="#20ffdf" stroke-width="15.62"/>
<path d="M319.00 346.00C318.87 346.75 318.48 348.75 318.20 350.50C317.92 352.25 317.45 355.50 317.30 356.50" stroke="#20ffdf" stroke-width="15.62"/>
<path d="M306.00 342.10C306.40 342.23 307.20 342.23 308.40 342.90C309.60 343.57 311.58 345.30 313.20 346.10C314.82 346.90 316.62 347.83 318.10 347.70C319.58 347.57 320.90 346.37 322.10 345.30C323.30 344.23 324.85 342.90 325.30 341.30C325.75 339.70 325.07 337.30 324.80 335.70C324.53 334.10 323.75 332.65 323.70 331.70C323.65 330.75 324.37 330.28 324.50 330.00" stroke="#52ffad" stroke-width="8.65"/>
<path d="M319.00 346.00C318.87 346.75 318.48 348.75 318.20 350.50C317.92 352.25 317.62 354.50 317.30 356.50C316.98 358.50 316.42 360.50 316.30 362.50C316.18 364.50 316.23 366.67 316.60 368.50C316.97 370.33 317.68 371.92 318.50 373.50C319.32 375.08 320.50 376.75 321.50 378.00C322.50 379.25 324.00 380.50 324.50 381.00" stroke="#52ffad" stroke-width="14.42"/>
<path d="M319.00 346.00C318.87 346.75 318.48 348.75 318.20 350.50C317.92 352.25 317.45 355.50 317.30 356.50" stroke="#52ffad" stroke-width="14.42"/>
<path d="M306.00 342.10C306.40 342.23 307.20 342.23 308.40 342.90C309.60 343.57 311.58 345.30 313.20 346.10C314.82 346.90 316.62 347.83 318.10 347.70C319.58 347.57 320.90 346.37 322.10 345.30C323.30 344.23 324.85 342.90 325.30 341.30C325.75 339.70 325.07 337.30 324.80 335.70C324.53 334.10 323.75 332.65 323.70 331.70C323.65 330.75 324.37 330.28 324.50 330.00" stroke="#84ff7b" stroke-width="7.89"/>
<path d="M319.00 346.00C318.87 346.75 318.48 348.75 318.20 350.50C317.92 352.25 317.62 354.50 317.30 356.50C316.98 358.50 316.42 360.50 316.30 362.50C316.18 364.50 316.23 366.67 316.60 368.50C316.97 370.33 317.68 371.92 318.50 373.50C319.32 375.08 320.50 376.75 321.50 378.00C322.50 379.25 324.00 380.50 324.50 381.00" stroke="#84ff7b" stroke-width="13.15"/>
<path d="M319.00 346.00C318.87 346.75 318.48 348.75 318.20 350.50C317.92 352.25 317.45 355.50 317.30 356.50" stroke="#84ff7b" stroke-width="13.15"/>
<path d="M306.00 342.10C306.40 342.23 307.20 342.23 308.40 342.90C309.60 343.57 311.58 345.30 313.20 346.10C314.82 346.90 316.62 347.83 318.10 347.70C319.58 347.57 320.90 346.37 322.10 345.30C323.30 344.23 324.85 342.90 325.30 341.30C325.75 339.70 325.07 337.30 324.80 335.70C324.53 334.10 323.75 332.65 323.70 331.70C323.65 330.75 324.37 330.28 324.50 330.00" stroke="#b7ff48" stroke-width="7.09"/>
<path d="M319.00 346.00C318.87 346.75 318.48 348.75 318.20 350.50C317.92 352.25 317.62 354.50 317.30 356.50C316.98 358.50 316.42 360.50 316.30 362.50C316.18 364.50 316.23 366.67 316.60 368.50C316.97 370.33 317.68 371.92 318.50 373.50C319.32 375.08 320.50 376.75 321.50 378.00C322.50 379.25 324.00 380.50 324.50 381.00" stroke="#b7ff48" stroke-width="11.81"/>
<path d="M319.00 346.00C318.87 346.75 318.48 348.75 318.20 350.50C317.92 352.25 317.45 355.50 317.30 356.50" stroke="#b7ff48" stroke-width="11.81"/>
<path d="M306.00 342.10C306.40 342.23 307.20 342.23 308.40 342.90C309.60 343.57 311.58 345.30 313.20 346.10C314.82 346.90 316.62 347.83 318.10 347.70C319.58 347.57 320.90 346.37 322.10 345.30C323.30 344.23 324.85 342.90 325.30 341.30C325.75 339.70 325.07 337.30 324.80 335.70C324.53 334.10 323.75 332.65 323.70 331.70C323.65 330.75 324.37 330.28 324.50 330.00" stroke="#e9ff16" stroke-width="6.24"/>
<path d="M319.00 346.00C318.87 346.75 318.48 348.75 318.20 350.50C317.92 352.25 317.62 354.50 317.30 356.50C316.98 358.50 316.42 360.50 316.30 362.50C316.18 364.50 316.23 366.67 316.60 368.50C316.97 370.33 317.68 371.92 318.50 373.50C319.32 375.08 320.50 376.75 321.50 378.00C322.50 379.25 324.00 380.50 324.50 381.00" stroke="#e9ff16" stroke-width="10.40"/>
<path d="M319.00 346.00C318.87 346.75 318.48 348.75 318.20 350.50C317.92 352.25 317.45 355.50 317.30 356.50" stroke="#e9ff16" stroke-width="10.40"/>
<path d="M306.00 342.10C306.40 342.23 307.20 342.23 308.40 342.90C309.60 343.57 311.58 345.30 313.20 346.10C314.82 346.90 316.62 347.83 318.10 347.70C319.58 347.57 320.90 346.37 322.10 345.30C323.30 344.23 324.85 342.90 325.30 341.30C325.75 339.70 325.07 337.30 324.80 335.70C324.53 334.10 323.75 332.65 323.70 331.70C323.65 330.75 324.37 330.28 324.50 330.00" stroke="#ffe200" stroke-width="5.35"/>
<path d="M319.00 346.00C318.87 346.75 318.48 348.75 318.20 350.50C317.92 352.25 317.62 354.50 317.30 356.50C316.98 358.50 316.42 360.50 316.30 362.50C316.18 364.50 316.23 366.67 316.60 368.50C316.97 370.33 317.68 371.92 318.50 373.50C319.32 375.08 320.50 376.75 321.50 378.00C322.50 379.25 324.00 380.50 324.50 381.00" stroke="#ffe200" stroke-width="8.92"/>
<path d="M319.00 346.00C318.87 346.75 318.48 348.75 318.20 350.50C317.92 352.25 317.45 355.50 317.30 356.50" stroke="#ffe200" stroke-width="8.92"/>
<path d="M306.00 342.10C306.40 342.23 307.20 342.23 308.40 342.90C309.60 343.57 311.58 345.30 313.20 346.10C314.82 346.90 316.62 347.83 318.10 347.70C319.58 347.57 320.90 346.37 322.10 345.30C323.30 344.23 324.85 342.90 325.30 341.30C325.75 339.70 325.07 337.30 324.80 335.70C324.53 334.10 323.75 332.65 323.70 331.70C323.65 330.75 324.37 330.28 324.50 330.00" stroke="#ffb000" stroke-width="4.43"/>
<path d="M319.00 346.00C318.87 346.75 318.48 348.75 318.20 350.50C317.92 352.25 317.62 354.50 317.30 356.50C316.98 358.50 316.42 360.50 316.30 362.50C316.18 364.50 316.23 366.67 316.60 368.50C316.97 370.33 317.68 371.92 318.50 373.50C319.32 375.08 320.50 376.75 321.50 378.00C322.50 379.25 324.00 380.50 324.50 381.00" stroke="#ffb000" stroke-width="7.38"/>
<path d="M319.00 346.00C318.87 346.75 318.48 348.75 318.20 350.50C317.92 352.25 317.45 355.50 317.30 356.50" stroke="#ffb000" stroke-width="7.38"/>
<path d="M306.00 342.10C306.40 342.23 307.20 342.23 308.40 342.90C309.60 343.57 311.58 345.30 313.20 346.10C314.82 346.90 316.62 347.83 318.10 347.70C319.58 347.57 320.90 346.37 322.10 345.30C323.30 344.23 324.85 342.90 325.30 341.30C325.75 339.70 325.07 337.30 324.80 335.70C324.53 334.10 323.75 332.65 323.70 331.70C323.65 330.75 324.37 330.28 324.50 330.00" stroke="#ff7e00" stroke-width="3.47"/>
<path d="M319.00 346.00C318.87 346.75 318.48 348.75 318.20 350.50C317.92 352.25 317.45 355.50 317.30 356.50" stroke="#ff7e00" stroke-width="5.78"/>
<path d="M306.00 342.10C306.40 342.23 307.20 342.23 308.40 342.90C309.60 343.57 311.58 345.30 313.20 346.10C314.82 346.90 316.62 347.83 318.10 347.70C319.58 347.57 320.90 346.37 322.10 345.30C323.30 344.23 324.85 342.90 325.30 341.30C325.75 339.70 325.07 337.30 324.80 335.70C324.53 334.10 323.75 332.65 323.70 331.70C323.65 330.75 324.37 330.28 324.50 330.00" stroke="#ff4b00" stroke-width="2.47"/>
<path d="M319.00 346.00C318.87 346.75 318.48 348.75 318.20 350.50C317.92 352.25 317.45 355.50 317.30 356.50" stroke="#ff4b00" stroke-width="4.12"/>
<path d="M306.00 342.10C306.40 342.23 307.20 342.23 308.40 342.90C309.60 343.57 311.58 345.30 313.20 346.10C314.82 346.90 316.62 347.83 318.10 347.70C319.58 347.57 320.90 346.37 322.10 345.30C323.30 344.23 324.85 342.90 325.30 341.30C325.75 339.70 325.07 337.30 324.80 335.70C324.53 334.10 323.75 332.65 323.70 331.70C323.65 330.75 324.37 330.28 324.50 330.00" stroke="#ff1900" stroke-width="1.44"/>
<path d="M319.00 346.00C318.87 346.75 318.48 348.75 318.20 350.50C317.92 352.25 317.45 355.50 317.30 356.50" stroke="#ff1900" stroke-width="2.40"/>
<path d="M306.00 342.10C306.40 342.23 307.20 342.23 308.40 342.90C309.60 343.57 311.58 345.30 313.20 346.10C314.82 346.90 316.62 347.83 318.10 347.70C319.58 347.57 320.90 346.37 322.10 345.30C323.30 344.23 324.85 342.90 325.30 341.30C325.75 339.70 325.07 337.30 324.80 335.70C324.53 334.10 323.75 332.65 323.70 331.70C323.65 330.75 324.37 330.28 324.50 330.00" stroke="#e50000" stroke-width="0.38"/>
<path d="M319.00 346.00C318.87 346.75 318.48 348.75 318.20 350.50C317.92 352.25 317.45 355.50 317.30 356.50" stroke="#e50000" stroke-width="0.63"/>
</g>
<ellipse cx="316.6" cy="362.6" rx="2.8" ry="1.3" fill="#ff4c00" clip-path="url(#ce)"/>
<ellipse cx="316.6" cy="362.6" rx="1.6" ry="0.7" fill="#ff0f00" clip-path="url(#ce)"/>
<ellipse cx="316.9" cy="369.5" rx="2.8" ry="1.3" fill="#ff4c00" clip-path="url(#ce)"/>
<ellipse cx="316.9" cy="369.5" rx="1.6" ry="0.7" fill="#ff0f00" clip-path="url(#ce)"/>
<ellipse cx="320.7" cy="377.2" rx="2.8" ry="1.3" fill="#ff4c00" clip-path="url(#ce)"/>
<ellipse cx="320.7" cy="377.2" rx="1.6" ry="0.7" fill="#ff0f00" clip-path="url(#ce)"/>
<g fill="none">
<path d="M292.60 387.20C294.07 386.58 298.47 384.65 301.40 383.50C304.33 382.35 307.68 381.03 310.20 380.30C312.72 379.57 315.45 379.30 316.50 379.10" transform="translate(0,-0.20)" stroke="#ffb300" stroke-width="0.90"/>
<path d="M292.60 387.20C294.07 386.58 298.47 384.65 301.40 383.50C304.33 382.35 307.68 381.03 310.20 380.30C312.72 379.57 315.45 379.30 316.50 379.10" transform="translate(0,-0.70)" stroke="#fa0000" stroke-width="0.90"/>
</g>
<path d="M289.60 334.50C289.57 334.45 288.97 335.68 289.40 334.20C289.83 332.72 291.40 328.83 292.20 325.60C293.00 322.37 293.52 318.40 294.20 314.80C294.88 311.20 295.65 307.60 296.30 304.00C296.95 300.40 297.45 296.80 298.10 293.20C298.75 289.60 299.48 286.00 300.20 282.40C300.92 278.80 301.75 275.20 302.40 271.60C303.05 268.00 303.67 263.32 304.10 260.80C304.53 258.28 304.67 257.52 305.00 256.50C305.33 255.48 305.92 255.00 306.10 254.70L306.10 254.70C306.28 255.00 306.85 255.48 307.20 256.50C307.55 257.52 307.67 258.28 308.20 260.80C308.73 263.32 309.75 268.00 310.40 271.60C311.05 275.20 311.45 278.80 312.10 282.40C312.75 286.00 313.65 289.60 314.30 293.20C314.95 296.80 315.40 300.40 316.00 304.00C316.60 307.60 317.28 312.10 317.90 314.80C318.52 317.50 319.12 318.93 319.70 320.20C320.28 321.47 320.87 321.13 321.40 322.40C321.93 323.67 322.38 326.53 322.90 327.80C323.42 329.07 324.23 329.63 324.50 330.00L324.50 330.00C324.37 330.28 323.65 330.75 323.70 331.70C323.75 332.65 324.53 334.10 324.80 335.70C325.07 337.30 325.75 339.70 325.30 341.30C324.85 342.90 323.30 344.23 322.10 345.30C320.90 346.37 319.58 347.57 318.10 347.70C316.62 347.83 314.82 346.90 313.20 346.10C311.58 345.30 309.60 343.57 308.40 342.90C307.20 342.23 306.40 342.23 306.00 342.10L306.00 342.10C306.18 343.45 306.55 347.23 307.10 350.20C307.65 353.17 308.48 356.85 309.30 359.90C310.12 362.95 311.02 365.97 312.00 368.50C312.98 371.03 313.98 373.37 315.20 375.10C316.42 376.83 318.62 378.27 319.30 378.90L319.30 378.90C318.83 378.78 318.02 378.12 316.50 378.20C314.98 378.28 312.72 378.67 310.20 379.40C307.68 380.13 304.07 381.53 301.40 382.60C298.73 383.67 295.40 385.27 294.20 385.80L294.20 385.80C294.45 382.97 295.30 373.43 295.70 368.80C296.10 364.17 296.32 361.10 296.60 358.00C296.88 354.90 297.13 353.12 297.40 350.20C297.67 347.28 298.07 342.12 298.20 340.50L298.20 340.50C297.22 340.37 293.82 340.10 292.30 339.70C290.78 339.30 289.55 338.97 289.10 338.10C288.65 337.23 289.52 335.10 289.60 334.50Z" fill="#800000"/>
<g stroke="#3a3a3a" stroke-width="0.7" fill="none">
<path d="M467.70 356.20L524.50 393.90L598.50 366.20"/>
<path d="M467.70 356.20L467.70 277.00"/>
<path d="M467.70 283.50h-2"/>
<path d="M467.70 320.50h-2"/>
<path d="M467.70 356.20h-2"/>
<path d="M467.70 356.20l-1.8 1.4"/>
<path d="M524.50 393.90l0.6 1.3"/>
<path d="M598.50 366.20l1.6 0.3"/>
</g>
<text transform="translate(461.50,289.40) scale(1.08,1)" font-size="18.3" text-anchor="end" stroke="#000" stroke-width="0.2">100</text>
<text transform="translate(461.50,325.00) scale(1.08,1)" font-size="18.3" text-anchor="end" stroke="#000" stroke-width="0.2">50</text>
<text transform="translate(461.50,360.00) scale(1.08,1)" font-size="18.3" text-anchor="end" stroke="#000" stroke-width="0.2">0</text>
<text transform="translate(460.30,376.60) scale(1.08,1)" font-size="18.3" text-anchor="end" stroke="#000" stroke-width="0.2">1</text>
<text transform="translate(470.10,405.20) scale(1.18,1)" font-size="19" font-style="italic" stroke="#000" stroke-width="0.15">y</text>
<text transform="translate(478.80,408.70) scale(1.08,1)" font-size="15" stroke="#000" stroke-width="0.2">2</text>
<text transform="translate(530.20,415.30) scale(1.08,1)" font-size="18.3" text-anchor="start" stroke="#000" stroke-width="0.2">0</text>
<text transform="translate(568.00,405.70) scale(1.18,1)" font-size="19" font-style="italic" stroke="#000" stroke-width="0.15">y</text>
<text transform="translate(576.10,409.20) scale(1.08,1)" font-size="15" stroke="#000" stroke-width="0.2">1</text>
<text transform="translate(604.40,386.40) scale(1.08,1)" font-size="18.3" text-anchor="start" stroke="#000" stroke-width="0.2">1</text>
<clipPath id="cf"><path d="M467.70 356.20L541.50 328.60L541.50 328.60L598.50 366.20L598.50 366.20L552.00 383.40L552.00 383.40C551.28 383.20 549.60 382.05 547.70 382.20C545.80 382.35 543.23 383.52 540.60 384.30C537.97 385.08 535.18 385.88 531.90 386.90C528.62 387.92 522.73 389.82 520.90 390.40L520.90 390.40L467.70 356.20Z"/></clipPath>
<path d="M467.70 356.20L541.50 328.60L541.50 328.60L598.50 366.20L598.50 366.20L552.00 383.40L552.00 383.40C551.28 383.20 549.60 382.05 547.70 382.20C545.80 382.35 543.23 383.52 540.60 384.30C537.97 385.08 535.18 385.88 531.90 386.90C528.62 387.92 522.73 389.82 520.90 390.40L520.90 390.40L467.70 356.20Z" fill="#00008f"/>
<g fill="none" stroke-linejoin="round" stroke-linecap="round" clip-path="url(#cf)" >
<path d="M528.70 333.20C529.82 333.62 533.22 334.62 535.40 335.70C537.58 336.78 539.93 338.37 541.80 339.70C543.67 341.03 545.13 342.68 546.60 343.70C548.07 344.72 549.93 345.45 550.60 345.80" stroke="#000094" stroke-width="6.80"/>
<path d="M560.00 345.47C559.96 345.61 559.96 346.04 559.75 346.34C559.54 346.63 559.17 346.95 558.73 347.23C558.29 347.51 557.70 347.79 557.10 348.01C556.49 348.23 555.78 348.43 555.10 348.56C554.42 348.69 553.69 348.78 553.04 348.80C552.40 348.82 551.75 348.78 551.24 348.69C550.72 348.59 550.26 348.43 549.96 348.24C549.65 348.05 549.45 347.79 549.40 347.53C549.35 347.27 549.44 346.96 549.65 346.66C549.86 346.37 550.23 346.05 550.67 345.77C551.11 345.49 551.70 345.21 552.30 344.99C552.91 344.77 553.62 344.57 554.30 344.44C554.98 344.31 555.71 344.22 556.36 344.20C557.00 344.18 557.65 344.22 558.16 344.31C558.68 344.41 559.14 344.57 559.44 344.76C559.75 344.95 559.91 345.35 560.00 345.47Z" stroke="#000094" stroke-width="6.80"/>
<path d="M556.99 352.69C556.95 352.85 556.95 353.30 556.72 353.60C556.49 353.91 556.10 354.25 555.62 354.54C555.15 354.84 554.52 355.14 553.87 355.37C553.22 355.61 552.45 355.82 551.72 355.96C550.99 356.10 550.20 356.19 549.51 356.22C548.82 356.24 548.12 356.20 547.57 356.11C547.02 356.01 546.53 355.85 546.20 355.65C545.87 355.45 545.66 355.18 545.61 354.91C545.55 354.63 545.65 354.30 545.88 354.00C546.11 353.69 546.50 353.35 546.98 353.06C547.45 352.76 548.08 352.46 548.73 352.23C549.38 351.99 550.15 351.78 550.88 351.64C551.61 351.50 552.40 351.41 553.09 351.38C553.78 351.36 554.48 351.40 555.03 351.49C555.58 351.59 556.07 351.75 556.40 351.95C556.73 352.15 556.89 352.57 556.99 352.69Z" stroke="#000094" stroke-width="6.80"/>
<path d="M555.29 359.72C555.24 359.88 555.24 360.37 555.00 360.71C554.75 361.04 554.33 361.41 553.83 361.73C553.32 362.05 552.65 362.37 551.95 362.62C551.26 362.88 550.43 363.10 549.66 363.26C548.88 363.41 548.03 363.50 547.29 363.53C546.55 363.55 545.81 363.51 545.22 363.40C544.63 363.30 544.10 363.11 543.75 362.89C543.40 362.67 543.17 362.38 543.11 362.08C543.06 361.78 543.16 361.43 543.40 361.09C543.65 360.76 544.07 360.39 544.57 360.07C545.08 359.75 545.75 359.43 546.45 359.18C547.14 358.92 547.97 358.70 548.74 358.54C549.52 358.39 550.37 358.30 551.11 358.27C551.85 358.25 552.59 358.29 553.18 358.40C553.77 358.50 554.30 358.69 554.65 358.91C555.00 359.13 555.18 359.58 555.29 359.72Z" stroke="#000094" stroke-width="6.80"/>
<path d="M553.69 368.22C553.64 368.38 553.64 368.87 553.40 369.21C553.15 369.54 552.73 369.91 552.23 370.23C551.72 370.55 551.05 370.87 550.35 371.12C549.66 371.38 548.83 371.60 548.06 371.76C547.28 371.91 546.43 372.00 545.69 372.03C544.95 372.05 544.21 372.01 543.62 371.90C543.03 371.80 542.50 371.61 542.15 371.39C541.80 371.17 541.57 370.88 541.51 370.58C541.46 370.28 541.56 369.93 541.80 369.59C542.05 369.26 542.47 368.89 542.97 368.57C543.48 368.25 544.15 367.93 544.85 367.68C545.54 367.42 546.37 367.20 547.14 367.04C547.92 366.89 548.77 366.80 549.51 366.77C550.25 366.75 550.99 366.79 551.58 366.90C552.17 367.00 552.70 367.19 553.05 367.41C553.40 367.63 553.58 368.08 553.69 368.22Z" stroke="#000094" stroke-width="6.80"/>
<path d="M552.70 377.55C552.66 377.71 552.67 378.20 552.46 378.53C552.25 378.86 551.89 379.22 551.44 379.52C551.00 379.83 550.40 380.14 549.79 380.37C549.18 380.61 548.45 380.82 547.76 380.96C547.07 381.09 546.32 381.17 545.66 381.18C545.00 381.19 544.33 381.13 543.81 381.01C543.28 380.89 542.80 380.70 542.49 380.47C542.17 380.24 541.96 379.95 541.90 379.65C541.84 379.35 541.93 379.00 542.14 378.67C542.35 378.34 542.71 377.98 543.16 377.68C543.60 377.37 544.20 377.06 544.81 376.83C545.42 376.59 546.15 376.38 546.84 376.24C547.53 376.11 548.28 376.03 548.94 376.02C549.60 376.01 550.27 376.07 550.79 376.19C551.32 376.31 551.80 376.50 552.11 376.73C552.43 376.96 552.60 377.41 552.70 377.55Z" stroke="#000094" stroke-width="6.80"/>
<path d="M528.70 333.20C529.82 333.62 533.22 334.62 535.40 335.70C537.58 336.78 539.93 338.37 541.80 339.70C543.67 341.03 545.13 342.68 546.60 343.70C548.07 344.72 549.93 345.45 550.60 345.80" stroke="#0000b9" stroke-width="4.03"/>
<path d="M560.00 345.47C559.96 345.61 559.96 346.04 559.75 346.34C559.54 346.63 559.17 346.95 558.73 347.23C558.29 347.51 557.70 347.79 557.10 348.01C556.49 348.23 555.78 348.43 555.10 348.56C554.42 348.69 553.69 348.78 553.04 348.80C552.40 348.82 551.75 348.78 551.24 348.69C550.72 348.59 550.26 348.43 549.96 348.24C549.65 348.05 549.45 347.79 549.40 347.53C549.35 347.27 549.44 346.96 549.65 346.66C549.86 346.37 550.23 346.05 550.67 345.77C551.11 345.49 551.70 345.21 552.30 344.99C552.91 344.77 553.62 344.57 554.30 344.44C554.98 344.31 555.71 344.22 556.36 344.20C557.00 344.18 557.65 344.22 558.16 344.31C558.68 344.41 559.14 344.57 559.44 344.76C559.75 344.95 559.91 345.35 560.00 345.47Z" stroke="#0000b9" stroke-width="4.03"/>
<path d="M556.99 352.69C556.95 352.85 556.95 353.30 556.72 353.60C556.49 353.91 556.10 354.25 555.62 354.54C555.15 354.84 554.52 355.14 553.87 355.37C553.22 355.61 552.45 355.82 551.72 355.96C550.99 356.10 550.20 356.19 549.51 356.22C548.82 356.24 548.12 356.20 547.57 356.11C547.02 356.01 546.53 355.85 546.20 355.65C545.87 355.45 545.66 355.18 545.61 354.91C545.55 354.63 545.65 354.30 545.88 354.00C546.11 353.69 546.50 353.35 546.98 353.06C547.45 352.76 548.08 352.46 548.73 352.23C549.38 351.99 550.15 351.78 550.88 351.64C551.61 351.50 552.40 351.41 553.09 351.38C553.78 351.36 554.48 351.40 555.03 351.49C555.58 351.59 556.07 351.75 556.40 351.95C556.73 352.15 556.89 352.57 556.99 352.69Z" stroke="#0000b9" stroke-width="4.03"/>
<path d="M555.29 359.72C555.24 359.88 555.24 360.37 555.00 360.71C554.75 361.04 554.33 361.41 553.83 361.73C553.32 362.05 552.65 362.37 551.95 362.62C551.26 362.88 550.43 363.10 549.66 363.26C548.88 363.41 548.03 363.50 547.29 363.53C546.55 363.55 545.81 363.51 545.22 363.40C544.63 363.30 544.10 363.11 543.75 362.89C543.40 362.67 543.17 362.38 543.11 362.08C543.06 361.78 543.16 361.43 543.40 361.09C543.65 360.76 544.07 360.39 544.57 360.07C545.08 359.75 545.75 359.43 546.45 359.18C547.14 358.92 547.97 358.70 548.74 358.54C549.52 358.39 550.37 358.30 551.11 358.27C551.85 358.25 552.59 358.29 553.18 358.40C553.77 358.50 554.30 358.69 554.65 358.91C555.00 359.13 555.18 359.58 555.29 359.72Z" stroke="#0000b9" stroke-width="4.03"/>
<path d="M553.69 368.22C553.64 368.38 553.64 368.87 553.40 369.21C553.15 369.54 552.73 369.91 552.23 370.23C551.72 370.55 551.05 370.87 550.35 371.12C549.66 371.38 548.83 371.60 548.06 371.76C547.28 371.91 546.43 372.00 545.69 372.03C544.95 372.05 544.21 372.01 543.62 371.90C543.03 371.80 542.50 371.61 542.15 371.39C541.80 371.17 541.57 370.88 541.51 370.58C541.46 370.28 541.56 369.93 541.80 369.59C542.05 369.26 542.47 368.89 542.97 368.57C543.48 368.25 544.15 367.93 544.85 367.68C545.54 367.42 546.37 367.20 547.14 367.04C547.92 366.89 548.77 366.80 549.51 366.77C550.25 366.75 550.99 366.79 551.58 366.90C552.17 367.00 552.70 367.19 553.05 367.41C553.40 367.63 553.58 368.08 553.69 368.22Z" stroke="#0000b9" stroke-width="4.03"/>
<path d="M552.70 377.55C552.66 377.71 552.67 378.20 552.46 378.53C552.25 378.86 551.89 379.22 551.44 379.52C551.00 379.83 550.40 380.14 549.79 380.37C549.18 380.61 548.45 380.82 547.76 380.96C547.07 381.09 546.32 381.17 545.66 381.18C545.00 381.19 544.33 381.13 543.81 381.01C543.28 380.89 542.80 380.70 542.49 380.47C542.17 380.24 541.96 379.95 541.90 379.65C541.84 379.35 541.93 379.00 542.14 378.67C542.35 378.34 542.71 377.98 543.16 377.68C543.60 377.37 544.20 377.06 544.81 376.83C545.42 376.59 546.15 376.38 546.84 376.24C547.53 376.11 548.28 376.03 548.94 376.02C549.60 376.01 550.27 376.07 550.79 376.19C551.32 376.31 551.80 376.50 552.11 376.73C552.43 376.96 552.60 377.41 552.70 377.55Z" stroke="#0000b9" stroke-width="4.03"/>
<path d="M528.70 333.20C529.82 333.62 533.22 334.62 535.40 335.70C537.58 336.78 539.93 338.37 541.80 339.70C543.67 341.03 545.13 342.68 546.60 343.70C548.07 344.72 549.93 345.45 550.60 345.80" stroke="#0000dd" stroke-width="2.61"/>
<path d="M560.00 345.47C559.96 345.61 559.96 346.04 559.75 346.34C559.54 346.63 559.17 346.95 558.73 347.23C558.29 347.51 557.70 347.79 557.10 348.01C556.49 348.23 555.78 348.43 555.10 348.56C554.42 348.69 553.69 348.78 553.04 348.80C552.40 348.82 551.75 348.78 551.24 348.69C550.72 348.59 550.26 348.43 549.96 348.24C549.65 348.05 549.45 347.79 549.40 347.53C549.35 347.27 549.44 346.96 549.65 346.66C549.86 346.37 550.23 346.05 550.67 345.77C551.11 345.49 551.70 345.21 552.30 344.99C552.91 344.77 553.62 344.57 554.30 344.44C554.98 344.31 555.71 344.22 556.36 344.20C557.00 344.18 557.65 344.22 558.16 344.31C558.68 344.41 559.14 344.57 559.44 344.76C559.75 344.95 559.91 345.35 560.00 345.47Z" stroke="#0000dd" stroke-width="2.61"/>
<path d="M556.99 352.69C556.95 352.85 556.95 353.30 556.72 353.60C556.49 353.91 556.10 354.25 555.62 354.54C555.15 354.84 554.52 355.14 553.87 355.37C553.22 355.61 552.45 355.82 551.72 355.96C550.99 356.10 550.20 356.19 549.51 356.22C548.82 356.24 548.12 356.20 547.57 356.11C547.02 356.01 546.53 355.85 546.20 355.65C545.87 355.45 545.66 355.18 545.61 354.91C545.55 354.63 545.65 354.30 545.88 354.00C546.11 353.69 546.50 353.35 546.98 353.06C547.45 352.76 548.08 352.46 548.73 352.23C549.38 351.99 550.15 351.78 550.88 351.64C551.61 351.50 552.40 351.41 553.09 351.38C553.78 351.36 554.48 351.40 555.03 351.49C555.58 351.59 556.07 351.75 556.40 351.95C556.73 352.15 556.89 352.57 556.99 352.69Z" stroke="#0000dd" stroke-width="2.61"/>
<path d="M555.29 359.72C555.24 359.88 555.24 360.37 555.00 360.71C554.75 361.04 554.33 361.41 553.83 361.73C553.32 362.05 552.65 362.37 551.95 362.62C551.26 362.88 550.43 363.10 549.66 363.26C548.88 363.41 548.03 363.50 547.29 363.53C546.55 363.55 545.81 363.51 545.22 363.40C544.63 363.30 544.10 363.11 543.75 362.89C543.40 362.67 543.17 362.38 543.11 362.08C543.06 361.78 543.16 361.43 543.40 361.09C543.65 360.76 544.07 360.39 544.57 360.07C545.08 359.75 545.75 359.43 546.45 359.18C547.14 358.92 547.97 358.70 548.74 358.54C549.52 358.39 550.37 358.30 551.11 358.27C551.85 358.25 552.59 358.29 553.18 358.40C553.77 358.50 554.30 358.69 554.65 358.91C555.00 359.13 555.18 359.58 555.29 359.72Z" stroke="#0000dd" stroke-width="2.61"/>
<path d="M553.69 368.22C553.64 368.38 553.64 368.87 553.40 369.21C553.15 369.54 552.73 369.91 552.23 370.23C551.72 370.55 551.05 370.87 550.35 371.12C549.66 371.38 548.83 371.60 548.06 371.76C547.28 371.91 546.43 372.00 545.69 372.03C544.95 372.05 544.21 372.01 543.62 371.90C543.03 371.80 542.50 371.61 542.15 371.39C541.80 371.17 541.57 370.88 541.51 370.58C541.46 370.28 541.56 369.93 541.80 369.59C542.05 369.26 542.47 368.89 542.97 368.57C543.48 368.25 544.15 367.93 544.85 367.68C545.54 367.42 546.37 367.20 547.14 367.04C547.92 366.89 548.77 366.80 549.51 366.77C550.25 366.75 550.99 366.79 551.58 366.90C552.17 367.00 552.70 367.19 553.05 367.41C553.40 367.63 553.58 368.08 553.69 368.22Z" stroke="#0000dd" stroke-width="2.61"/>
<path d="M552.70 377.55C552.66 377.71 552.67 378.20 552.46 378.53C552.25 378.86 551.89 379.22 551.44 379.52C551.00 379.83 550.40 380.14 549.79 380.37C549.18 380.61 548.45 380.82 547.76 380.96C547.07 381.09 546.32 381.17 545.66 381.18C545.00 381.19 544.33 381.13 543.81 381.01C543.28 380.89 542.80 380.70 542.49 380.47C542.17 380.24 541.96 379.95 541.90 379.65C541.84 379.35 541.93 379.00 542.14 378.67C542.35 378.34 542.71 377.98 543.16 377.68C543.60 377.37 544.20 377.06 544.81 376.83C545.42 376.59 546.15 376.38 546.84 376.24C547.53 376.11 548.28 376.03 548.94 376.02C549.60 376.01 550.27 376.07 550.79 376.19C551.32 376.31 551.80 376.50 552.11 376.73C552.43 376.96 552.60 377.41 552.70 377.55Z" stroke="#0000dd" stroke-width="2.61"/>
<path d="M528.70 333.20C529.82 333.62 533.22 334.62 535.40 335.70C537.58 336.78 539.93 338.37 541.80 339.70C543.67 341.03 545.13 342.68 546.60 343.70C548.07 344.72 549.93 345.45 550.60 345.80" stroke="#0003ff" stroke-width="1.63"/>
<path d="M560.00 345.47C559.96 345.61 559.96 346.04 559.75 346.34C559.54 346.63 559.17 346.95 558.73 347.23C558.29 347.51 557.70 347.79 557.10 348.01C556.49 348.23 555.78 348.43 555.10 348.56C554.42 348.69 553.69 348.78 553.04 348.80C552.40 348.82 551.75 348.78 551.24 348.69C550.72 348.59 550.26 348.43 549.96 348.24C549.65 348.05 549.45 347.79 549.40 347.53C549.35 347.27 549.44 346.96 549.65 346.66C549.86 346.37 550.23 346.05 550.67 345.77C551.11 345.49 551.70 345.21 552.30 344.99C552.91 344.77 553.62 344.57 554.30 344.44C554.98 344.31 555.71 344.22 556.36 344.20C557.00 344.18 557.65 344.22 558.16 344.31C558.68 344.41 559.14 344.57 559.44 344.76C559.75 344.95 559.91 345.35 560.00 345.47Z" stroke="#0003ff" stroke-width="1.63"/>
<path d="M556.99 352.69C556.95 352.85 556.95 353.30 556.72 353.60C556.49 353.91 556.10 354.25 555.62 354.54C555.15 354.84 554.52 355.14 553.87 355.37C553.22 355.61 552.45 355.82 551.72 355.96C550.99 356.10 550.20 356.19 549.51 356.22C548.82 356.24 548.12 356.20 547.57 356.11C547.02 356.01 546.53 355.85 546.20 355.65C545.87 355.45 545.66 355.18 545.61 354.91C545.55 354.63 545.65 354.30 545.88 354.00C546.11 353.69 546.50 353.35 546.98 353.06C547.45 352.76 548.08 352.46 548.73 352.23C549.38 351.99 550.15 351.78 550.88 351.64C551.61 351.50 552.40 351.41 553.09 351.38C553.78 351.36 554.48 351.40 555.03 351.49C555.58 351.59 556.07 351.75 556.40 351.95C556.73 352.15 556.89 352.57 556.99 352.69Z" stroke="#0003ff" stroke-width="1.63"/>
<path d="M555.29 359.72C555.24 359.88 555.24 360.37 555.00 360.71C554.75 361.04 554.33 361.41 553.83 361.73C553.32 362.05 552.65 362.37 551.95 362.62C551.26 362.88 550.43 363.10 549.66 363.26C548.88 363.41 548.03 363.50 547.29 363.53C546.55 363.55 545.81 363.51 545.22 363.40C544.63 363.30 544.10 363.11 543.75 362.89C543.40 362.67 543.17 362.38 543.11 362.08C543.06 361.78 543.16 361.43 543.40 361.09C543.65 360.76 544.07 360.39 544.57 360.07C545.08 359.75 545.75 359.43 546.45 359.18C547.14 358.92 547.97 358.70 548.74 358.54C549.52 358.39 550.37 358.30 551.11 358.27C551.85 358.25 552.59 358.29 553.18 358.40C553.77 358.50 554.30 358.69 554.65 358.91C555.00 359.13 555.18 359.58 555.29 359.72Z" stroke="#0003ff" stroke-width="1.63"/>
<path d="M553.69 368.22C553.64 368.38 553.64 368.87 553.40 369.21C553.15 369.54 552.73 369.91 552.23 370.23C551.72 370.55 551.05 370.87 550.35 371.12C549.66 371.38 548.83 371.60 548.06 371.76C547.28 371.91 546.43 372.00 545.69 372.03C544.95 372.05 544.21 372.01 543.62 371.90C543.03 371.80 542.50 371.61 542.15 371.39C541.80 371.17 541.57 370.88 541.51 370.58C541.46 370.28 541.56 369.93 541.80 369.59C542.05 369.26 542.47 368.89 542.97 368.57C543.48 368.25 544.15 367.93 544.85 367.68C545.54 367.42 546.37 367.20 547.14 367.04C547.92 366.89 548.77 366.80 549.51 366.77C550.25 366.75 550.99 366.79 551.58 366.90C552.17 367.00 552.70 367.19 553.05 367.41C553.40 367.63 553.58 368.08 553.69 368.22Z" stroke="#0003ff" stroke-width="1.63"/>
<path d="M552.70 377.55C552.66 377.71 552.67 378.20 552.46 378.53C552.25 378.86 551.89 379.22 551.44 379.52C551.00 379.83 550.40 380.14 549.79 380.37C549.18 380.61 548.45 380.82 547.76 380.96C547.07 381.09 546.32 381.17 545.66 381.18C545.00 381.19 544.33 381.13 543.81 381.01C543.28 380.89 542.80 380.70 542.49 380.47C542.17 380.24 541.96 379.95 541.90 379.65C541.84 379.35 541.93 379.00 542.14 378.67C542.35 378.34 542.71 377.98 543.16 377.68C543.60 377.37 544.20 377.06 544.81 376.83C545.42 376.59 546.15 376.38 546.84 376.24C547.53 376.11 548.28 376.03 548.94 376.02C549.60 376.01 550.27 376.07 550.79 376.19C551.32 376.31 551.80 376.50 552.11 376.73C552.43 376.96 552.60 377.41 552.70 377.55Z" stroke="#0003ff" stroke-width="1.63"/>
<path d="M528.70 333.20C529.82 333.62 533.22 334.62 535.40 335.70C537.58 336.78 539.93 338.37 541.80 339.70C543.67 341.03 545.13 342.68 546.60 343.70C548.07 344.72 549.93 345.45 550.60 345.80" stroke="#0028ff" stroke-width="0.84"/>
<path d="M560.00 345.47C559.96 345.61 559.96 346.04 559.75 346.34C559.54 346.63 559.17 346.95 558.73 347.23C558.29 347.51 557.70 347.79 557.10 348.01C556.49 348.23 555.78 348.43 555.10 348.56C554.42 348.69 553.69 348.78 553.04 348.80C552.40 348.82 551.75 348.78 551.24 348.69C550.72 348.59 550.26 348.43 549.96 348.24C549.65 348.05 549.45 347.79 549.40 347.53C549.35 347.27 549.44 346.96 549.65 346.66C549.86 346.37 550.23 346.05 550.67 345.77C551.11 345.49 551.70 345.21 552.30 344.99C552.91 344.77 553.62 344.57 554.30 344.44C554.98 344.31 555.71 344.22 556.36 344.20C557.00 344.18 557.65 344.22 558.16 344.31C558.68 344.41 559.14 344.57 559.44 344.76C559.75 344.95 559.91 345.35 560.00 345.47Z" stroke="#0028ff" stroke-width="0.84"/>
<path d="M556.99 352.69C556.95 352.85 556.95 353.30 556.72 353.60C556.49 353.91 556.10 354.25 555.62 354.54C555.15 354.84 554.52 355.14 553.87 355.37C553.22 355.61 552.45 355.82 551.72 355.96C550.99 356.10 550.20 356.19 549.51 356.22C548.82 356.24 548.12 356.20 547.57 356.11C547.02 356.01 546.53 355.85 546.20 355.65C545.87 355.45 545.66 355.18 545.61 354.91C545.55 354.63 545.65 354.30 545.88 354.00C546.11 353.69 546.50 353.35 546.98 353.06C547.45 352.76 548.08 352.46 548.73 352.23C549.38 351.99 550.15 351.78 550.88 351.64C551.61 351.50 552.40 351.41 553.09 351.38C553.78 351.36 554.48 351.40 555.03 351.49C555.58 351.59 556.07 351.75 556.40 351.95C556.73 352.15 556.89 352.57 556.99 352.69Z" stroke="#0028ff" stroke-width="0.84"/>
<path d="M555.29 359.72C555.24 359.88 555.24 360.37 555.00 360.71C554.75 361.04 554.33 361.41 553.83 361.73C553.32 362.05 552.65 362.37 551.95 362.62C551.26 362.88 550.43 363.10 549.66 363.26C548.88 363.41 548.03 363.50 547.29 363.53C546.55 363.55 545.81 363.51 545.22 363.40C544.63 363.30 544.10 363.11 543.75 362.89C543.40 362.67 543.17 362.38 543.11 362.08C543.06 361.78 543.16 361.43 543.40 361.09C543.65 360.76 544.07 360.39 544.57 360.07C545.08 359.75 545.75 359.43 546.45 359.18C547.14 358.92 547.97 358.70 548.74 358.54C549.52 358.39 550.37 358.30 551.11 358.27C551.85 358.25 552.59 358.29 553.18 358.40C553.77 358.50 554.30 358.69 554.65 358.91C555.00 359.13 555.18 359.58 555.29 359.72Z" stroke="#0028ff" stroke-width="0.84"/>
<path d="M553.69 368.22C553.64 368.38 553.64 368.87 553.40 369.21C553.15 369.54 552.73 369.91 552.23 370.23C551.72 370.55 551.05 370.87 550.35 371.12C549.66 371.38 548.83 371.60 548.06 371.76C547.28 371.91 546.43 372.00 545.69 372.03C544.95 372.05 544.21 372.01 543.62 371.90C543.03 371.80 542.50 371.61 542.15 371.39C541.80 371.17 541.57 370.88 541.51 370.58C541.46 370.28 541.56 369.93 541.80 369.59C542.05 369.26 542.47 368.89 542.97 368.57C543.48 368.25 544.15 367.93 544.85 367.68C545.54 367.42 546.37 367.20 547.14 367.04C547.92 366.89 548.77 366.80 549.51 366.77C550.25 366.75 550.99 366.79 551.58 366.90C552.17 367.00 552.70 367.19 553.05 367.41C553.40 367.63 553.58 368.08 553.69 368.22Z" stroke="#0028ff" stroke-width="0.84"/>
<path d="M552.70 377.55C552.66 377.71 552.67 378.20 552.46 378.53C552.25 378.86 551.89 379.22 551.44 379.52C551.00 379.83 550.40 380.14 549.79 380.37C549.18 380.61 548.45 380.82 547.76 380.96C547.07 381.09 546.32 381.17 545.66 381.18C545.00 381.19 544.33 381.13 543.81 381.01C543.28 380.89 542.80 380.70 542.49 380.47C542.17 380.24 541.96 379.95 541.90 379.65C541.84 379.35 541.93 379.00 542.14 378.67C542.35 378.34 542.71 377.98 543.16 377.68C543.60 377.37 544.20 377.06 544.81 376.83C545.42 376.59 546.15 376.38 546.84 376.24C547.53 376.11 548.28 376.03 548.94 376.02C549.60 376.01 550.27 376.07 550.79 376.19C551.32 376.31 551.80 376.50 552.11 376.73C552.43 376.96 552.60 377.41 552.70 377.55Z" stroke="#0028ff" stroke-width="0.84"/>
<path d="M528.70 333.20C529.82 333.62 533.22 334.62 535.40 335.70C537.58 336.78 539.93 338.37 541.80 339.70C543.67 341.03 545.13 342.68 546.60 343.70C548.07 344.72 549.93 345.45 550.60 345.80" stroke="#004dff" stroke-width="0.14"/>
<path d="M560.00 345.47C559.96 345.61 559.96 346.04 559.75 346.34C559.54 346.63 559.17 346.95 558.73 347.23C558.29 347.51 557.70 347.79 557.10 348.01C556.49 348.23 555.78 348.43 555.10 348.56C554.42 348.69 553.69 348.78 553.04 348.80C552.40 348.82 551.75 348.78 551.24 348.69C550.72 348.59 550.26 348.43 549.96 348.24C549.65 348.05 549.45 347.79 549.40 347.53C549.35 347.27 549.44 346.96 549.65 346.66C549.86 346.37 550.23 346.05 550.67 345.77C551.11 345.49 551.70 345.21 552.30 344.99C552.91 344.77 553.62 344.57 554.30 344.44C554.98 344.31 555.71 344.22 556.36 344.20C557.00 344.18 557.65 344.22 558.16 344.31C558.68 344.41 559.14 344.57 559.44 344.76C559.75 344.95 559.91 345.35 560.00 345.47Z" stroke="#004dff" stroke-width="0.14"/>
<path d="M556.99 352.69C556.95 352.85 556.95 353.30 556.72 353.60C556.49 353.91 556.10 354.25 555.62 354.54C555.15 354.84 554.52 355.14 553.87 355.37C553.22 355.61 552.45 355.82 551.72 355.96C550.99 356.10 550.20 356.19 549.51 356.22C548.82 356.24 548.12 356.20 547.57 356.11C547.02 356.01 546.53 355.85 546.20 355.65C545.87 355.45 545.66 355.18 545.61 354.91C545.55 354.63 545.65 354.30 545.88 354.00C546.11 353.69 546.50 353.35 546.98 353.06C547.45 352.76 548.08 352.46 548.73 352.23C549.38 351.99 550.15 351.78 550.88 351.64C551.61 351.50 552.40 351.41 553.09 351.38C553.78 351.36 554.48 351.40 555.03 351.49C555.58 351.59 556.07 351.75 556.40 351.95C556.73 352.15 556.89 352.57 556.99 352.69Z" stroke="#004dff" stroke-width="0.14"/>
<path d="M555.29 359.72C555.24 359.88 555.24 360.37 555.00 360.71C554.75 361.04 554.33 361.41 553.83 361.73C553.32 362.05 552.65 362.37 551.95 362.62C551.26 362.88 550.43 363.10 549.66 363.26C548.88 363.41 548.03 363.50 547.29 363.53C546.55 363.55 545.81 363.51 545.22 363.40C544.63 363.30 544.10 363.11 543.75 362.89C543.40 362.67 543.17 362.38 543.11 362.08C543.06 361.78 543.16 361.43 543.40 361.09C543.65 360.76 544.07 360.39 544.57 360.07C545.08 359.75 545.75 359.43 546.45 359.18C547.14 358.92 547.97 358.70 548.74 358.54C549.52 358.39 550.37 358.30 551.11 358.27C551.85 358.25 552.59 358.29 553.18 358.40C553.77 358.50 554.30 358.69 554.65 358.91C555.00 359.13 555.18 359.58 555.29 359.72Z" stroke="#004dff" stroke-width="0.14"/>
<path d="M553.69 368.22C553.64 368.38 553.64 368.87 553.40 369.21C553.15 369.54 552.73 369.91 552.23 370.23C551.72 370.55 551.05 370.87 550.35 371.12C549.66 371.38 548.83 371.60 548.06 371.76C547.28 371.91 546.43 372.00 545.69 372.03C544.95 372.05 544.21 372.01 543.62 371.90C543.03 371.80 542.50 371.61 542.15 371.39C541.80 371.17 541.57 370.88 541.51 370.58C541.46 370.28 541.56 369.93 541.80 369.59C542.05 369.26 542.47 368.89 542.97 368.57C543.48 368.25 544.15 367.93 544.85 367.68C545.54 367.42 546.37 367.20 547.14 367.04C547.92 366.89 548.77 366.80 549.51 366.77C550.25 366.75 550.99 366.79 551.58 366.90C552.17 367.00 552.70 367.19 553.05 367.41C553.40 367.63 553.58 368.08 553.69 368.22Z" stroke="#004dff" stroke-width="0.14"/>
<path d="M552.70 377.55C552.66 377.71 552.67 378.20 552.46 378.53C552.25 378.86 551.89 379.22 551.44 379.52C551.00 379.83 550.40 380.14 549.79 380.37C549.18 380.61 548.45 380.82 547.76 380.96C547.07 381.09 546.32 381.17 545.66 381.18C545.00 381.19 544.33 381.13 543.81 381.01C543.28 380.89 542.80 380.70 542.49 380.47C542.17 380.24 541.96 379.95 541.90 379.65C541.84 379.35 541.93 379.00 542.14 378.67C542.35 378.34 542.71 377.98 543.16 377.68C543.60 377.37 544.20 377.06 544.81 376.83C545.42 376.59 546.15 376.38 546.84 376.24C547.53 376.11 548.28 376.03 548.94 376.02C549.60 376.01 550.27 376.07 550.79 376.19C551.32 376.31 551.80 376.50 552.11 376.73C552.43 376.96 552.60 377.41 552.70 377.55Z" stroke="#004dff" stroke-width="0.14"/>
</g>
<g fill="none" stroke-linejoin="round" stroke-linecap="round" clip-path="url(#cf)" >
<path d="M528.70 333.20C529.82 333.62 533.22 334.62 535.40 335.70C537.58 336.78 539.93 338.37 541.80 339.70C543.67 341.03 545.13 342.68 546.60 343.70C548.07 344.72 549.93 345.45 550.60 345.80" stroke="#0080ff" stroke-width="3.20"/>
<path d="M560.00 345.47C559.96 345.61 559.96 346.04 559.75 346.34C559.54 346.63 559.17 346.95 558.73 347.23C558.29 347.51 557.70 347.79 557.10 348.01C556.49 348.23 555.78 348.43 555.10 348.56C554.42 348.69 553.69 348.78 553.04 348.80C552.40 348.82 551.75 348.78 551.24 348.69C550.72 348.59 550.26 348.43 549.96 348.24C549.65 348.05 549.45 347.79 549.40 347.53C549.35 347.27 549.44 346.96 549.65 346.66C549.86 346.37 550.23 346.05 550.67 345.77C551.11 345.49 551.70 345.21 552.30 344.99C552.91 344.77 553.62 344.57 554.30 344.44C554.98 344.31 555.71 344.22 556.36 344.20C557.00 344.18 557.65 344.22 558.16 344.31C558.68 344.41 559.14 344.57 559.44 344.76C559.75 344.95 559.91 345.35 560.00 345.47Z" stroke="#0080ff" stroke-width="3.20"/>
<path d="M556.99 352.69C556.95 352.85 556.95 353.30 556.72 353.60C556.49 353.91 556.10 354.25 555.62 354.54C555.15 354.84 554.52 355.14 553.87 355.37C553.22 355.61 552.45 355.82 551.72 355.96C550.99 356.10 550.20 356.19 549.51 356.22C548.82 356.24 548.12 356.20 547.57 356.11C547.02 356.01 546.53 355.85 546.20 355.65C545.87 355.45 545.66 355.18 545.61 354.91C545.55 354.63 545.65 354.30 545.88 354.00C546.11 353.69 546.50 353.35 546.98 353.06C547.45 352.76 548.08 352.46 548.73 352.23C549.38 351.99 550.15 351.78 550.88 351.64C551.61 351.50 552.40 351.41 553.09 351.38C553.78 351.36 554.48 351.40 555.03 351.49C555.58 351.59 556.07 351.75 556.40 351.95C556.73 352.15 556.89 352.57 556.99 352.69Z" stroke="#0080ff" stroke-width="3.20"/>
<path d="M555.29 359.72C555.24 359.88 555.24 360.37 555.00 360.71C554.75 361.04 554.33 361.41 553.83 361.73C553.32 362.05 552.65 362.37 551.95 362.62C551.26 362.88 550.43 363.10 549.66 363.26C548.88 363.41 548.03 363.50 547.29 363.53C546.55 363.55 545.81 363.51 545.22 363.40C544.63 363.30 544.10 363.11 543.75 362.89C543.40 362.67 543.17 362.38 543.11 362.08C543.06 361.78 543.16 361.43 543.40 361.09C543.65 360.76 544.07 360.39 544.57 360.07C545.08 359.75 545.75 359.43 546.45 359.18C547.14 358.92 547.97 358.70 548.74 358.54C549.52 358.39 550.37 358.30 551.11 358.27C551.85 358.25 552.59 358.29 553.18 358.40C553.77 358.50 554.30 358.69 554.65 358.91C555.00 359.13 555.18 359.58 555.29 359.72Z" stroke="#0080ff" stroke-width="3.20"/>
<path d="M553.69 368.22C553.64 368.38 553.64 368.87 553.40 369.21C553.15 369.54 552.73 369.91 552.23 370.23C551.72 370.55 551.05 370.87 550.35 371.12C549.66 371.38 548.83 371.60 548.06 371.76C547.28 371.91 546.43 372.00 545.69 372.03C544.95 372.05 544.21 372.01 543.62 371.90C543.03 371.80 542.50 371.61 542.15 371.39C541.80 371.17 541.57 370.88 541.51 370.58C541.46 370.28 541.56 369.93 541.80 369.59C542.05 369.26 542.47 368.89 542.97 368.57C543.48 368.25 544.15 367.93 544.85 367.68C545.54 367.42 546.37 367.20 547.14 367.04C547.92 366.89 548.77 366.80 549.51 366.77C550.25 366.75 550.99 366.79 551.58 366.90C552.17 367.00 552.70 367.19 553.05 367.41C553.40 367.63 553.58 368.08 553.69 368.22Z" stroke="#0080ff" stroke-width="3.20"/>
<path d="M552.70 377.55C552.66 377.71 552.67 378.20 552.46 378.53C552.25 378.86 551.89 379.22 551.44 379.52C551.00 379.83 550.40 380.14 549.79 380.37C549.18 380.61 548.45 380.82 547.76 380.96C547.07 381.09 546.32 381.17 545.66 381.18C545.00 381.19 544.33 381.13 543.81 381.01C543.28 380.89 542.80 380.70 542.49 380.47C542.17 380.24 541.96 379.95 541.90 379.65C541.84 379.35 541.93 379.00 542.14 378.67C542.35 378.34 542.71 377.98 543.16 377.68C543.60 377.37 544.20 377.06 544.81 376.83C545.42 376.59 546.15 376.38 546.84 376.24C547.53 376.11 548.28 376.03 548.94 376.02C549.60 376.01 550.27 376.07 550.79 376.19C551.32 376.31 551.80 376.50 552.11 376.73C552.43 376.96 552.60 377.41 552.70 377.55Z" stroke="#0080ff" stroke-width="3.20"/>
<path d="M528.70 333.20C529.82 333.62 533.22 334.62 535.40 335.70C537.58 336.78 539.93 338.37 541.80 339.70C543.67 341.03 545.13 342.68 546.60 343.70C548.07 344.72 549.93 345.45 550.60 345.80" stroke="#00d6ff" stroke-width="2.81"/>
<path d="M560.00 345.47C559.96 345.61 559.96 346.04 559.75 346.34C559.54 346.63 559.17 346.95 558.73 347.23C558.29 347.51 557.70 347.79 557.10 348.01C556.49 348.23 555.78 348.43 555.10 348.56C554.42 348.69 553.69 348.78 553.04 348.80C552.40 348.82 551.75 348.78 551.24 348.69C550.72 348.59 550.26 348.43 549.96 348.24C549.65 348.05 549.45 347.79 549.40 347.53C549.35 347.27 549.44 346.96 549.65 346.66C549.86 346.37 550.23 346.05 550.67 345.77C551.11 345.49 551.70 345.21 552.30 344.99C552.91 344.77 553.62 344.57 554.30 344.44C554.98 344.31 555.71 344.22 556.36 344.20C557.00 344.18 557.65 344.22 558.16 344.31C558.68 344.41 559.14 344.57 559.44 344.76C559.75 344.95 559.91 345.35 560.00 345.47Z" stroke="#00d6ff" stroke-width="2.81"/>
<path d="M556.99 352.69C556.95 352.85 556.95 353.30 556.72 353.60C556.49 353.91 556.10 354.25 555.62 354.54C555.15 354.84 554.52 355.14 553.87 355.37C553.22 355.61 552.45 355.82 551.72 355.96C550.99 356.10 550.20 356.19 549.51 356.22C548.82 356.24 548.12 356.20 547.57 356.11C547.02 356.01 546.53 355.85 546.20 355.65C545.87 355.45 545.66 355.18 545.61 354.91C545.55 354.63 545.65 354.30 545.88 354.00C546.11 353.69 546.50 353.35 546.98 353.06C547.45 352.76 548.08 352.46 548.73 352.23C549.38 351.99 550.15 351.78 550.88 351.64C551.61 351.50 552.40 351.41 553.09 351.38C553.78 351.36 554.48 351.40 555.03 351.49C555.58 351.59 556.07 351.75 556.40 351.95C556.73 352.15 556.89 352.57 556.99 352.69Z" stroke="#00d6ff" stroke-width="2.81"/>
<path d="M555.29 359.72C555.24 359.88 555.24 360.37 555.00 360.71C554.75 361.04 554.33 361.41 553.83 361.73C553.32 362.05 552.65 362.37 551.95 362.62C551.26 362.88 550.43 363.10 549.66 363.26C548.88 363.41 548.03 363.50 547.29 363.53C546.55 363.55 545.81 363.51 545.22 363.40C544.63 363.30 544.10 363.11 543.75 362.89C543.40 362.67 543.17 362.38 543.11 362.08C543.06 361.78 543.16 361.43 543.40 361.09C543.65 360.76 544.07 360.39 544.57 360.07C545.08 359.75 545.75 359.43 546.45 359.18C547.14 358.92 547.97 358.70 548.74 358.54C549.52 358.39 550.37 358.30 551.11 358.27C551.85 358.25 552.59 358.29 553.18 358.40C553.77 358.50 554.30 358.69 554.65 358.91C555.00 359.13 555.18 359.58 555.29 359.72Z" stroke="#00d6ff" stroke-width="2.81"/>
<path d="M553.69 368.22C553.64 368.38 553.64 368.87 553.40 369.21C553.15 369.54 552.73 369.91 552.23 370.23C551.72 370.55 551.05 370.87 550.35 371.12C549.66 371.38 548.83 371.60 548.06 371.76C547.28 371.91 546.43 372.00 545.69 372.03C544.95 372.05 544.21 372.01 543.62 371.90C543.03 371.80 542.50 371.61 542.15 371.39C541.80 371.17 541.57 370.88 541.51 370.58C541.46 370.28 541.56 369.93 541.80 369.59C542.05 369.26 542.47 368.89 542.97 368.57C543.48 368.25 544.15 367.93 544.85 367.68C545.54 367.42 546.37 367.20 547.14 367.04C547.92 366.89 548.77 366.80 549.51 366.77C550.25 366.75 550.99 366.79 551.58 366.90C552.17 367.00 552.70 367.19 553.05 367.41C553.40 367.63 553.58 368.08 553.69 368.22Z" stroke="#00d6ff" stroke-width="2.81"/>
<path d="M552.70 377.55C552.66 377.71 552.67 378.20 552.46 378.53C552.25 378.86 551.89 379.22 551.44 379.52C551.00 379.83 550.40 380.14 549.79 380.37C549.18 380.61 548.45 380.82 547.76 380.96C547.07 381.09 546.32 381.17 545.66 381.18C545.00 381.19 544.33 381.13 543.81 381.01C543.28 380.89 542.80 380.70 542.49 380.47C542.17 380.24 541.96 379.95 541.90 379.65C541.84 379.35 541.93 379.00 542.14 378.67C542.35 378.34 542.71 377.98 543.16 377.68C543.60 377.37 544.20 377.06 544.81 376.83C545.42 376.59 546.15 376.38 546.84 376.24C547.53 376.11 548.28 376.03 548.94 376.02C549.60 376.01 550.27 376.07 550.79 376.19C551.32 376.31 551.80 376.50 552.11 376.73C552.43 376.96 552.60 377.41 552.70 377.55Z" stroke="#00d6ff" stroke-width="2.81"/>
<path d="M528.70 333.20C529.82 333.62 533.22 334.62 535.40 335.70C537.58 336.78 539.93 338.37 541.80 339.70C543.67 341.03 545.13 342.68 546.60 343.70C548.07 344.72 549.93 345.45 550.60 345.80" stroke="#2effd1" stroke-width="2.42"/>
<path d="M560.00 345.47C559.96 345.61 559.96 346.04 559.75 346.34C559.54 346.63 559.17 346.95 558.73 347.23C558.29 347.51 557.70 347.79 557.10 348.01C556.49 348.23 555.78 348.43 555.10 348.56C554.42 348.69 553.69 348.78 553.04 348.80C552.40 348.82 551.75 348.78 551.24 348.69C550.72 348.59 550.26 348.43 549.96 348.24C549.65 348.05 549.45 347.79 549.40 347.53C549.35 347.27 549.44 346.96 549.65 346.66C549.86 346.37 550.23 346.05 550.67 345.77C551.11 345.49 551.70 345.21 552.30 344.99C552.91 344.77 553.62 344.57 554.30 344.44C554.98 344.31 555.71 344.22 556.36 344.20C557.00 344.18 557.65 344.22 558.16 344.31C558.68 344.41 559.14 344.57 559.44 344.76C559.75 344.95 559.91 345.35 560.00 345.47Z" stroke="#2effd1" stroke-width="2.42"/>
<path d="M556.99 352.69C556.95 352.85 556.95 353.30 556.72 353.60C556.49 353.91 556.10 354.25 555.62 354.54C555.15 354.84 554.52 355.14 553.87 355.37C553.22 355.61 552.45 355.82 551.72 355.96C550.99 356.10 550.20 356.19 549.51 356.22C548.82 356.24 548.12 356.20 547.57 356.11C547.02 356.01 546.53 355.85 546.20 355.65C545.87 355.45 545.66 355.18 545.61 354.91C545.55 354.63 545.65 354.30 545.88 354.00C546.11 353.69 546.50 353.35 546.98 353.06C547.45 352.76 548.08 352.46 548.73 352.23C549.38 351.99 550.15 351.78 550.88 351.64C551.61 351.50 552.40 351.41 553.09 351.38C553.78 351.36 554.48 351.40 555.03 351.49C555.58 351.59 556.07 351.75 556.40 351.95C556.73 352.15 556.89 352.57 556.99 352.69Z" stroke="#2effd1" stroke-width="2.42"/>
<path d="M555.29 359.72C555.24 359.88 555.24 360.37 555.00 360.71C554.75 361.04 554.33 361.41 553.83 361.73C553.32 362.05 552.65 362.37 551.95 362.62C551.26 362.88 550.43 363.10 549.66 363.26C548.88 363.41 548.03 363.50 547.29 363.53C546.55 363.55 545.81 363.51 545.22 363.40C544.63 363.30 544.10 363.11 543.75 362.89C543.40 362.67 543.17 362.38 543.11 362.08C543.06 361.78 543.16 361.43 543.40 361.09C543.65 360.76 544.07 360.39 544.57 360.07C545.08 359.75 545.75 359.43 546.45 359.18C547.14 358.92 547.97 358.70 548.74 358.54C549.52 358.39 550.37 358.30 551.11 358.27C551.85 358.25 552.59 358.29 553.18 358.40C553.77 358.50 554.30 358.69 554.65 358.91C555.00 359.13 555.18 359.58 555.29 359.72Z" stroke="#2effd1" stroke-width="2.42"/>
<path d="M553.69 368.22C553.64 368.38 553.64 368.87 553.40 369.21C553.15 369.54 552.73 369.91 552.23 370.23C551.72 370.55 551.05 370.87 550.35 371.12C549.66 371.38 548.83 371.60 548.06 371.76C547.28 371.91 546.43 372.00 545.69 372.03C544.95 372.05 544.21 372.01 543.62 371.90C543.03 371.80 542.50 371.61 542.15 371.39C541.80 371.17 541.57 370.88 541.51 370.58C541.46 370.28 541.56 369.93 541.80 369.59C542.05 369.26 542.47 368.89 542.97 368.57C543.48 368.25 544.15 367.93 544.85 367.68C545.54 367.42 546.37 367.20 547.14 367.04C547.92 366.89 548.77 366.80 549.51 366.77C550.25 366.75 550.99 366.79 551.58 366.90C552.17 367.00 552.70 367.19 553.05 367.41C553.40 367.63 553.58 368.08 553.69 368.22Z" stroke="#2effd1" stroke-width="2.42"/>
<path d="M552.70 377.55C552.66 377.71 552.67 378.20 552.46 378.53C552.25 378.86 551.89 379.22 551.44 379.52C551.00 379.83 550.40 380.14 549.79 380.37C549.18 380.61 548.45 380.82 547.76 380.96C547.07 381.09 546.32 381.17 545.66 381.18C545.00 381.19 544.33 381.13 543.81 381.01C543.28 380.89 542.80 380.70 542.49 380.47C542.17 380.24 541.96 379.95 541.90 379.65C541.84 379.35 541.93 379.00 542.14 378.67C542.35 378.34 542.71 377.98 543.16 377.68C543.60 377.37 544.20 377.06 544.81 376.83C545.42 376.59 546.15 376.38 546.84 376.24C547.53 376.11 548.28 376.03 548.94 376.02C549.60 376.01 550.27 376.07 550.79 376.19C551.32 376.31 551.80 376.50 552.11 376.73C552.43 376.96 552.60 377.41 552.70 377.55Z" stroke="#2effd1" stroke-width="2.42"/>
<path d="M528.70 333.20C529.82 333.62 533.22 334.62 535.40 335.70C537.58 336.78 539.93 338.37 541.80 339.70C543.67 341.03 545.13 342.68 546.60 343.70C548.07 344.72 549.93 345.45 550.60 345.80" stroke="#85ff7a" stroke-width="2.04"/>
<path d="M560.00 345.47C559.96 345.61 559.96 346.04 559.75 346.34C559.54 346.63 559.17 346.95 558.73 347.23C558.29 347.51 557.70 347.79 557.10 348.01C556.49 348.23 555.78 348.43 555.10 348.56C554.42 348.69 553.69 348.78 553.04 348.80C552.40 348.82 551.75 348.78 551.24 348.69C550.72 348.59 550.26 348.43 549.96 348.24C549.65 348.05 549.45 347.79 549.40 347.53C549.35 347.27 549.44 346.96 549.65 346.66C549.86 346.37 550.23 346.05 550.67 345.77C551.11 345.49 551.70 345.21 552.30 344.99C552.91 344.77 553.62 344.57 554.30 344.44C554.98 344.31 555.71 344.22 556.36 344.20C557.00 344.18 557.65 344.22 558.16 344.31C558.68 344.41 559.14 344.57 559.44 344.76C559.75 344.95 559.91 345.35 560.00 345.47Z" stroke="#85ff7a" stroke-width="2.04"/>
<path d="M556.99 352.69C556.95 352.85 556.95 353.30 556.72 353.60C556.49 353.91 556.10 354.25 555.62 354.54C555.15 354.84 554.52 355.14 553.87 355.37C553.22 355.61 552.45 355.82 551.72 355.96C550.99 356.10 550.20 356.19 549.51 356.22C548.82 356.24 548.12 356.20 547.57 356.11C547.02 356.01 546.53 355.85 546.20 355.65C545.87 355.45 545.66 355.18 545.61 354.91C545.55 354.63 545.65 354.30 545.88 354.00C546.11 353.69 546.50 353.35 546.98 353.06C547.45 352.76 548.08 352.46 548.73 352.23C549.38 351.99 550.15 351.78 550.88 351.64C551.61 351.50 552.40 351.41 553.09 351.38C553.78 351.36 554.48 351.40 555.03 351.49C555.58 351.59 556.07 351.75 556.40 351.95C556.73 352.15 556.89 352.57 556.99 352.69Z" stroke="#85ff7a" stroke-width="2.04"/>
<path d="M555.29 359.72C555.24 359.88 555.24 360.37 555.00 360.71C554.75 361.04 554.33 361.41 553.83 361.73C553.32 362.05 552.65 362.37 551.95 362.62C551.26 362.88 550.43 363.10 549.66 363.26C548.88 363.41 548.03 363.50 547.29 363.53C546.55 363.55 545.81 363.51 545.22 363.40C544.63 363.30 544.10 363.11 543.75 362.89C543.40 362.67 543.17 362.38 543.11 362.08C543.06 361.78 543.16 361.43 543.40 361.09C543.65 360.76 544.07 360.39 544.57 360.07C545.08 359.75 545.75 359.43 546.45 359.18C547.14 358.92 547.97 358.70 548.74 358.54C549.52 358.39 550.37 358.30 551.11 358.27C551.85 358.25 552.59 358.29 553.18 358.40C553.77 358.50 554.30 358.69 554.65 358.91C555.00 359.13 555.18 359.58 555.29 359.72Z" stroke="#85ff7a" stroke-width="2.04"/>
<path d="M553.69 368.22C553.64 368.38 553.64 368.87 553.40 369.21C553.15 369.54 552.73 369.91 552.23 370.23C551.72 370.55 551.05 370.87 550.35 371.12C549.66 371.38 548.83 371.60 548.06 371.76C547.28 371.91 546.43 372.00 545.69 372.03C544.95 372.05 544.21 372.01 543.62 371.90C543.03 371.80 542.50 371.61 542.15 371.39C541.80 371.17 541.57 370.88 541.51 370.58C541.46 370.28 541.56 369.93 541.80 369.59C542.05 369.26 542.47 368.89 542.97 368.57C543.48 368.25 544.15 367.93 544.85 367.68C545.54 367.42 546.37 367.20 547.14 367.04C547.92 366.89 548.77 366.80 549.51 366.77C550.25 366.75 550.99 366.79 551.58 366.90C552.17 367.00 552.70 367.19 553.05 367.41C553.40 367.63 553.58 368.08 553.69 368.22Z" stroke="#85ff7a" stroke-width="2.04"/>
<path d="M552.70 377.55C552.66 377.71 552.67 378.20 552.46 378.53C552.25 378.86 551.89 379.22 551.44 379.52C551.00 379.83 550.40 380.14 549.79 380.37C549.18 380.61 548.45 380.82 547.76 380.96C547.07 381.09 546.32 381.17 545.66 381.18C545.00 381.19 544.33 381.13 543.81 381.01C543.28 380.89 542.80 380.70 542.49 380.47C542.17 380.24 541.96 379.95 541.90 379.65C541.84 379.35 541.93 379.00 542.14 378.67C542.35 378.34 542.71 377.98 543.16 377.68C543.60 377.37 544.20 377.06 544.81 376.83C545.42 376.59 546.15 376.38 546.84 376.24C547.53 376.11 548.28 376.03 548.94 376.02C549.60 376.01 550.27 376.07 550.79 376.19C551.32 376.31 551.80 376.50 552.11 376.73C552.43 376.96 552.60 377.41 552.70 377.55Z" stroke="#85ff7a" stroke-width="2.04"/>
<path d="M528.70 333.20C529.82 333.62 533.22 334.62 535.40 335.70C537.58 336.78 539.93 338.37 541.80 339.70C543.67 341.03 545.13 342.68 546.60 343.70C548.07 344.72 549.93 345.45 550.60 345.80" stroke="#dbff24" stroke-width="1.65"/>
<path d="M560.00 345.47C559.96 345.61 559.96 346.04 559.75 346.34C559.54 346.63 559.17 346.95 558.73 347.23C558.29 347.51 557.70 347.79 557.10 348.01C556.49 348.23 555.78 348.43 555.10 348.56C554.42 348.69 553.69 348.78 553.04 348.80C552.40 348.82 551.75 348.78 551.24 348.69C550.72 348.59 550.26 348.43 549.96 348.24C549.65 348.05 549.45 347.79 549.40 347.53C549.35 347.27 549.44 346.96 549.65 346.66C549.86 346.37 550.23 346.05 550.67 345.77C551.11 345.49 551.70 345.21 552.30 344.99C552.91 344.77 553.62 344.57 554.30 344.44C554.98 344.31 555.71 344.22 556.36 344.20C557.00 344.18 557.65 344.22 558.16 344.31C558.68 344.41 559.14 344.57 559.44 344.76C559.75 344.95 559.91 345.35 560.00 345.47Z" stroke="#dbff24" stroke-width="1.65"/>
<path d="M556.99 352.69C556.95 352.85 556.95 353.30 556.72 353.60C556.49 353.91 556.10 354.25 555.62 354.54C555.15 354.84 554.52 355.14 553.87 355.37C553.22 355.61 552.45 355.82 551.72 355.96C550.99 356.10 550.20 356.19 549.51 356.22C548.82 356.24 548.12 356.20 547.57 356.11C547.02 356.01 546.53 355.85 546.20 355.65C545.87 355.45 545.66 355.18 545.61 354.91C545.55 354.63 545.65 354.30 545.88 354.00C546.11 353.69 546.50 353.35 546.98 353.06C547.45 352.76 548.08 352.46 548.73 352.23C549.38 351.99 550.15 351.78 550.88 351.64C551.61 351.50 552.40 351.41 553.09 351.38C553.78 351.36 554.48 351.40 555.03 351.49C555.58 351.59 556.07 351.75 556.40 351.95C556.73 352.15 556.89 352.57 556.99 352.69Z" stroke="#dbff24" stroke-width="1.65"/>
<path d="M555.29 359.72C555.24 359.88 555.24 360.37 555.00 360.71C554.75 361.04 554.33 361.41 553.83 361.73C553.32 362.05 552.65 362.37 551.95 362.62C551.26 362.88 550.43 363.10 549.66 363.26C548.88 363.41 548.03 363.50 547.29 363.53C546.55 363.55 545.81 363.51 545.22 363.40C544.63 363.30 544.10 363.11 543.75 362.89C543.40 362.67 543.17 362.38 543.11 362.08C543.06 361.78 543.16 361.43 543.40 361.09C543.65 360.76 544.07 360.39 544.57 360.07C545.08 359.75 545.75 359.43 546.45 359.18C547.14 358.92 547.97 358.70 548.74 358.54C549.52 358.39 550.37 358.30 551.11 358.27C551.85 358.25 552.59 358.29 553.18 358.40C553.77 358.50 554.30 358.69 554.65 358.91C555.00 359.13 555.18 359.58 555.29 359.72Z" stroke="#dbff24" stroke-width="1.65"/>
<path d="M553.69 368.22C553.64 368.38 553.64 368.87 553.40 369.21C553.15 369.54 552.73 369.91 552.23 370.23C551.72 370.55 551.05 370.87 550.35 371.12C549.66 371.38 548.83 371.60 548.06 371.76C547.28 371.91 546.43 372.00 545.69 372.03C544.95 372.05 544.21 372.01 543.62 371.90C543.03 371.80 542.50 371.61 542.15 371.39C541.80 371.17 541.57 370.88 541.51 370.58C541.46 370.28 541.56 369.93 541.80 369.59C542.05 369.26 542.47 368.89 542.97 368.57C543.48 368.25 544.15 367.93 544.85 367.68C545.54 367.42 546.37 367.20 547.14 367.04C547.92 366.89 548.77 366.80 549.51 366.77C550.25 366.75 550.99 366.79 551.58 366.90C552.17 367.00 552.70 367.19 553.05 367.41C553.40 367.63 553.58 368.08 553.69 368.22Z" stroke="#dbff24" stroke-width="1.65"/>
<path d="M552.70 377.55C552.66 377.71 552.67 378.20 552.46 378.53C552.25 378.86 551.89 379.22 551.44 379.52C551.00 379.83 550.40 380.14 549.79 380.37C549.18 380.61 548.45 380.82 547.76 380.96C547.07 381.09 546.32 381.17 545.66 381.18C545.00 381.19 544.33 381.13 543.81 381.01C543.28 380.89 542.80 380.70 542.49 380.47C542.17 380.24 541.96 379.95 541.90 379.65C541.84 379.35 541.93 379.00 542.14 378.67C542.35 378.34 542.71 377.98 543.16 377.68C543.60 377.37 544.20 377.06 544.81 376.83C545.42 376.59 546.15 376.38 546.84 376.24C547.53 376.11 548.28 376.03 548.94 376.02C549.60 376.01 550.27 376.07 550.79 376.19C551.32 376.31 551.80 376.50 552.11 376.73C552.43 376.96 552.60 377.41 552.70 377.55Z" stroke="#dbff24" stroke-width="1.65"/>
<path d="M528.70 333.20C529.82 333.62 533.22 334.62 535.40 335.70C537.58 336.78 539.93 338.37 541.80 339.70C543.67 341.03 545.13 342.68 546.60 343.70C548.07 344.72 549.93 345.45 550.60 345.80" stroke="#ffcc00" stroke-width="1.26"/>
<path d="M560.00 345.47C559.96 345.61 559.96 346.04 559.75 346.34C559.54 346.63 559.17 346.95 558.73 347.23C558.29 347.51 557.70 347.79 557.10 348.01C556.49 348.23 555.78 348.43 555.10 348.56C554.42 348.69 553.69 348.78 553.04 348.80C552.40 348.82 551.75 348.78 551.24 348.69C550.72 348.59 550.26 348.43 549.96 348.24C549.65 348.05 549.45 347.79 549.40 347.53C549.35 347.27 549.44 346.96 549.65 346.66C549.86 346.37 550.23 346.05 550.67 345.77C551.11 345.49 551.70 345.21 552.30 344.99C552.91 344.77 553.62 344.57 554.30 344.44C554.98 344.31 555.71 344.22 556.36 344.20C557.00 344.18 557.65 344.22 558.16 344.31C558.68 344.41 559.14 344.57 559.44 344.76C559.75 344.95 559.91 345.35 560.00 345.47Z" stroke="#ffcc00" stroke-width="1.26"/>
<path d="M556.99 352.69C556.95 352.85 556.95 353.30 556.72 353.60C556.49 353.91 556.10 354.25 555.62 354.54C555.15 354.84 554.52 355.14 553.87 355.37C553.22 355.61 552.45 355.82 551.72 355.96C550.99 356.10 550.20 356.19 549.51 356.22C548.82 356.24 548.12 356.20 547.57 356.11C547.02 356.01 546.53 355.85 546.20 355.65C545.87 355.45 545.66 355.18 545.61 354.91C545.55 354.63 545.65 354.30 545.88 354.00C546.11 353.69 546.50 353.35 546.98 353.06C547.45 352.76 548.08 352.46 548.73 352.23C549.38 351.99 550.15 351.78 550.88 351.64C551.61 351.50 552.40 351.41 553.09 351.38C553.78 351.36 554.48 351.40 555.03 351.49C555.58 351.59 556.07 351.75 556.40 351.95C556.73 352.15 556.89 352.57 556.99 352.69Z" stroke="#ffcc00" stroke-width="1.26"/>
<path d="M555.29 359.72C555.24 359.88 555.24 360.37 555.00 360.71C554.75 361.04 554.33 361.41 553.83 361.73C553.32 362.05 552.65 362.37 551.95 362.62C551.26 362.88 550.43 363.10 549.66 363.26C548.88 363.41 548.03 363.50 547.29 363.53C546.55 363.55 545.81 363.51 545.22 363.40C544.63 363.30 544.10 363.11 543.75 362.89C543.40 362.67 543.17 362.38 543.11 362.08C543.06 361.78 543.16 361.43 543.40 361.09C543.65 360.76 544.07 360.39 544.57 360.07C545.08 359.75 545.75 359.43 546.45 359.18C547.14 358.92 547.97 358.70 548.74 358.54C549.52 358.39 550.37 358.30 551.11 358.27C551.85 358.25 552.59 358.29 553.18 358.40C553.77 358.50 554.30 358.69 554.65 358.91C555.00 359.13 555.18 359.58 555.29 359.72Z" stroke="#ffcc00" stroke-width="1.26"/>
<path d="M553.69 368.22C553.64 368.38 553.64 368.87 553.40 369.21C553.15 369.54 552.73 369.91 552.23 370.23C551.72 370.55 551.05 370.87 550.35 371.12C549.66 371.38 548.83 371.60 548.06 371.76C547.28 371.91 546.43 372.00 545.69 372.03C544.95 372.05 544.21 372.01 543.62 371.90C543.03 371.80 542.50 371.61 542.15 371.39C541.80 371.17 541.57 370.88 541.51 370.58C541.46 370.28 541.56 369.93 541.80 369.59C542.05 369.26 542.47 368.89 542.97 368.57C543.48 368.25 544.15 367.93 544.85 367.68C545.54 367.42 546.37 367.20 547.14 367.04C547.92 366.89 548.77 366.80 549.51 366.77C550.25 366.75 550.99 366.79 551.58 366.90C552.17 367.00 552.70 367.19 553.05 367.41C553.40 367.63 553.58 368.08 553.69 368.22Z" stroke="#ffcc00" stroke-width="1.26"/>
<path d="M552.70 377.55C552.66 377.71 552.67 378.20 552.46 378.53C552.25 378.86 551.89 379.22 551.44 379.52C551.00 379.83 550.40 380.14 549.79 380.37C549.18 380.61 548.45 380.82 547.76 380.96C547.07 381.09 546.32 381.17 545.66 381.18C545.00 381.19 544.33 381.13 543.81 381.01C543.28 380.89 542.80 380.70 542.49 380.47C542.17 380.24 541.96 379.95 541.90 379.65C541.84 379.35 541.93 379.00 542.14 378.67C542.35 378.34 542.71 377.98 543.16 377.68C543.60 377.37 544.20 377.06 544.81 376.83C545.42 376.59 546.15 376.38 546.84 376.24C547.53 376.11 548.28 376.03 548.94 376.02C549.60 376.01 550.27 376.07 550.79 376.19C551.32 376.31 551.80 376.50 552.11 376.73C552.43 376.96 552.60 377.41 552.70 377.55Z" stroke="#ffcc00" stroke-width="1.26"/>
<path d="M528.70 333.20C529.82 333.62 533.22 334.62 535.40 335.70C537.58 336.78 539.93 338.37 541.80 339.70C543.67 341.03 545.13 342.68 546.60 343.70C548.07 344.72 549.93 345.45 550.60 345.80" stroke="#ff7500" stroke-width="0.87"/>
<path d="M560.00 345.47C559.96 345.61 559.96 346.04 559.75 346.34C559.54 346.63 559.17 346.95 558.73 347.23C558.29 347.51 557.70 347.79 557.10 348.01C556.49 348.23 555.78 348.43 555.10 348.56C554.42 348.69 553.69 348.78 553.04 348.80C552.40 348.82 551.75 348.78 551.24 348.69C550.72 348.59 550.26 348.43 549.96 348.24C549.65 348.05 549.45 347.79 549.40 347.53C549.35 347.27 549.44 346.96 549.65 346.66C549.86 346.37 550.23 346.05 550.67 345.77C551.11 345.49 551.70 345.21 552.30 344.99C552.91 344.77 553.62 344.57 554.30 344.44C554.98 344.31 555.71 344.22 556.36 344.20C557.00 344.18 557.65 344.22 558.16 344.31C558.68 344.41 559.14 344.57 559.44 344.76C559.75 344.95 559.91 345.35 560.00 345.47Z" stroke="#ff7500" stroke-width="0.87"/>
<path d="M556.99 352.69C556.95 352.85 556.95 353.30 556.72 353.60C556.49 353.91 556.10 354.25 555.62 354.54C555.15 354.84 554.52 355.14 553.87 355.37C553.22 355.61 552.45 355.82 551.72 355.96C550.99 356.10 550.20 356.19 549.51 356.22C548.82 356.24 548.12 356.20 547.57 356.11C547.02 356.01 546.53 355.85 546.20 355.65C545.87 355.45 545.66 355.18 545.61 354.91C545.55 354.63 545.65 354.30 545.88 354.00C546.11 353.69 546.50 353.35 546.98 353.06C547.45 352.76 548.08 352.46 548.73 352.23C549.38 351.99 550.15 351.78 550.88 351.64C551.61 351.50 552.40 351.41 553.09 351.38C553.78 351.36 554.48 351.40 555.03 351.49C555.58 351.59 556.07 351.75 556.40 351.95C556.73 352.15 556.89 352.57 556.99 352.69Z" stroke="#ff7500" stroke-width="0.87"/>
<path d="M555.29 359.72C555.24 359.88 555.24 360.37 555.00 360.71C554.75 361.04 554.33 361.41 553.83 361.73C553.32 362.05 552.65 362.37 551.95 362.62C551.26 362.88 550.43 363.10 549.66 363.26C548.88 363.41 548.03 363.50 547.29 363.53C546.55 363.55 545.81 363.51 545.22 363.40C544.63 363.30 544.10 363.11 543.75 362.89C543.40 362.67 543.17 362.38 543.11 362.08C543.06 361.78 543.16 361.43 543.40 361.09C543.65 360.76 544.07 360.39 544.57 360.07C545.08 359.75 545.75 359.43 546.45 359.18C547.14 358.92 547.97 358.70 548.74 358.54C549.52 358.39 550.37 358.30 551.11 358.27C551.85 358.25 552.59 358.29 553.18 358.40C553.77 358.50 554.30 358.69 554.65 358.91C555.00 359.13 555.18 359.58 555.29 359.72Z" stroke="#ff7500" stroke-width="0.87"/>
<path d="M553.69 368.22C553.64 368.38 553.64 368.87 553.40 369.21C553.15 369.54 552.73 369.91 552.23 370.23C551.72 370.55 551.05 370.87 550.35 371.12C549.66 371.38 548.83 371.60 548.06 371.76C547.28 371.91 546.43 372.00 545.69 372.03C544.95 372.05 544.21 372.01 543.62 371.90C543.03 371.80 542.50 371.61 542.15 371.39C541.80 371.17 541.57 370.88 541.51 370.58C541.46 370.28 541.56 369.93 541.80 369.59C542.05 369.26 542.47 368.89 542.97 368.57C543.48 368.25 544.15 367.93 544.85 367.68C545.54 367.42 546.37 367.20 547.14 367.04C547.92 366.89 548.77 366.80 549.51 366.77C550.25 366.75 550.99 366.79 551.58 366.90C552.17 367.00 552.70 367.19 553.05 367.41C553.40 367.63 553.58 368.08 553.69 368.22Z" stroke="#ff7500" stroke-width="0.87"/>
<path d="M552.70 377.55C552.66 377.71 552.67 378.20 552.46 378.53C552.25 378.86 551.89 379.22 551.44 379.52C551.00 379.83 550.40 380.14 549.79 380.37C549.18 380.61 548.45 380.82 547.76 380.96C547.07 381.09 546.32 381.17 545.66 381.18C545.00 381.19 544.33 381.13 543.81 381.01C543.28 380.89 542.80 380.70 542.49 380.47C542.17 380.24 541.96 379.95 541.90 379.65C541.84 379.35 541.93 379.00 542.14 378.67C542.35 378.34 542.71 377.98 543.16 377.68C543.60 377.37 544.20 377.06 544.81 376.83C545.42 376.59 546.15 376.38 546.84 376.24C547.53 376.11 548.28 376.03 548.94 376.02C549.60 376.01 550.27 376.07 550.79 376.19C551.32 376.31 551.80 376.50 552.11 376.73C552.43 376.96 552.60 377.41 552.70 377.55Z" stroke="#ff7500" stroke-width="0.87"/>
<path d="M528.70 333.20C529.82 333.62 533.22 334.62 535.40 335.70C537.58 336.78 539.93 338.37 541.80 339.70C543.67 341.03 545.13 342.68 546.60 343.70C548.07 344.72 549.93 345.45 550.60 345.80" stroke="#ff1f00" stroke-width="0.48"/>
<path d="M560.00 345.47C559.96 345.61 559.96 346.04 559.75 346.34C559.54 346.63 559.17 346.95 558.73 347.23C558.29 347.51 557.70 347.79 557.10 348.01C556.49 348.23 555.78 348.43 555.10 348.56C554.42 348.69 553.69 348.78 553.04 348.80C552.40 348.82 551.75 348.78 551.24 348.69C550.72 348.59 550.26 348.43 549.96 348.24C549.65 348.05 549.45 347.79 549.40 347.53C549.35 347.27 549.44 346.96 549.65 346.66C549.86 346.37 550.23 346.05 550.67 345.77C551.11 345.49 551.70 345.21 552.30 344.99C552.91 344.77 553.62 344.57 554.30 344.44C554.98 344.31 555.71 344.22 556.36 344.20C557.00 344.18 557.65 344.22 558.16 344.31C558.68 344.41 559.14 344.57 559.44 344.76C559.75 344.95 559.91 345.35 560.00 345.47Z" stroke="#ff1f00" stroke-width="0.48"/>
<path d="M556.99 352.69C556.95 352.85 556.95 353.30 556.72 353.60C556.49 353.91 556.10 354.25 555.62 354.54C555.15 354.84 554.52 355.14 553.87 355.37C553.22 355.61 552.45 355.82 551.72 355.96C550.99 356.10 550.20 356.19 549.51 356.22C548.82 356.24 548.12 356.20 547.57 356.11C547.02 356.01 546.53 355.85 546.20 355.65C545.87 355.45 545.66 355.18 545.61 354.91C545.55 354.63 545.65 354.30 545.88 354.00C546.11 353.69 546.50 353.35 546.98 353.06C547.45 352.76 548.08 352.46 548.73 352.23C549.38 351.99 550.15 351.78 550.88 351.64C551.61 351.50 552.40 351.41 553.09 351.38C553.78 351.36 554.48 351.40 555.03 351.49C555.58 351.59 556.07 351.75 556.40 351.95C556.73 352.15 556.89 352.57 556.99 352.69Z" stroke="#ff1f00" stroke-width="0.48"/>
<path d="M555.29 359.72C555.24 359.88 555.24 360.37 555.00 360.71C554.75 361.04 554.33 361.41 553.83 361.73C553.32 362.05 552.65 362.37 551.95 362.62C551.26 362.88 550.43 363.10 549.66 363.26C548.88 363.41 548.03 363.50 547.29 363.53C546.55 363.55 545.81 363.51 545.22 363.40C544.63 363.30 544.10 363.11 543.75 362.89C543.40 362.67 543.17 362.38 543.11 362.08C543.06 361.78 543.16 361.43 543.40 361.09C543.65 360.76 544.07 360.39 544.57 360.07C545.08 359.75 545.75 359.43 546.45 359.18C547.14 358.92 547.97 358.70 548.74 358.54C549.52 358.39 550.37 358.30 551.11 358.27C551.85 358.25 552.59 358.29 553.18 358.40C553.77 358.50 554.30 358.69 554.65 358.91C555.00 359.13 555.18 359.58 555.29 359.72Z" stroke="#ff1f00" stroke-width="0.48"/>
<path d="M553.69 368.22C553.64 368.38 553.64 368.87 553.40 369.21C553.15 369.54 552.73 369.91 552.23 370.23C551.72 370.55 551.05 370.87 550.35 371.12C549.66 371.38 548.83 371.60 548.06 371.76C547.28 371.91 546.43 372.00 545.69 372.03C544.95 372.05 544.21 372.01 543.62 371.90C543.03 371.80 542.50 371.61 542.15 371.39C541.80 371.17 541.57 370.88 541.51 370.58C541.46 370.28 541.56 369.93 541.80 369.59C542.05 369.26 542.47 368.89 542.97 368.57C543.48 368.25 544.15 367.93 544.85 367.68C545.54 367.42 546.37 367.20 547.14 367.04C547.92 366.89 548.77 366.80 549.51 366.77C550.25 366.75 550.99 366.79 551.58 366.90C552.17 367.00 552.70 367.19 553.05 367.41C553.40 367.63 553.58 368.08 553.69 368.22Z" stroke="#ff1f00" stroke-width="0.48"/>
<path d="M552.70 377.55C552.66 377.71 552.67 378.20 552.46 378.53C552.25 378.86 551.89 379.22 551.44 379.52C551.00 379.83 550.40 380.14 549.79 380.37C549.18 380.61 548.45 380.82 547.76 380.96C547.07 381.09 546.32 381.17 545.66 381.18C545.00 381.19 544.33 381.13 543.81 381.01C543.28 380.89 542.80 380.70 542.49 380.47C542.17 380.24 541.96 379.95 541.90 379.65C541.84 379.35 541.93 379.00 542.14 378.67C542.35 378.34 542.71 377.98 543.16 377.68C543.60 377.37 544.20 377.06 544.81 376.83C545.42 376.59 546.15 376.38 546.84 376.24C547.53 376.11 548.28 376.03 548.94 376.02C549.60 376.01 550.27 376.07 550.79 376.19C551.32 376.31 551.80 376.50 552.11 376.73C552.43 376.96 552.60 377.41 552.70 377.55Z" stroke="#ff1f00" stroke-width="0.48"/>
<path d="M528.70 333.20C529.82 333.62 533.22 334.62 535.40 335.70C537.58 336.78 539.93 338.37 541.80 339.70C543.67 341.03 545.13 342.68 546.60 343.70C548.07 344.72 549.93 345.45 550.60 345.80" stroke="#c70000" stroke-width="0.10"/>
<path d="M560.00 345.47C559.96 345.61 559.96 346.04 559.75 346.34C559.54 346.63 559.17 346.95 558.73 347.23C558.29 347.51 557.70 347.79 557.10 348.01C556.49 348.23 555.78 348.43 555.10 348.56C554.42 348.69 553.69 348.78 553.04 348.80C552.40 348.82 551.75 348.78 551.24 348.69C550.72 348.59 550.26 348.43 549.96 348.24C549.65 348.05 549.45 347.79 549.40 347.53C549.35 347.27 549.44 346.96 549.65 346.66C549.86 346.37 550.23 346.05 550.67 345.77C551.11 345.49 551.70 345.21 552.30 344.99C552.91 344.77 553.62 344.57 554.30 344.44C554.98 344.31 555.71 344.22 556.36 344.20C557.00 344.18 557.65 344.22 558.16 344.31C558.68 344.41 559.14 344.57 559.44 344.76C559.75 344.95 559.91 345.35 560.00 345.47Z" stroke="#c70000" stroke-width="0.10"/>
<path d="M556.99 352.69C556.95 352.85 556.95 353.30 556.72 353.60C556.49 353.91 556.10 354.25 555.62 354.54C555.15 354.84 554.52 355.14 553.87 355.37C553.22 355.61 552.45 355.82 551.72 355.96C550.99 356.10 550.20 356.19 549.51 356.22C548.82 356.24 548.12 356.20 547.57 356.11C547.02 356.01 546.53 355.85 546.20 355.65C545.87 355.45 545.66 355.18 545.61 354.91C545.55 354.63 545.65 354.30 545.88 354.00C546.11 353.69 546.50 353.35 546.98 353.06C547.45 352.76 548.08 352.46 548.73 352.23C549.38 351.99 550.15 351.78 550.88 351.64C551.61 351.50 552.40 351.41 553.09 351.38C553.78 351.36 554.48 351.40 555.03 351.49C555.58 351.59 556.07 351.75 556.40 351.95C556.73 352.15 556.89 352.57 556.99 352.69Z" stroke="#c70000" stroke-width="0.10"/>
<path d="M555.29 359.72C555.24 359.88 555.24 360.37 555.00 360.71C554.75 361.04 554.33 361.41 553.83 361.73C553.32 362.05 552.65 362.37 551.95 362.62C551.26 362.88 550.43 363.10 549.66 363.26C548.88 363.41 548.03 363.50 547.29 363.53C546.55 363.55 545.81 363.51 545.22 363.40C544.63 363.30 544.10 363.11 543.75 362.89C543.40 362.67 543.17 362.38 543.11 362.08C543.06 361.78 543.16 361.43 543.40 361.09C543.65 360.76 544.07 360.39 544.57 360.07C545.08 359.75 545.75 359.43 546.45 359.18C547.14 358.92 547.97 358.70 548.74 358.54C549.52 358.39 550.37 358.30 551.11 358.27C551.85 358.25 552.59 358.29 553.18 358.40C553.77 358.50 554.30 358.69 554.65 358.91C555.00 359.13 555.18 359.58 555.29 359.72Z" stroke="#c70000" stroke-width="0.10"/>
<path d="M553.69 368.22C553.64 368.38 553.64 368.87 553.40 369.21C553.15 369.54 552.73 369.91 552.23 370.23C551.72 370.55 551.05 370.87 550.35 371.12C549.66 371.38 548.83 371.60 548.06 371.76C547.28 371.91 546.43 372.00 545.69 372.03C544.95 372.05 544.21 372.01 543.62 371.90C543.03 371.80 542.50 371.61 542.15 371.39C541.80 371.17 541.57 370.88 541.51 370.58C541.46 370.28 541.56 369.93 541.80 369.59C542.05 369.26 542.47 368.89 542.97 368.57C543.48 368.25 544.15 367.93 544.85 367.68C545.54 367.42 546.37 367.20 547.14 367.04C547.92 366.89 548.77 366.80 549.51 366.77C550.25 366.75 550.99 366.79 551.58 366.90C552.17 367.00 552.70 367.19 553.05 367.41C553.40 367.63 553.58 368.08 553.69 368.22Z" stroke="#c70000" stroke-width="0.10"/>
<path d="M552.70 377.55C552.66 377.71 552.67 378.20 552.46 378.53C552.25 378.86 551.89 379.22 551.44 379.52C551.00 379.83 550.40 380.14 549.79 380.37C549.18 380.61 548.45 380.82 547.76 380.96C547.07 381.09 546.32 381.17 545.66 381.18C545.00 381.19 544.33 381.13 543.81 381.01C543.28 380.89 542.80 380.70 542.49 380.47C542.17 380.24 541.96 379.95 541.90 379.65C541.84 379.35 541.93 379.00 542.14 378.67C542.35 378.34 542.71 377.98 543.16 377.68C543.60 377.37 544.20 377.06 544.81 376.83C545.42 376.59 546.15 376.38 546.84 376.24C547.53 376.11 548.28 376.03 548.94 376.02C549.60 376.01 550.27 376.07 550.79 376.19C551.32 376.31 551.80 376.50 552.11 376.73C552.43 376.96 552.60 377.41 552.70 377.55Z" stroke="#c70000" stroke-width="0.10"/>
</g>
<path d="M560.00 345.47C559.96 345.61 559.96 346.04 559.75 346.34C559.54 346.63 559.17 346.95 558.73 347.23C558.29 347.51 557.70 347.79 557.10 348.01C556.49 348.23 555.78 348.43 555.10 348.56C554.42 348.69 553.69 348.78 553.04 348.80C552.40 348.82 551.75 348.78 551.24 348.69C550.72 348.59 550.26 348.43 549.96 348.24C549.65 348.05 549.45 347.79 549.40 347.53C549.35 347.27 549.44 346.96 549.65 346.66C549.86 346.37 550.23 346.05 550.67 345.77C551.11 345.49 551.70 345.21 552.30 344.99C552.91 344.77 553.62 344.57 554.30 344.44C554.98 344.31 555.71 344.22 556.36 344.20C557.00 344.18 557.65 344.22 558.16 344.31C558.68 344.41 559.14 344.57 559.44 344.76C559.75 344.95 559.91 345.35 560.00 345.47Z" fill="#800000" clip-path="url(#cf)"/>
<path d="M556.99 352.69C556.95 352.85 556.95 353.30 556.72 353.60C556.49 353.91 556.10 354.25 555.62 354.54C555.15 354.84 554.52 355.14 553.87 355.37C553.22 355.61 552.45 355.82 551.72 355.96C550.99 356.10 550.20 356.19 549.51 356.22C548.82 356.24 548.12 356.20 547.57 356.11C547.02 356.01 546.53 355.85 546.20 355.65C545.87 355.45 545.66 355.18 545.61 354.91C545.55 354.63 545.65 354.30 545.88 354.00C546.11 353.69 546.50 353.35 546.98 353.06C547.45 352.76 548.08 352.46 548.73 352.23C549.38 351.99 550.15 351.78 550.88 351.64C551.61 351.50 552.40 351.41 553.09 351.38C553.78 351.36 554.48 351.40 555.03 351.49C555.58 351.59 556.07 351.75 556.40 351.95C556.73 352.15 556.89 352.57 556.99 352.69Z" fill="#800000" clip-path="url(#cf)"/>
<path d="M555.29 359.72C555.24 359.88 555.24 360.37 555.00 360.71C554.75 361.04 554.33 361.41 553.83 361.73C553.32 362.05 552.65 362.37 551.95 362.62C551.26 362.88 550.43 363.10 549.66 363.26C548.88 363.41 548.03 363.50 547.29 363.53C546.55 363.55 545.81 363.51 545.22 363.40C544.63 363.30 544.10 363.11 543.75 362.89C543.40 362.67 543.17 362.38 543.11 362.08C543.06 361.78 543.16 361.43 543.40 361.09C543.65 360.76 544.07 360.39 544.57 360.07C545.08 359.75 545.75 359.43 546.45 359.18C547.14 358.92 547.97 358.70 548.74 358.54C549.52 358.39 550.37 358.30 551.11 358.27C551.85 358.25 552.59 358.29 553.18 358.40C553.77 358.50 554.30 358.69 554.65 358.91C555.00 359.13 555.18 359.58 555.29 359.72Z" fill="#800000" clip-path="url(#cf)"/>
<path d="M553.69 368.22C553.64 368.38 553.64 368.87 553.40 369.21C553.15 369.54 552.73 369.91 552.23 370.23C551.72 370.55 551.05 370.87 550.35 371.12C549.66 371.38 548.83 371.60 548.06 371.76C547.28 371.91 546.43 372.00 545.69 372.03C544.95 372.05 544.21 372.01 543.62 371.90C543.03 371.80 542.50 371.61 542.15 371.39C541.80 371.17 541.57 370.88 541.51 370.58C541.46 370.28 541.56 369.93 541.80 369.59C542.05 369.26 542.47 368.89 542.97 368.57C543.48 368.25 544.15 367.93 544.85 367.68C545.54 367.42 546.37 367.20 547.14 367.04C547.92 366.89 548.77 366.80 549.51 366.77C550.25 366.75 550.99 366.79 551.58 366.90C552.17 367.00 552.70 367.19 553.05 367.41C553.40 367.63 553.58 368.08 553.69 368.22Z" fill="#800000" clip-path="url(#cf)"/>
<path d="M552.70 377.55C552.66 377.71 552.67 378.20 552.46 378.53C552.25 378.86 551.89 379.22 551.44 379.52C551.00 379.83 550.40 380.14 549.79 380.37C549.18 380.61 548.45 380.82 547.76 380.96C547.07 381.09 546.32 381.17 545.66 381.18C545.00 381.19 544.33 381.13 543.81 381.01C543.28 380.89 542.80 380.70 542.49 380.47C542.17 380.24 541.96 379.95 541.90 379.65C541.84 379.35 541.93 379.00 542.14 378.67C542.35 378.34 542.71 377.98 543.16 377.68C543.60 377.37 544.20 377.06 544.81 376.83C545.42 376.59 546.15 376.38 546.84 376.24C547.53 376.11 548.28 376.03 548.94 376.02C549.60 376.01 550.27 376.07 550.79 376.19C551.32 376.31 551.80 376.50 552.11 376.73C552.43 376.96 552.60 377.41 552.70 377.55Z" fill="#800000" clip-path="url(#cf)"/>
<path d="M520.90 390.40C521.03 388.62 521.35 383.63 521.70 379.70C522.05 375.77 522.65 370.55 523.00 366.80C523.35 363.05 523.57 359.12 523.80 357.20C524.03 355.28 524.30 355.62 524.40 355.30L524.40 355.30C524.57 355.62 525.05 355.55 525.40 357.20C525.75 358.85 526.03 362.43 526.50 365.20C526.97 367.97 527.67 371.35 528.20 373.80C528.73 376.25 529.08 378.27 529.70 379.90C530.32 381.53 531.10 382.82 531.90 383.60C532.70 384.38 533.05 384.70 534.50 384.60C535.95 384.50 538.55 383.53 540.60 383.00C542.65 382.47 545.03 381.57 546.80 381.40C548.57 381.23 550.33 381.67 551.20 382.00C552.07 382.33 551.87 383.17 552.00 383.40L552.00 383.40C551.28 383.20 549.60 382.05 547.70 382.20C545.80 382.35 543.23 383.52 540.60 384.30C537.97 385.08 535.18 385.88 531.90 386.90C528.62 387.92 522.73 389.82 520.90 390.40Z" fill="#800000"/>
<path d="M528.70 333.20C528.95 332.52 529.67 330.78 530.20 329.10C530.73 327.42 531.38 325.70 531.90 323.10C532.42 320.50 532.90 317.48 533.30 313.50C533.70 309.52 533.90 304.78 534.30 299.20C534.70 293.62 535.30 286.00 535.70 280.00C536.10 274.00 536.42 267.60 536.70 263.20C536.98 258.80 537.18 255.77 537.40 253.60C537.62 251.43 537.77 251.00 538.00 250.20C538.23 249.40 538.67 249.03 538.80 248.80L538.80 248.80C538.92 249.03 539.30 249.60 539.50 250.20C539.70 250.80 539.75 250.63 540.00 252.40C540.25 254.17 540.83 259.40 541.00 260.80L541.00 260.80C541.27 261.00 542.28 260.00 542.60 262.00C542.92 264.00 542.77 267.80 542.90 272.80C543.03 277.80 543.20 286.02 543.40 292.00C543.60 297.98 543.83 303.92 544.10 308.70C544.37 313.48 544.52 317.70 545.00 320.70C545.48 323.70 545.87 324.70 547.00 326.70C548.13 328.70 549.80 330.70 551.80 332.70C553.80 334.70 557.27 337.12 559.00 338.70C560.73 340.28 561.67 341.62 562.20 342.20L562.20 342.20C561.83 342.70 560.87 344.80 560.00 345.20C559.13 345.60 558.00 344.77 557.00 344.60C556.00 344.43 555.07 344.00 554.00 344.20C552.93 344.40 551.17 345.53 550.60 345.80L550.60 345.80C549.93 345.45 548.07 344.72 546.60 343.70C545.13 342.68 543.67 341.03 541.80 339.70C539.93 338.37 537.58 336.78 535.40 335.70C533.22 334.62 529.82 333.62 528.70 333.20Z" fill="#800000"/>
</svg>
</body></html>
